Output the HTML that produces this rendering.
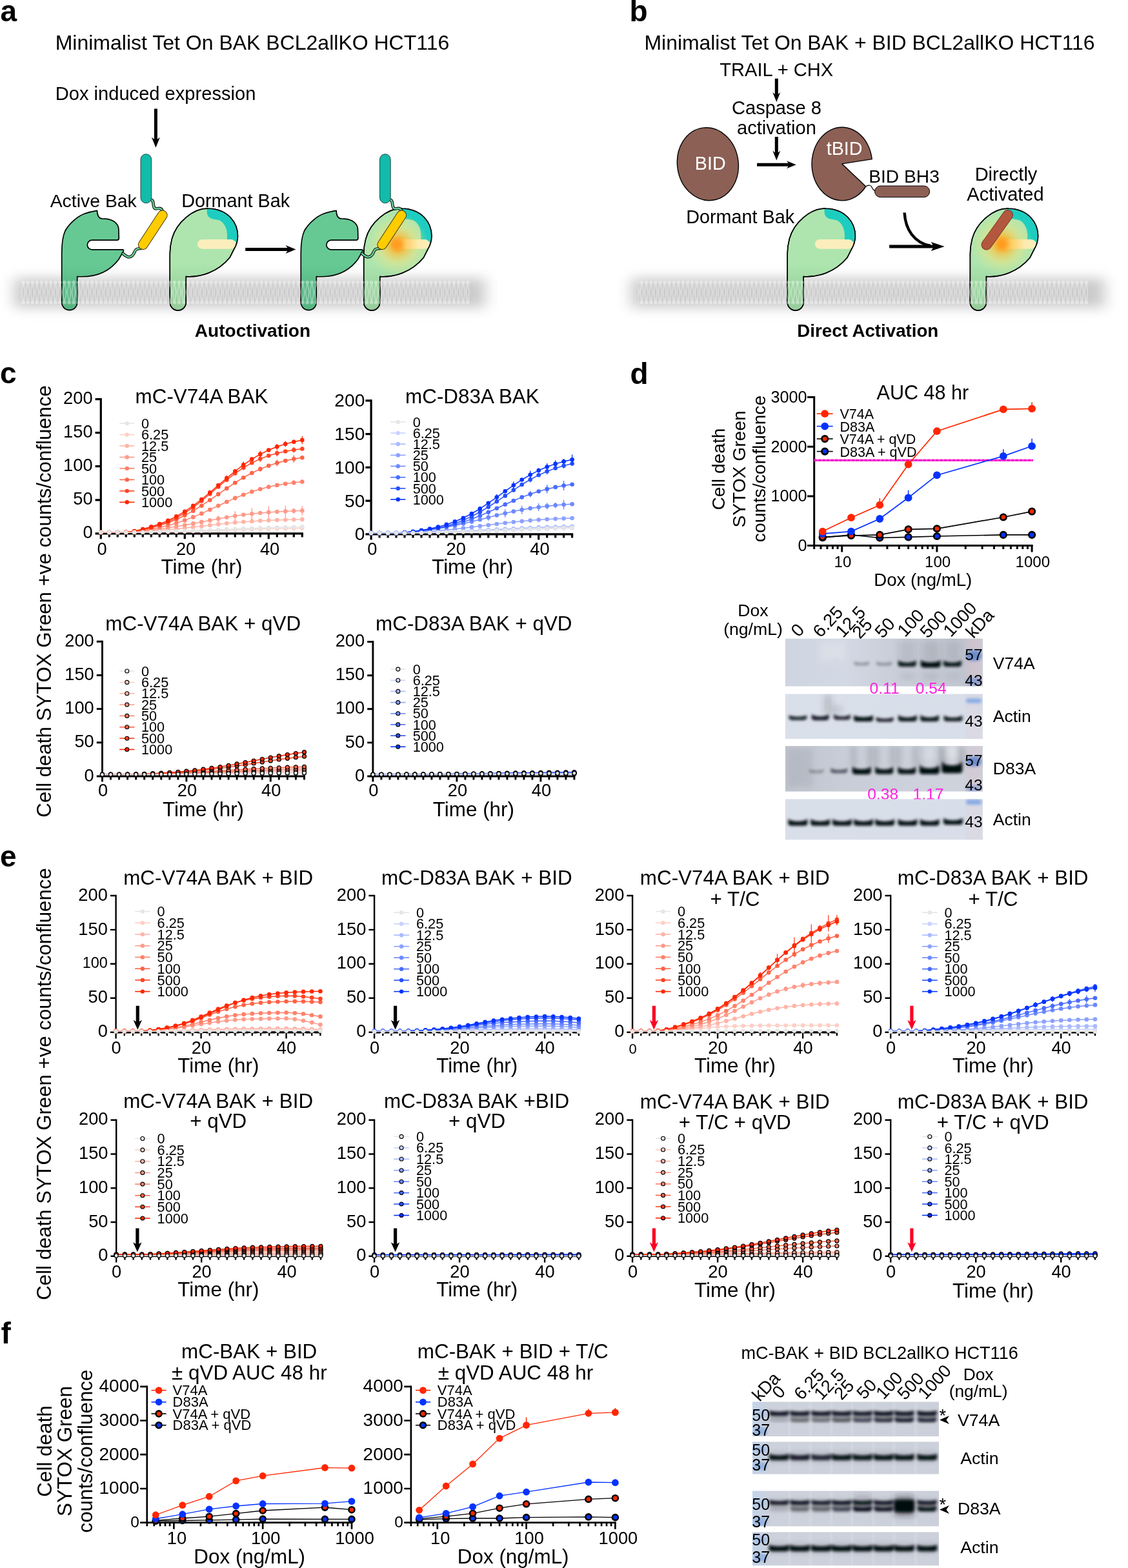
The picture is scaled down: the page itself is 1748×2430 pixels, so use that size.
<!DOCTYPE html>
<html lang="en"><head><meta charset="utf-8"><title>Figure</title>
<style>
html,body{margin:0;padding:0;background:#fff}
body{width:1748px;height:2430px;overflow:hidden}
svg{display:block}
svg text{font-family:"Liberation Sans",sans-serif}
</style></head><body>
<svg width="1748" height="2430" viewBox="0 0 1748 2430">
<defs>
<filter id="blur15" x="-20%" y="-100%" width="140%" height="300%"><feGaussianBlur stdDeviation="2"/></filter>
<filter id="blur2" x="-20%" y="-100%" width="140%" height="300%"><feGaussianBlur stdDeviation="2.2"/></filter>
<filter id="blur4" x="-50%" y="-50%" width="200%" height="200%"><feGaussianBlur stdDeviation="5"/></filter>
<filter id="mblur" x="-10%" y="-150%" width="120%" height="400%"><feGaussianBlur stdDeviation="11 9"/></filter>
<filter id="glow" x="-50%" y="-50%" width="200%" height="200%"><feGaussianBlur stdDeviation="3"/></filter>
<pattern id="lip" patternUnits="userSpaceOnUse" x="32.5" y="433" width="7.1" height="40"><g fill="#fff" stroke="none"><circle cx="3.55" cy="4.6" r="2.7"/><circle cx="3.55" cy="35.8" r="2.7"/></g><path d="M3.1 6.5C2.2 12 0.6 17 1.2 23M4 6.5C4.9 12 6.5 17 5.9 23M3.1 34C2.2 28 0.6 23 1.2 17M4 34C4.9 28 6.5 23 5.9 17" stroke="#fff" stroke-width="1.5" fill="none"/></pattern>
<linearGradient id="stemA" x1="0" x2="0" y1="0" y2="1" gradientUnits="userSpaceOnUse" ><stop offset="0" stop-color="#66C994"/><stop offset="1" stop-color="#66C994"/></linearGradient>
<linearGradient id="gA" gradientUnits="userSpaceOnUse" x1="0" y1="410" x2="0" y2="480"><stop offset="0" stop-color="#66C994"/><stop offset="0.45" stop-color="#5BBB88"/><stop offset="1" stop-color="#58B583"/></linearGradient>
<linearGradient id="gD" gradientUnits="userSpaceOnUse" x1="0" y1="410" x2="0" y2="480"><stop offset="0" stop-color="#AEE5AE"/><stop offset="0.45" stop-color="#9ED6A2"/><stop offset="1" stop-color="#98CC9C"/></linearGradient>
<radialGradient id="gGlow" cx="0.5" cy="0.5" r="0.5"><stop offset="0" stop-color="#FF9A1F" stop-opacity="1"/><stop offset="0.25" stop-color="#FFB733" stop-opacity="0.8"/><stop offset="0.6" stop-color="#F6E27A" stop-opacity="0.45"/><stop offset="1" stop-color="#E8EE9A" stop-opacity="0"/></radialGradient>
<linearGradient id="gBar" x1="0" x2="1" y1="0" y2="0"><stop offset="0" stop-color="#FFA52A"/><stop offset="0.3" stop-color="#FFC95A"/><stop offset="0.7" stop-color="#FCEBAE"/><stop offset="1" stop-color="#FBEEBC"/></linearGradient>
<clipPath id="dc263"><path d="M0 393L0 468.6A12.5 12.5 0 0 0 25 468.6L25 428.5C47 430 74 422 92.7 399.3L99 386.8C103 380 105.2 372 105.2 365.9C105.2 345 90 324 60 323.2C36 322 10 345 3.1 370.1C1 378 0 386 0 393Z"/></clipPath>
<clipPath id="dc563"><path d="M0 393L0 468.6A12.5 12.5 0 0 0 25 468.6L25 428.5C47 430 74 422 92.7 399.3L99 386.8C103 380 105.2 372 105.2 365.9C105.2 345 90 324 60 323.2C36 322 10 345 3.1 370.1C1 378 0 386 0 393Z"/></clipPath>
<clipPath id="dc1220"><path d="M0 393L0 468.6A12.5 12.5 0 0 0 25 468.6L25 428.5C47 430 74 422 92.7 399.3L99 386.8C103 380 105.2 372 105.2 365.9C105.2 345 90 324 60 323.2C36 322 10 345 3.1 370.1C1 378 0 386 0 393Z"/></clipPath>
<clipPath id="dc1503"><path d="M0 393L0 468.6A12.5 12.5 0 0 0 25 468.6L25 428.5C47 430 74 422 92.7 399.3L99 386.8C103 380 105.2 372 105.2 365.9C105.2 345 90 324 60 323.2C36 322 10 345 3.1 370.1C1 378 0 386 0 393Z"/></clipPath>
<linearGradient id="bg1" x1="0" x2="1" y1="0" y2="0"><stop offset="0" stop-color="#CFD5E0"/><stop offset="0.3" stop-color="#D3D9E4"/><stop offset="0.55" stop-color="#C9CED9"/><stop offset="0.9" stop-color="#C0C5D0"/><stop offset="1" stop-color="#CDCDD6"/></linearGradient>
<clipPath id="bc1"><rect x="1216.7" y="989.4" width="306.3" height="74.4"/></clipPath>
<linearGradient id="bg2" x1="0" x2="1" y1="0" y2="0"><stop offset="0" stop-color="#DAE0EA"/><stop offset="1" stop-color="#D8DEE9"/></linearGradient>
<clipPath id="bc2"><rect x="1216.7" y="1075.3" width="306.3" height="70.0"/></clipPath>
<linearGradient id="bg3" x1="0" x2="1" y1="0" y2="0"><stop offset="0" stop-color="#BFC4CE"/><stop offset="0.3" stop-color="#C8CDD7"/><stop offset="0.7" stop-color="#CDD2DC"/><stop offset="1" stop-color="#CFD2DB"/></linearGradient>
<clipPath id="bc3"><rect x="1216.7" y="1156.1" width="306.3" height="70.7"/></clipPath>
<linearGradient id="bg4" x1="0" x2="1" y1="0" y2="0"><stop offset="0" stop-color="#D9DFE9"/><stop offset="1" stop-color="#D8DEE9"/></linearGradient>
<clipPath id="bc4"><rect x="1216.7" y="1238.2" width="306.3" height="63.4"/></clipPath>
<linearGradient id="bg5" x1="0" x2="1" y1="0" y2="0"><stop offset="0" stop-color="#C3D3EA"/><stop offset="0.06" stop-color="#C9D2E2"/><stop offset="0.1" stop-color="#CDD1DB"/><stop offset="1" stop-color="#CCD0DA"/></linearGradient>
<clipPath id="bc5"><rect x="1166.0" y="2172.3" width="289.0" height="53.8"/></clipPath>
<linearGradient id="bg6" x1="0" x2="1" y1="0" y2="0"><stop offset="0" stop-color="#C3D3EA"/><stop offset="0.06" stop-color="#C9D2E2"/><stop offset="0.1" stop-color="#CDD1DB"/><stop offset="1" stop-color="#CCD0DA"/></linearGradient>
<clipPath id="bc6"><rect x="1166.0" y="2234.2" width="289.0" height="50.5"/></clipPath>
<linearGradient id="bg7" x1="0" x2="1" y1="0" y2="0"><stop offset="0" stop-color="#C3D3EA"/><stop offset="0.06" stop-color="#C9D2E2"/><stop offset="0.1" stop-color="#CDD1DB"/><stop offset="1" stop-color="#CCD0DA"/></linearGradient>
<clipPath id="bc7"><rect x="1166.0" y="2310.3" width="289.0" height="55.3"/></clipPath>
<linearGradient id="bg8" x1="0" x2="1" y1="0" y2="0"><stop offset="0" stop-color="#C3D3EA"/><stop offset="0.06" stop-color="#C9D2E2"/><stop offset="0.1" stop-color="#CDD1DB"/><stop offset="1" stop-color="#CCD0DA"/></linearGradient>
<clipPath id="bc8"><rect x="1166.0" y="2374.2" width="289.0" height="52.2"/></clipPath>
</defs>
<rect width="1748" height="2430" fill="#fff"/>
<text x="0.5" y="33.0" font-size="46" font-weight="bold">a</text>
<text x="85.7" y="76.9" font-size="32">Minimalist Tet On BAK BCL2allKO HCT116</text>
<text x="85.8" y="155.1" font-size="29.1">Dox induced expression</text>
<path d="M238.9 168.6h5V215.8L247.9 212.8L241.4 228.8L234.9 212.8L238.9 215.8Z" fill="#000"/>
<rect x="22" y="431" width="730" height="46" fill="#CBCBCB" filter="url(#mblur)"/>
<text x="77.7" y="321.0" font-size="28.4">Active Bak</text>
<text x="281.2" y="321.4" font-size="28.8">Dormant Bak</text>
<path transform="translate(95.7 0)" d="M0 393L0 468.6A12 12 0 0 0 24 468.6L24 428.5C47 430 72 424 88.6 401.4L95.4 389.6Q96.6 386.8 93.8 386.8L46.9 386.8A7.3 7.3 0 0 1 46.9 372.2L85.4 372.2Q88.6 372 88.6 369L88.2 355.5C88 347 80 340 67.7 339.2L63 339C57 339 55 333 54.8 326.3C47 327.5 41 329 35 331.3C24 335.5 11 347 5.2 358C2 365 0 378 0 393Z" fill="url(#gA)" stroke="#000" stroke-width="1.7" stroke-linejoin="round"/>
<g transform="translate(0 0)">
<path d="M232 309C240 309 236 319 239.5 322.5C243 326 247 319.5 251 325" stroke="#000" stroke-width="4.6" fill="none" stroke-linecap="round"/>
<path d="M232 309C240 309 236 319 239.5 322.5C243 326 247 319.5 251 325" stroke="#66C994" stroke-width="2.6" fill="none" stroke-linecap="round"/>
<path d="M219 385C212 385 210 386.5 208.5 390.5C207 395 203 399.5 198 398C194.5 397 192.5 395 190.5 393" stroke="#000" stroke-width="4.6" fill="none" stroke-linecap="round"/>
<path d="M219 385C212 385 210 386.5 208.5 390.5C207 395 203 399.5 198 398C194.5 397 192.5 395 190.5 393" stroke="#66C994" stroke-width="2.6" fill="none" stroke-linecap="round"/>
<rect x="218" y="238.8" width="16.7" height="76" rx="8.3" fill="#12BBAA" stroke="#1a3a36" stroke-width="0.9"/>
<path d="M221.7 379.2L251.8 333.4" stroke="#3a2e00" stroke-width="15.6" stroke-linecap="round"/>
<path d="M221.7 379.2L251.8 333.4" stroke="#FFCC00" stroke-width="13.8" stroke-linecap="round"/>
</g>
<g transform="translate(263.3 0)">
<path d="M0 393L0 468.6A12.5 12.5 0 0 0 25 468.6L25 428.5C47 430 74 422 92.7 399.3L99 386.8C103 380 105.2 372 105.2 365.9C105.2 345 90 324 60 323.2C36 322 10 345 3.1 370.1C1 378 0 386 0 393Z" fill="url(#gD)" stroke="#000" stroke-width="1.4" stroke-linejoin="round"/>
<path d="M57.3 323.3C90 324 105.2 346 105.2 365.9C105.2 369 104.8 372 104 375L88.5 371.5C89.5 360 88 349 78.1 342C71 339 62 341 58.4 333.5C57.3 331 57.2 327 57.3 323.3Z" fill="#1DCDC0" clip-path="url(#dc263)"/>
<rect x="42.7" y="371.1" width="59.4" height="14.6" rx="7.3" fill="#FBEEBC"/>
<path d="M0 393L0 468.6A12.5 12.5 0 0 0 25 468.6L25 428.5C47 430 74 422 92.7 399.3L99 386.8C103 380 105.2 372 105.2 365.9C105.2 345 90 324 60 323.2C36 322 10 345 3.1 370.1C1 378 0 386 0 393Z" fill="none" stroke="#000" stroke-width="1.6" stroke-linejoin="round"/>
</g>
<path d="M380.2 383.9v5H445.5L442.5 392.9L458.5 386.4L442.5 379.9L445.5 383.9Z" fill="#000"/>
<path transform="translate(466.3 0)" d="M0 393L0 468.6A12 12 0 0 0 24 468.6L24 428.5C47 430 72 424 88.6 401.4L95.4 389.6Q96.6 386.8 93.8 386.8L46.9 386.8A7.3 7.3 0 0 1 46.9 372.2L85.4 372.2Q88.6 372 88.6 369L88.2 355.5C88 347 80 340 67.7 339.2L63 339C57 339 55 333 54.8 326.3C47 327.5 41 329 35 331.3C24 335.5 11 347 5.2 358C2 365 0 378 0 393Z" fill="url(#gA)" stroke="#000" stroke-width="1.7" stroke-linejoin="round"/>
<g transform="translate(563.7 0)">
<path d="M0 393L0 468.6A12.5 12.5 0 0 0 25 468.6L25 428.5C47 430 74 422 92.7 399.3L99 386.8C103 380 105.2 372 105.2 365.9C105.2 345 90 324 60 323.2C36 322 10 345 3.1 370.1C1 378 0 386 0 393Z" fill="url(#gD)" stroke="#000" stroke-width="1.4" stroke-linejoin="round"/>
<g clip-path="url(#dc563)"><path d="M57.3 323.3C90 324 105.2 346 105.2 365.9C105.2 369 104.8 372 104 375L88.5 371.5C89.5 360 88 349 78.1 342C71 339 62 341 58.4 333.5C57.3 331 57.2 327 57.3 323.3Z" fill="#1DCDC0"/>
<circle cx="52.5" cy="379" r="48" fill="url(#gGlow)"/></g>
<rect x="44" y="371.1" width="58" height="14.6" rx="7.3" fill="url(#gBar)"/>
<circle cx="52.5" cy="379" r="9" fill="#FF9A1F" opacity="0.9" filter="url(#glow)"/>
<path d="M0 393L0 468.6A12.5 12.5 0 0 0 25 468.6L25 428.5C47 430 74 422 92.7 399.3L99 386.8C103 380 105.2 372 105.2 365.9C105.2 345 90 324 60 323.2C36 322 10 345 3.1 370.1C1 378 0 386 0 393Z" fill="none" stroke="#000" stroke-width="1.6" stroke-linejoin="round"/>
</g>
<g transform="translate(370.5 0)">
<path d="M232 309C240 309 236 319 239.5 322.5C243 326 247 319.5 251 325" stroke="#000" stroke-width="4.6" fill="none" stroke-linecap="round"/>
<path d="M232 309C240 309 236 319 239.5 322.5C243 326 247 319.5 251 325" stroke="#66C994" stroke-width="2.6" fill="none" stroke-linecap="round"/>
<path d="M219 385C212 385 210 386.5 208.5 390.5C207 395 203 399.5 198 398C194.5 397 192.5 395 190.5 393" stroke="#000" stroke-width="4.6" fill="none" stroke-linecap="round"/>
<path d="M219 385C212 385 210 386.5 208.5 390.5C207 395 203 399.5 198 398C194.5 397 192.5 395 190.5 393" stroke="#66C994" stroke-width="2.6" fill="none" stroke-linecap="round"/>
<rect x="218" y="238.8" width="16.7" height="76" rx="8.3" fill="#12BBAA" stroke="#1a3a36" stroke-width="0.9"/>
<path d="M221.7 379.2L251.8 333.4" stroke="#3a2e00" stroke-width="15.6" stroke-linecap="round"/>
<path d="M221.7 379.2L251.8 333.4" stroke="#FFCC00" stroke-width="13.8" stroke-linecap="round"/>
</g>
<rect x="32.5" y="433" width="696.0" height="40" fill="url(#lip)" opacity="0.4"/>
<text x="301.7" y="522.3" font-size="28.1" font-weight="bold">Autoctivation</text>
<text x="975.5" y="33.0" font-size="46" font-weight="bold">b</text>
<text x="998.5" y="77.2" font-size="31.9">Minimalist Tet On BAK + BID BCL2allKO HCT116</text>
<text x="1203.2" y="118.2" font-size="29.1" text-anchor="middle">TRAIL + CHX</text>
<path d="M1200.8 121.7h5V146.1L1209.3 143.1L1203.3 158.1L1197.3 143.1L1200.8 146.1Z" fill="#000"/>
<text x="1203.5" y="177.0" font-size="29.1" text-anchor="middle">Caspase 8</text>
<text x="1203.5" y="208.0" font-size="29.1" text-anchor="middle">activation</text>
<path d="M1200.8 212.1h5V236.5L1209.3 233.5L1203.3 248.5L1197.3 233.5L1200.8 236.5Z" fill="#000"/>
<rect x="978" y="431" width="734" height="46" fill="#CBCBCB" filter="url(#mblur)"/>
<ellipse cx="1096.9" cy="254.2" rx="47.3" ry="56.6" transform="rotate(-8 1096.9 254.2)" fill="#8C6055" stroke="#000" stroke-width="1.4"/>
<text x="1100.7" y="262.5" font-size="28.7" text-anchor="middle" fill="#fff">BID</text>
<path d="M1173.1 252.8v5H1221.8L1218.8 261.3L1233.8 255.3L1218.8 249.3L1221.8 252.8Z" fill="#000"/>
<path d="M1304.8 253.9L1351.2 246.6A46.8 56.8 0 1 0 1341.7 289Z" fill="#8C6055" stroke="#000" stroke-width="1.4" stroke-linejoin="round"/>
<text x="1308.6" y="239.9" font-size="28.7" text-anchor="middle" fill="#fff">tBID</text>
<path d="M1341.7 289C1346 286 1350 287 1351 290C1352 293 1354 295 1357 296" stroke="#000" stroke-width="1.2" fill="none"/>
<rect x="1355.6" y="288.1" width="85" height="17.5" rx="8.7" fill="#8C6055" stroke="#000" stroke-width="1"/>
<text x="1346.2" y="282.5" font-size="28.2">BID BH3</text>
<text x="1559.0" y="280.0" font-size="29" text-anchor="middle">Directly</text>
<text x="1558.0" y="310.6" font-size="29" text-anchor="middle">Activated</text>
<text x="1063.2" y="345.7" font-size="28.8">Dormant Bak</text>
<g transform="translate(1220.2 0)">
<path d="M0 393L0 468.6A12.5 12.5 0 0 0 25 468.6L25 428.5C47 430 74 422 92.7 399.3L99 386.8C103 380 105.2 372 105.2 365.9C105.2 345 90 324 60 323.2C36 322 10 345 3.1 370.1C1 378 0 386 0 393Z" fill="url(#gD)" stroke="#000" stroke-width="1.4" stroke-linejoin="round"/>
<path d="M57.3 323.3C90 324 105.2 346 105.2 365.9C105.2 369 104.8 372 104 375L88.5 371.5C89.5 360 88 349 78.1 342C71 339 62 341 58.4 333.5C57.3 331 57.2 327 57.3 323.3Z" fill="#1DCDC0" clip-path="url(#dc1220)"/>
<rect x="42.7" y="371.1" width="59.4" height="14.6" rx="7.3" fill="#FBEEBC"/>
<path d="M0 393L0 468.6A12.5 12.5 0 0 0 25 468.6L25 428.5C47 430 74 422 92.7 399.3L99 386.8C103 380 105.2 372 105.2 365.9C105.2 345 90 324 60 323.2C36 322 10 345 3.1 370.1C1 378 0 386 0 393Z" fill="none" stroke="#000" stroke-width="1.6" stroke-linejoin="round"/>
</g>
<path d="M1401.6 329.5C1403 355 1416 376 1442 381" stroke="#000" stroke-width="4.4" fill="none"/>
<path d="M1378.1 379.4v5H1445.7L1442.7 388.9L1463.7 381.9L1442.7 374.9L1445.7 379.4Z" fill="#000"/>
<g transform="translate(1503.4 0)">
<path d="M0 393L0 468.6A12.5 12.5 0 0 0 25 468.6L25 428.5C47 430 74 422 92.7 399.3L99 386.8C103 380 105.2 372 105.2 365.9C105.2 345 90 324 60 323.2C36 322 10 345 3.1 370.1C1 378 0 386 0 393Z" fill="url(#gD)" stroke="#000" stroke-width="1.4" stroke-linejoin="round"/>
<g clip-path="url(#dc1503)"><path d="M57.3 323.3C90 324 105.2 346 105.2 365.9C105.2 369 104.8 372 104 375L88.5 371.5C89.5 360 88 349 78.1 342C71 339 62 341 58.4 333.5C57.3 331 57.2 327 57.3 323.3Z" fill="#1DCDC0"/>
<circle cx="49.5" cy="378" r="48" fill="url(#gGlow)"/></g>
<rect x="44" y="371.1" width="58" height="14.6" rx="7.3" fill="url(#gBar)"/>
<circle cx="49.5" cy="378" r="9" fill="#FF9A1F" opacity="0.9" filter="url(#glow)"/>
<path d="M0 393L0 468.6A12.5 12.5 0 0 0 25 468.6L25 428.5C47 430 74 422 92.7 399.3L99 386.8C103 380 105.2 372 105.2 365.9C105.2 345 90 324 60 323.2C36 322 10 345 3.1 370.1C1 378 0 386 0 393Z" fill="none" stroke="#000" stroke-width="1.6" stroke-linejoin="round"/>
</g>
<path d="M1528.8 379.3L1561.8 333.2" stroke="#5a2a1a" stroke-width="16.4" stroke-linecap="round" opacity="0.9"/>
<path d="M1528.8 379.3L1561.8 333.2" stroke="#B4573F" stroke-width="14.8" stroke-linecap="round"/>
<rect x="989" y="433" width="697" height="40" fill="url(#lip)" opacity="0.4"/>
<text x="1235.3" y="522.3" font-size="27.7" font-weight="bold">Direct Activation</text>
<text x="0.0" y="594.0" font-size="46" font-weight="bold">c</text>
<text x="78.9" y="931.9" font-size="31.2" text-anchor="middle" transform="rotate(-90 78.9 931.9)">Cell death SYTOX Green +ve counts/confluence</text>
<g>
<text x="312.5" y="625.1" font-size="31.4" text-anchor="middle">mC-V74A BAK</text>
<path d="M156.3 617.0V828.4" stroke="#000" stroke-width="3.2" fill="none"/>
<path d="M154.7 826.8H469.9" stroke="#000" stroke-width="3.2" fill="none"/>
<path d="M147.6 826.8H156.3M147.6 774.8H156.3M147.6 722.7H156.3M147.6 670.6H156.3M147.6 618.6H156.3" stroke="#000" stroke-width="3.2" fill="none"/>
<path d="M156.3 826.8v8.5M169.3 826.8v5.6M182.3 826.8v5.6M195.3 826.8v5.6M208.3 826.8v5.6M221.3 826.8v5.6M234.3 826.8v5.6M247.3 826.8v5.6M260.3 826.8v5.6M273.3 826.8v5.6M286.3 826.8v8.5M299.3 826.8v5.6M312.3 826.8v5.6M325.3 826.8v5.6M338.3 826.8v5.6M351.3 826.8v5.6M364.3 826.8v5.6M377.3 826.8v5.6M390.3 826.8v5.6M403.3 826.8v5.6M416.3 826.8v8.5M429.3 826.8v5.6M442.3 826.8v5.6M455.3 826.8v5.6M468.3 826.8v5.6" stroke="#000" stroke-width="3.2" fill="none"/>
<text x="143.6" y="834.4" font-size="27.3" text-anchor="end">0</text>
<text x="143.6" y="782.3" font-size="27.3" text-anchor="end">50</text>
<text x="143.6" y="730.3" font-size="27.3" text-anchor="end">100</text>
<text x="143.6" y="678.2" font-size="27.3" text-anchor="end">150</text>
<text x="143.6" y="626.2" font-size="27.3" text-anchor="end">200</text>
<text x="158.1" y="860.1" font-size="27.3" text-anchor="middle">0</text>
<text x="288.1" y="860.1" font-size="27.3" text-anchor="middle">20</text>
<text x="418.1" y="860.1" font-size="27.3" text-anchor="middle">40</text>
<text x="312.5" y="888.9" font-size="31.4" text-anchor="middle">Time (hr)</text>
<path d="M185.2 656.1H208.4" stroke="#E6E6E6" stroke-width="1.6"/>
<circle cx="196.8" cy="656.1" r="3.2" fill="#E6E6E6"/>
<text x="219.0" y="663.7" font-size="21.7">0</text>
<path d="M185.2 673.6H208.4" stroke="#FFCFC7" stroke-width="1.6"/>
<circle cx="196.8" cy="673.6" r="3.2" fill="#FFCFC7"/>
<text x="219.0" y="681.2" font-size="21.7">6.25</text>
<path d="M185.2 691.0H208.4" stroke="#FFB5A8" stroke-width="1.6"/>
<circle cx="196.8" cy="691.0" r="3.2" fill="#FFB5A8"/>
<text x="219.0" y="698.6" font-size="21.7">12.5</text>
<path d="M185.2 708.5H208.4" stroke="#FF9B8A" stroke-width="1.6"/>
<circle cx="196.8" cy="708.5" r="3.2" fill="#FF9B8A"/>
<text x="219.0" y="716.1" font-size="21.7">25</text>
<path d="M185.2 725.9H208.4" stroke="#FF816B" stroke-width="1.6"/>
<circle cx="196.8" cy="725.9" r="3.2" fill="#FF816B"/>
<text x="219.0" y="733.5" font-size="21.7">50</text>
<path d="M185.2 743.4H208.4" stroke="#FF6347" stroke-width="1.6"/>
<circle cx="196.8" cy="743.4" r="3.2" fill="#FF6347"/>
<text x="219.0" y="751.0" font-size="21.7">100</text>
<path d="M185.2 760.9H208.4" stroke="#FF4424" stroke-width="1.6"/>
<circle cx="196.8" cy="760.9" r="3.2" fill="#FF4424"/>
<text x="219.0" y="768.5" font-size="21.7">500</text>
<path d="M185.2 778.3H208.4" stroke="#FF2600" stroke-width="1.6"/>
<circle cx="196.8" cy="778.3" r="3.2" fill="#FF2600"/>
<text x="219.0" y="785.9" font-size="21.7">1000</text>
<path d="M156.3 825.0L169.3 825.0L182.3 825.0L195.3 825.0L208.3 824.9L221.3 824.8L234.3 824.6L247.3 824.4L260.3 824.2L273.3 824.0L286.3 823.7L299.3 823.3L312.3 822.9L325.3 822.5L338.3 822.0L351.3 821.5L364.3 821.1L377.3 820.6L390.3 820.2L403.3 819.8L416.3 819.4L429.3 819.1L442.3 818.9L455.3 818.7L468.3 818.5" stroke="#FFCFC7" stroke-width="1.5" fill="none"/>
<g fill="#FFCFC7"><circle cx="156.3" cy="825.0" r="3.3"/><circle cx="169.3" cy="825.0" r="3.3"/><circle cx="182.3" cy="825.0" r="3.3"/><circle cx="195.3" cy="825.0" r="3.3"/><circle cx="208.3" cy="824.9" r="3.3"/><circle cx="221.3" cy="824.8" r="3.3"/><circle cx="234.3" cy="824.6" r="3.3"/><circle cx="247.3" cy="824.4" r="3.3"/><circle cx="260.3" cy="824.2" r="3.3"/><circle cx="273.3" cy="824.0" r="3.3"/><circle cx="286.3" cy="823.7" r="3.3"/><circle cx="299.3" cy="823.3" r="3.3"/><circle cx="312.3" cy="822.9" r="3.3"/><circle cx="325.3" cy="822.5" r="3.3"/><circle cx="338.3" cy="822.0" r="3.3"/><circle cx="351.3" cy="821.5" r="3.3"/><circle cx="364.3" cy="821.1" r="3.3"/><circle cx="377.3" cy="820.6" r="3.3"/><circle cx="390.3" cy="820.2" r="3.3"/><circle cx="403.3" cy="819.8" r="3.3"/><circle cx="416.3" cy="819.4" r="3.3"/><circle cx="429.3" cy="819.1" r="3.3"/><circle cx="442.3" cy="818.9" r="3.3"/><circle cx="455.3" cy="818.7" r="3.3"/><circle cx="468.3" cy="818.5" r="3.3"/></g>
<path d="M156.3 825.0L169.3 825.0L182.3 825.0L195.3 824.9L208.3 824.5L221.3 823.8L234.3 822.9L247.3 822.0L260.3 820.9L273.3 819.7L286.3 818.3L299.3 816.9L312.3 815.4L325.3 813.9L338.3 812.4L351.3 811.1L364.3 809.8L377.3 808.8L390.3 807.9L403.3 807.1L416.3 806.5L429.3 805.9L442.3 805.5L455.3 805.2L468.3 804.9" stroke="#FFB5A8" stroke-width="1.5" fill="none"/>
<path d="M442.3 803.0V808.1M468.3 802.4V807.5" stroke="#FFB5A8" stroke-width="1.3" fill="none"/>
<g fill="#FFB5A8"><circle cx="156.3" cy="825.0" r="3.3"/><circle cx="169.3" cy="825.0" r="3.3"/><circle cx="182.3" cy="825.0" r="3.3"/><circle cx="195.3" cy="824.9" r="3.3"/><circle cx="208.3" cy="824.5" r="3.3"/><circle cx="221.3" cy="823.8" r="3.3"/><circle cx="234.3" cy="822.9" r="3.3"/><circle cx="247.3" cy="822.0" r="3.3"/><circle cx="260.3" cy="820.9" r="3.3"/><circle cx="273.3" cy="819.7" r="3.3"/><circle cx="286.3" cy="818.3" r="3.3"/><circle cx="299.3" cy="816.9" r="3.3"/><circle cx="312.3" cy="815.4" r="3.3"/><circle cx="325.3" cy="813.9" r="3.3"/><circle cx="338.3" cy="812.4" r="3.3"/><circle cx="351.3" cy="811.1" r="3.3"/><circle cx="364.3" cy="809.8" r="3.3"/><circle cx="377.3" cy="808.8" r="3.3"/><circle cx="390.3" cy="807.9" r="3.3"/><circle cx="403.3" cy="807.1" r="3.3"/><circle cx="416.3" cy="806.5" r="3.3"/><circle cx="429.3" cy="805.9" r="3.3"/><circle cx="442.3" cy="805.5" r="3.3"/><circle cx="455.3" cy="805.2" r="3.3"/><circle cx="468.3" cy="804.9" r="3.3"/></g>
<path d="M156.3 825.0L169.3 825.0L182.3 825.0L195.3 824.9L208.3 824.2L221.3 822.9L234.3 821.5L247.3 819.9L260.3 818.1L273.3 816.1L286.3 813.8L299.3 811.4L312.3 808.9L325.3 806.4L338.3 803.9L351.3 801.7L364.3 799.6L377.3 797.8L390.3 796.3L403.3 795.0L416.3 793.9L429.3 793.1L442.3 792.4L455.3 791.8L468.3 791.4" stroke="#FF9B8A" stroke-width="1.5" fill="none"/>
<path d="M273.3 813.1V819.1M299.3 807.8V814.9M312.3 806.0V811.7M325.3 802.9V809.9M338.3 798.9V809.0M351.3 798.8V804.5M364.3 792.3V807.0M390.3 787.2V805.4M416.3 784.3V803.6M429.3 790.4V795.7M442.3 783.4V801.4M455.3 787.5V796.2M468.3 784.1V798.7" stroke="#FF9B8A" stroke-width="1.3" fill="none"/>
<g fill="#FF9B8A"><circle cx="156.3" cy="825.0" r="3.3"/><circle cx="169.3" cy="825.0" r="3.3"/><circle cx="182.3" cy="825.0" r="3.3"/><circle cx="195.3" cy="824.9" r="3.3"/><circle cx="208.3" cy="824.2" r="3.3"/><circle cx="221.3" cy="822.9" r="3.3"/><circle cx="234.3" cy="821.5" r="3.3"/><circle cx="247.3" cy="819.9" r="3.3"/><circle cx="260.3" cy="818.1" r="3.3"/><circle cx="273.3" cy="816.1" r="3.3"/><circle cx="286.3" cy="813.8" r="3.3"/><circle cx="299.3" cy="811.4" r="3.3"/><circle cx="312.3" cy="808.9" r="3.3"/><circle cx="325.3" cy="806.4" r="3.3"/><circle cx="338.3" cy="803.9" r="3.3"/><circle cx="351.3" cy="801.7" r="3.3"/><circle cx="364.3" cy="799.6" r="3.3"/><circle cx="377.3" cy="797.8" r="3.3"/><circle cx="390.3" cy="796.3" r="3.3"/><circle cx="403.3" cy="795.0" r="3.3"/><circle cx="416.3" cy="793.9" r="3.3"/><circle cx="429.3" cy="793.1" r="3.3"/><circle cx="442.3" cy="792.4" r="3.3"/><circle cx="455.3" cy="791.8" r="3.3"/><circle cx="468.3" cy="791.4" r="3.3"/></g>
<path d="M156.3 825.0L169.3 825.0L182.3 825.0L195.3 824.8L208.3 823.8L221.3 822.1L234.3 819.9L247.3 817.4L260.3 814.4L273.3 810.7L286.3 806.4L299.3 801.4L312.3 795.9L325.3 789.9L338.3 783.8L351.3 777.7L364.3 771.9L377.3 766.7L390.3 762.0L403.3 758.0L416.3 754.6L429.3 751.9L442.3 749.7L455.3 748.0L468.3 746.6" stroke="#FF816B" stroke-width="1.5" fill="none"/>
<path d="M338.3 781.2V786.3M364.3 768.7V775.2M390.3 758.6V765.4M416.3 751.6V757.7M429.3 749.2V754.6M455.3 744.2V751.8" stroke="#FF816B" stroke-width="1.3" fill="none"/>
<g fill="#FF816B"><circle cx="156.3" cy="825.0" r="3.3"/><circle cx="169.3" cy="825.0" r="3.3"/><circle cx="182.3" cy="825.0" r="3.3"/><circle cx="195.3" cy="824.8" r="3.3"/><circle cx="208.3" cy="823.8" r="3.3"/><circle cx="221.3" cy="822.1" r="3.3"/><circle cx="234.3" cy="819.9" r="3.3"/><circle cx="247.3" cy="817.4" r="3.3"/><circle cx="260.3" cy="814.4" r="3.3"/><circle cx="273.3" cy="810.7" r="3.3"/><circle cx="286.3" cy="806.4" r="3.3"/><circle cx="299.3" cy="801.4" r="3.3"/><circle cx="312.3" cy="795.9" r="3.3"/><circle cx="325.3" cy="789.9" r="3.3"/><circle cx="338.3" cy="783.8" r="3.3"/><circle cx="351.3" cy="777.7" r="3.3"/><circle cx="364.3" cy="771.9" r="3.3"/><circle cx="377.3" cy="766.7" r="3.3"/><circle cx="390.3" cy="762.0" r="3.3"/><circle cx="403.3" cy="758.0" r="3.3"/><circle cx="416.3" cy="754.6" r="3.3"/><circle cx="429.3" cy="751.9" r="3.3"/><circle cx="442.3" cy="749.7" r="3.3"/><circle cx="455.3" cy="748.0" r="3.3"/><circle cx="468.3" cy="746.6" r="3.3"/></g>
<path d="M156.3 825.0L169.3 825.0L182.3 825.0L195.3 824.8L208.3 823.4L221.3 821.0L234.3 817.9L247.3 814.4L260.3 810.2L273.3 805.0L286.3 798.8L299.3 791.7L312.3 783.7L325.3 775.0L338.3 765.9L351.3 756.9L364.3 748.2L377.3 740.2L390.3 733.0L403.3 726.9L416.3 721.7L429.3 717.4L442.3 714.0L455.3 711.3L468.3 709.2" stroke="#FF6347" stroke-width="1.5" fill="none"/>
<path d="M338.3 763.2V768.6M364.3 745.4V751.0M377.3 737.7V742.7M403.3 722.9V730.8M429.3 712.3V722.6M455.3 705.5V717.1" stroke="#FF6347" stroke-width="1.3" fill="none"/>
<g fill="#FF6347"><circle cx="156.3" cy="825.0" r="3.3"/><circle cx="169.3" cy="825.0" r="3.3"/><circle cx="182.3" cy="825.0" r="3.3"/><circle cx="195.3" cy="824.8" r="3.3"/><circle cx="208.3" cy="823.4" r="3.3"/><circle cx="221.3" cy="821.0" r="3.3"/><circle cx="234.3" cy="817.9" r="3.3"/><circle cx="247.3" cy="814.4" r="3.3"/><circle cx="260.3" cy="810.2" r="3.3"/><circle cx="273.3" cy="805.0" r="3.3"/><circle cx="286.3" cy="798.8" r="3.3"/><circle cx="299.3" cy="791.7" r="3.3"/><circle cx="312.3" cy="783.7" r="3.3"/><circle cx="325.3" cy="775.0" r="3.3"/><circle cx="338.3" cy="765.9" r="3.3"/><circle cx="351.3" cy="756.9" r="3.3"/><circle cx="364.3" cy="748.2" r="3.3"/><circle cx="377.3" cy="740.2" r="3.3"/><circle cx="390.3" cy="733.0" r="3.3"/><circle cx="403.3" cy="726.9" r="3.3"/><circle cx="416.3" cy="721.7" r="3.3"/><circle cx="429.3" cy="717.4" r="3.3"/><circle cx="442.3" cy="714.0" r="3.3"/><circle cx="455.3" cy="711.3" r="3.3"/><circle cx="468.3" cy="709.2" r="3.3"/></g>
<path d="M156.3 825.0L169.3 825.0L182.3 825.0L195.3 824.8L208.3 823.4L221.3 820.9L234.3 817.6L247.3 813.8L260.3 808.9L273.3 802.7L286.3 795.2L299.3 786.4L312.3 776.4L325.3 765.5L338.3 754.5L351.3 743.7L364.3 733.6L377.3 724.8L390.3 717.3L403.3 711.1L416.3 706.2L429.3 702.4L442.3 699.5L455.3 697.3L468.3 695.6" stroke="#FF4424" stroke-width="1.5" fill="none"/>
<path d="M351.3 741.1V746.2M377.3 721.0V728.6M403.3 706.5V715.7M429.3 697.6V707.2M455.3 693.0V701.6" stroke="#FF4424" stroke-width="1.3" fill="none"/>
<g fill="#FF4424"><circle cx="156.3" cy="825.0" r="3.3"/><circle cx="169.3" cy="825.0" r="3.3"/><circle cx="182.3" cy="825.0" r="3.3"/><circle cx="195.3" cy="824.8" r="3.3"/><circle cx="208.3" cy="823.4" r="3.3"/><circle cx="221.3" cy="820.9" r="3.3"/><circle cx="234.3" cy="817.6" r="3.3"/><circle cx="247.3" cy="813.8" r="3.3"/><circle cx="260.3" cy="808.9" r="3.3"/><circle cx="273.3" cy="802.7" r="3.3"/><circle cx="286.3" cy="795.2" r="3.3"/><circle cx="299.3" cy="786.4" r="3.3"/><circle cx="312.3" cy="776.4" r="3.3"/><circle cx="325.3" cy="765.5" r="3.3"/><circle cx="338.3" cy="754.5" r="3.3"/><circle cx="351.3" cy="743.7" r="3.3"/><circle cx="364.3" cy="733.6" r="3.3"/><circle cx="377.3" cy="724.8" r="3.3"/><circle cx="390.3" cy="717.3" r="3.3"/><circle cx="403.3" cy="711.1" r="3.3"/><circle cx="416.3" cy="706.2" r="3.3"/><circle cx="429.3" cy="702.4" r="3.3"/><circle cx="442.3" cy="699.5" r="3.3"/><circle cx="455.3" cy="697.3" r="3.3"/><circle cx="468.3" cy="695.6" r="3.3"/></g>
<path d="M156.3 825.0L169.3 825.0L182.3 825.0L195.3 824.7L208.3 823.0L221.3 820.0L234.3 816.2L247.3 812.0L260.3 806.7L273.3 800.3L286.3 792.7L299.3 783.9L312.3 774.0L325.3 763.3L338.3 752.1L351.3 741.0L364.3 730.3L377.3 720.4L390.3 711.6L403.3 703.9L416.3 697.5L429.3 692.3L442.3 688.1L455.3 684.7L468.3 682.1" stroke="#FF2600" stroke-width="1.5" fill="none"/>
<path d="M325.3 760.4V766.2M351.3 736.7V745.3M377.3 715.2V725.5M403.3 698.8V709.1M416.3 694.7V700.4M429.3 687.9V696.7M442.3 683.6V692.6M455.3 681.5V687.9M468.3 676.0V688.2" stroke="#FF2600" stroke-width="1.3" fill="none"/>
<g fill="#FF2600"><circle cx="156.3" cy="825.0" r="3.3"/><circle cx="169.3" cy="825.0" r="3.3"/><circle cx="182.3" cy="825.0" r="3.3"/><circle cx="195.3" cy="824.7" r="3.3"/><circle cx="208.3" cy="823.0" r="3.3"/><circle cx="221.3" cy="820.0" r="3.3"/><circle cx="234.3" cy="816.2" r="3.3"/><circle cx="247.3" cy="812.0" r="3.3"/><circle cx="260.3" cy="806.7" r="3.3"/><circle cx="273.3" cy="800.3" r="3.3"/><circle cx="286.3" cy="792.7" r="3.3"/><circle cx="299.3" cy="783.9" r="3.3"/><circle cx="312.3" cy="774.0" r="3.3"/><circle cx="325.3" cy="763.3" r="3.3"/><circle cx="338.3" cy="752.1" r="3.3"/><circle cx="351.3" cy="741.0" r="3.3"/><circle cx="364.3" cy="730.3" r="3.3"/><circle cx="377.3" cy="720.4" r="3.3"/><circle cx="390.3" cy="711.6" r="3.3"/><circle cx="403.3" cy="703.9" r="3.3"/><circle cx="416.3" cy="697.5" r="3.3"/><circle cx="429.3" cy="692.3" r="3.3"/><circle cx="442.3" cy="688.1" r="3.3"/><circle cx="455.3" cy="684.7" r="3.3"/><circle cx="468.3" cy="682.1" r="3.3"/></g>
<path d="M156.3 825.0L169.3 825.0L182.3 825.0L195.3 825.0L208.3 824.9L221.3 824.7L234.3 824.4L247.3 824.1L260.3 823.8L273.3 823.5L286.3 823.0L299.3 822.6L312.3 822.1L325.3 821.5L338.3 821.0L351.3 820.4L364.3 819.8L377.3 819.2L390.3 818.7L403.3 818.2L416.3 817.7L429.3 817.3L442.3 817.0L455.3 816.7L468.3 816.4" stroke="#E6E6E6" stroke-width="1.5" fill="none"/>
<g fill="#E6E6E6"><circle cx="156.3" cy="825.0" r="3.3"/><circle cx="169.3" cy="825.0" r="3.3"/><circle cx="182.3" cy="825.0" r="3.3"/><circle cx="195.3" cy="825.0" r="3.3"/><circle cx="208.3" cy="824.9" r="3.3"/><circle cx="221.3" cy="824.7" r="3.3"/><circle cx="234.3" cy="824.4" r="3.3"/><circle cx="247.3" cy="824.1" r="3.3"/><circle cx="260.3" cy="823.8" r="3.3"/><circle cx="273.3" cy="823.5" r="3.3"/><circle cx="286.3" cy="823.0" r="3.3"/><circle cx="299.3" cy="822.6" r="3.3"/><circle cx="312.3" cy="822.1" r="3.3"/><circle cx="325.3" cy="821.5" r="3.3"/><circle cx="338.3" cy="821.0" r="3.3"/><circle cx="351.3" cy="820.4" r="3.3"/><circle cx="364.3" cy="819.8" r="3.3"/><circle cx="377.3" cy="819.2" r="3.3"/><circle cx="390.3" cy="818.7" r="3.3"/><circle cx="403.3" cy="818.2" r="3.3"/><circle cx="416.3" cy="817.7" r="3.3"/><circle cx="429.3" cy="817.3" r="3.3"/><circle cx="442.3" cy="817.0" r="3.3"/><circle cx="455.3" cy="816.7" r="3.3"/><circle cx="468.3" cy="816.4" r="3.3"/></g>
</g>
<g>
<text x="731.9" y="625.1" font-size="31.4" text-anchor="middle">mC-D83A BAK</text>
<path d="M575.1 619.2V829.5" stroke="#000" stroke-width="3.2" fill="none"/>
<path d="M573.5 827.9H888.2" stroke="#000" stroke-width="3.2" fill="none"/>
<path d="M566.4 827.9H575.1M566.4 776.1H575.1M566.4 724.3H575.1M566.4 672.6H575.1M566.4 620.8H575.1" stroke="#000" stroke-width="3.2" fill="none"/>
<path d="M575.1 827.9v8.5M588.1 827.9v5.6M601.1 827.9v5.6M614.0 827.9v5.6M627.0 827.9v5.6M640.0 827.9v5.6M653.0 827.9v5.6M666.0 827.9v5.6M678.9 827.9v5.6M691.9 827.9v5.6M704.9 827.9v8.5M717.9 827.9v5.6M730.9 827.9v5.6M743.8 827.9v5.6M756.8 827.9v5.6M769.8 827.9v5.6M782.8 827.9v5.6M795.8 827.9v5.6M808.7 827.9v5.6M821.7 827.9v5.6M834.7 827.9v8.5M847.7 827.9v5.6M860.7 827.9v5.6M873.6 827.9v5.6M886.6 827.9v5.6" stroke="#000" stroke-width="3.2" fill="none"/>
<text x="565.4" y="837.3" font-size="28.2" text-anchor="end">0</text>
<text x="565.4" y="785.6" font-size="28.2" text-anchor="end">50</text>
<text x="565.4" y="733.8" font-size="28.2" text-anchor="end">100</text>
<text x="565.4" y="682.0" font-size="28.2" text-anchor="end">150</text>
<text x="565.4" y="630.2" font-size="28.2" text-anchor="end">200</text>
<text x="576.9" y="860.0" font-size="27.3" text-anchor="middle">0</text>
<text x="706.7" y="860.0" font-size="27.3" text-anchor="middle">20</text>
<text x="836.5" y="860.0" font-size="27.3" text-anchor="middle">40</text>
<text x="732.2" y="889.4" font-size="31.4" text-anchor="middle">Time (hr)</text>
<path d="M605.2 653.9H628.4" stroke="#E6E6E6" stroke-width="1.6"/>
<circle cx="616.8" cy="653.9" r="3.2" fill="#E6E6E6"/>
<text x="639.7" y="661.5" font-size="21.7">0</text>
<path d="M605.2 671.1H628.4" stroke="#C8D2FF" stroke-width="1.6"/>
<circle cx="616.8" cy="671.1" r="3.2" fill="#C8D2FF"/>
<text x="639.7" y="678.7" font-size="21.7">6.25</text>
<path d="M605.2 688.2H628.4" stroke="#AABAFF" stroke-width="1.6"/>
<circle cx="616.8" cy="688.2" r="3.2" fill="#AABAFF"/>
<text x="639.7" y="695.8" font-size="21.7">12.5</text>
<path d="M605.2 705.4H628.4" stroke="#8CA1FF" stroke-width="1.6"/>
<circle cx="616.8" cy="705.4" r="3.2" fill="#8CA1FF"/>
<text x="639.7" y="713.0" font-size="21.7">25</text>
<path d="M605.2 722.5H628.4" stroke="#6D89FF" stroke-width="1.6"/>
<circle cx="616.8" cy="722.5" r="3.2" fill="#6D89FF"/>
<text x="639.7" y="730.1" font-size="21.7">50</text>
<path d="M605.2 739.7H628.4" stroke="#4A6CFF" stroke-width="1.6"/>
<circle cx="616.8" cy="739.7" r="3.2" fill="#4A6CFF"/>
<text x="639.7" y="747.3" font-size="21.7">100</text>
<path d="M605.2 756.9H628.4" stroke="#2750FF" stroke-width="1.6"/>
<circle cx="616.8" cy="756.9" r="3.2" fill="#2750FF"/>
<text x="639.7" y="764.5" font-size="21.7">500</text>
<path d="M605.2 774.0H628.4" stroke="#0433FF" stroke-width="1.6"/>
<circle cx="616.8" cy="774.0" r="3.2" fill="#0433FF"/>
<text x="639.7" y="781.6" font-size="21.7">1000</text>
<path d="M575.1 826.1L588.1 826.1L601.1 826.1L614.0 826.1L627.0 826.0L640.0 825.8L653.0 825.6L666.0 825.4L678.9 825.2L691.9 824.9L704.9 824.6L717.9 824.2L730.9 823.8L743.8 823.4L756.8 822.9L769.8 822.4L782.8 821.9L795.8 821.3L808.7 820.8L821.7 820.3L834.7 819.7L847.7 819.3L860.7 818.8L873.6 818.4L886.6 818.1" stroke="#C8D2FF" stroke-width="1.5" fill="none"/>
<g fill="#C8D2FF"><circle cx="575.1" cy="826.1" r="3.3"/><circle cx="588.1" cy="826.1" r="3.3"/><circle cx="601.1" cy="826.1" r="3.3"/><circle cx="614.0" cy="826.1" r="3.3"/><circle cx="627.0" cy="826.0" r="3.3"/><circle cx="640.0" cy="825.8" r="3.3"/><circle cx="653.0" cy="825.6" r="3.3"/><circle cx="666.0" cy="825.4" r="3.3"/><circle cx="678.9" cy="825.2" r="3.3"/><circle cx="691.9" cy="824.9" r="3.3"/><circle cx="704.9" cy="824.6" r="3.3"/><circle cx="717.9" cy="824.2" r="3.3"/><circle cx="730.9" cy="823.8" r="3.3"/><circle cx="743.8" cy="823.4" r="3.3"/><circle cx="756.8" cy="822.9" r="3.3"/><circle cx="769.8" cy="822.4" r="3.3"/><circle cx="782.8" cy="821.9" r="3.3"/><circle cx="795.8" cy="821.3" r="3.3"/><circle cx="808.7" cy="820.8" r="3.3"/><circle cx="821.7" cy="820.3" r="3.3"/><circle cx="834.7" cy="819.7" r="3.3"/><circle cx="847.7" cy="819.3" r="3.3"/><circle cx="860.7" cy="818.8" r="3.3"/><circle cx="873.6" cy="818.4" r="3.3"/><circle cx="886.6" cy="818.1" r="3.3"/></g>
<path d="M575.1 826.1L588.1 826.1L601.1 826.1L614.0 826.1L627.0 825.9L640.0 825.7L653.0 825.4L666.0 825.1L678.9 824.7L691.9 824.2L704.9 823.8L717.9 823.2L730.9 822.6L743.8 822.0L756.8 821.3L769.8 820.6L782.8 819.9L795.8 819.2L808.7 818.6L821.7 818.0L834.7 817.4L847.7 816.9L860.7 816.5L873.6 816.1L886.6 815.8" stroke="#AABAFF" stroke-width="1.5" fill="none"/>
<g fill="#AABAFF"><circle cx="575.1" cy="826.1" r="3.3"/><circle cx="588.1" cy="826.1" r="3.3"/><circle cx="601.1" cy="826.1" r="3.3"/><circle cx="614.0" cy="826.1" r="3.3"/><circle cx="627.0" cy="825.9" r="3.3"/><circle cx="640.0" cy="825.7" r="3.3"/><circle cx="653.0" cy="825.4" r="3.3"/><circle cx="666.0" cy="825.1" r="3.3"/><circle cx="678.9" cy="824.7" r="3.3"/><circle cx="691.9" cy="824.2" r="3.3"/><circle cx="704.9" cy="823.8" r="3.3"/><circle cx="717.9" cy="823.2" r="3.3"/><circle cx="730.9" cy="822.6" r="3.3"/><circle cx="743.8" cy="822.0" r="3.3"/><circle cx="756.8" cy="821.3" r="3.3"/><circle cx="769.8" cy="820.6" r="3.3"/><circle cx="782.8" cy="819.9" r="3.3"/><circle cx="795.8" cy="819.2" r="3.3"/><circle cx="808.7" cy="818.6" r="3.3"/><circle cx="821.7" cy="818.0" r="3.3"/><circle cx="834.7" cy="817.4" r="3.3"/><circle cx="847.7" cy="816.9" r="3.3"/><circle cx="860.7" cy="816.5" r="3.3"/><circle cx="873.6" cy="816.1" r="3.3"/><circle cx="886.6" cy="815.8" r="3.3"/></g>
<path d="M575.1 826.1L588.1 826.1L601.1 826.1L614.0 826.1L627.0 825.7L640.0 825.0L653.0 824.2L666.0 823.4L678.9 822.4L691.9 821.2L704.9 819.9L717.9 818.5L730.9 816.9L743.8 815.3L756.8 813.7L769.8 812.0L782.8 810.5L795.8 809.0L808.7 807.7L821.7 806.6L834.7 805.6L847.7 804.8L860.7 804.1L873.6 803.5L886.6 803.0" stroke="#8CA1FF" stroke-width="1.5" fill="none"/>
<g fill="#8CA1FF"><circle cx="575.1" cy="826.1" r="3.3"/><circle cx="588.1" cy="826.1" r="3.3"/><circle cx="601.1" cy="826.1" r="3.3"/><circle cx="614.0" cy="826.1" r="3.3"/><circle cx="627.0" cy="825.7" r="3.3"/><circle cx="640.0" cy="825.0" r="3.3"/><circle cx="653.0" cy="824.2" r="3.3"/><circle cx="666.0" cy="823.4" r="3.3"/><circle cx="678.9" cy="822.4" r="3.3"/><circle cx="691.9" cy="821.2" r="3.3"/><circle cx="704.9" cy="819.9" r="3.3"/><circle cx="717.9" cy="818.5" r="3.3"/><circle cx="730.9" cy="816.9" r="3.3"/><circle cx="743.8" cy="815.3" r="3.3"/><circle cx="756.8" cy="813.7" r="3.3"/><circle cx="769.8" cy="812.0" r="3.3"/><circle cx="782.8" cy="810.5" r="3.3"/><circle cx="795.8" cy="809.0" r="3.3"/><circle cx="808.7" cy="807.7" r="3.3"/><circle cx="821.7" cy="806.6" r="3.3"/><circle cx="834.7" cy="805.6" r="3.3"/><circle cx="847.7" cy="804.8" r="3.3"/><circle cx="860.7" cy="804.1" r="3.3"/><circle cx="873.6" cy="803.5" r="3.3"/><circle cx="886.6" cy="803.0" r="3.3"/></g>
<path d="M575.1 826.1L588.1 826.1L601.1 826.1L614.0 826.0L627.0 825.3L640.0 824.1L653.0 822.7L666.0 821.1L678.9 819.3L691.9 817.0L704.9 814.5L717.9 811.6L730.9 808.5L743.8 805.2L756.8 801.9L769.8 798.6L782.8 795.5L795.8 792.6L808.7 790.1L821.7 787.8L834.7 786.0L847.7 784.4L860.7 783.1L873.6 782.1L886.6 781.3" stroke="#6D89FF" stroke-width="1.5" fill="none"/>
<path d="M730.9 805.1V812.0M756.8 796.7V807.0M782.8 789.1V801.9M808.7 783.4V796.7M821.7 784.6V791.1M834.7 780.1V791.9M847.7 779.2V789.6M860.7 778.7V787.6M873.6 774.8V789.4M886.6 778.3V784.3" stroke="#6D89FF" stroke-width="1.3" fill="none"/>
<g fill="#6D89FF"><circle cx="575.1" cy="826.1" r="3.3"/><circle cx="588.1" cy="826.1" r="3.3"/><circle cx="601.1" cy="826.1" r="3.3"/><circle cx="614.0" cy="826.0" r="3.3"/><circle cx="627.0" cy="825.3" r="3.3"/><circle cx="640.0" cy="824.1" r="3.3"/><circle cx="653.0" cy="822.7" r="3.3"/><circle cx="666.0" cy="821.1" r="3.3"/><circle cx="678.9" cy="819.3" r="3.3"/><circle cx="691.9" cy="817.0" r="3.3"/><circle cx="704.9" cy="814.5" r="3.3"/><circle cx="717.9" cy="811.6" r="3.3"/><circle cx="730.9" cy="808.5" r="3.3"/><circle cx="743.8" cy="805.2" r="3.3"/><circle cx="756.8" cy="801.9" r="3.3"/><circle cx="769.8" cy="798.6" r="3.3"/><circle cx="782.8" cy="795.5" r="3.3"/><circle cx="795.8" cy="792.6" r="3.3"/><circle cx="808.7" cy="790.1" r="3.3"/><circle cx="821.7" cy="787.8" r="3.3"/><circle cx="834.7" cy="786.0" r="3.3"/><circle cx="847.7" cy="784.4" r="3.3"/><circle cx="860.7" cy="783.1" r="3.3"/><circle cx="873.6" cy="782.1" r="3.3"/><circle cx="886.6" cy="781.3" r="3.3"/></g>
<path d="M575.1 826.1L588.1 826.1L601.1 826.1L614.0 826.0L627.0 825.4L640.0 824.2L653.0 822.7L666.0 821.0L678.9 818.9L691.9 816.2L704.9 813.0L717.9 809.1L730.9 804.5L743.8 799.3L756.8 793.7L769.8 787.8L782.8 781.8L795.8 776.0L808.7 770.6L821.7 765.7L834.7 761.5L847.7 757.9L860.7 754.9L873.6 752.6L886.6 750.7" stroke="#4A6CFF" stroke-width="1.5" fill="none"/>
<path d="M756.8 790.7V796.7M782.8 778.5V785.1M795.8 772.9V779.0M808.7 767.7V773.5M821.7 760.8V770.6M847.7 751.3V764.5M873.6 745.0V760.1" stroke="#4A6CFF" stroke-width="1.3" fill="none"/>
<g fill="#4A6CFF"><circle cx="575.1" cy="826.1" r="3.3"/><circle cx="588.1" cy="826.1" r="3.3"/><circle cx="601.1" cy="826.1" r="3.3"/><circle cx="614.0" cy="826.0" r="3.3"/><circle cx="627.0" cy="825.4" r="3.3"/><circle cx="640.0" cy="824.2" r="3.3"/><circle cx="653.0" cy="822.7" r="3.3"/><circle cx="666.0" cy="821.0" r="3.3"/><circle cx="678.9" cy="818.9" r="3.3"/><circle cx="691.9" cy="816.2" r="3.3"/><circle cx="704.9" cy="813.0" r="3.3"/><circle cx="717.9" cy="809.1" r="3.3"/><circle cx="730.9" cy="804.5" r="3.3"/><circle cx="743.8" cy="799.3" r="3.3"/><circle cx="756.8" cy="793.7" r="3.3"/><circle cx="769.8" cy="787.8" r="3.3"/><circle cx="782.8" cy="781.8" r="3.3"/><circle cx="795.8" cy="776.0" r="3.3"/><circle cx="808.7" cy="770.6" r="3.3"/><circle cx="821.7" cy="765.7" r="3.3"/><circle cx="834.7" cy="761.5" r="3.3"/><circle cx="847.7" cy="757.9" r="3.3"/><circle cx="860.7" cy="754.9" r="3.3"/><circle cx="873.6" cy="752.6" r="3.3"/><circle cx="886.6" cy="750.7" r="3.3"/></g>
<path d="M575.1 826.1L588.1 826.1L601.1 826.1L614.0 826.0L627.0 825.3L640.0 824.1L653.0 822.5L666.0 820.6L678.9 818.2L691.9 815.0L704.9 811.1L717.9 806.3L730.9 800.4L743.8 793.5L756.8 785.7L769.8 777.2L782.8 768.4L795.8 759.5L808.7 751.0L821.7 743.2L834.7 736.3L847.7 730.5L860.7 725.6L873.6 721.7L886.6 718.6" stroke="#2750FF" stroke-width="1.5" fill="none"/>
<path d="M795.8 756.3V762.7M821.7 739.0V747.4M847.7 725.8V735.2M873.6 717.2V726.1M886.6 716.1V721.1" stroke="#2750FF" stroke-width="1.3" fill="none"/>
<g fill="#2750FF"><circle cx="575.1" cy="826.1" r="3.3"/><circle cx="588.1" cy="826.1" r="3.3"/><circle cx="601.1" cy="826.1" r="3.3"/><circle cx="614.0" cy="826.0" r="3.3"/><circle cx="627.0" cy="825.3" r="3.3"/><circle cx="640.0" cy="824.1" r="3.3"/><circle cx="653.0" cy="822.5" r="3.3"/><circle cx="666.0" cy="820.6" r="3.3"/><circle cx="678.9" cy="818.2" r="3.3"/><circle cx="691.9" cy="815.0" r="3.3"/><circle cx="704.9" cy="811.1" r="3.3"/><circle cx="717.9" cy="806.3" r="3.3"/><circle cx="730.9" cy="800.4" r="3.3"/><circle cx="743.8" cy="793.5" r="3.3"/><circle cx="756.8" cy="785.7" r="3.3"/><circle cx="769.8" cy="777.2" r="3.3"/><circle cx="782.8" cy="768.4" r="3.3"/><circle cx="795.8" cy="759.5" r="3.3"/><circle cx="808.7" cy="751.0" r="3.3"/><circle cx="821.7" cy="743.2" r="3.3"/><circle cx="834.7" cy="736.3" r="3.3"/><circle cx="847.7" cy="730.5" r="3.3"/><circle cx="860.7" cy="725.6" r="3.3"/><circle cx="873.6" cy="721.7" r="3.3"/><circle cx="886.6" cy="718.6" r="3.3"/></g>
<path d="M575.1 826.1L588.1 826.1L601.1 826.1L614.0 826.0L627.0 825.2L640.0 823.7L653.0 821.7L666.0 819.5L678.9 816.6L691.9 812.9L704.9 808.3L717.9 802.7L730.9 796.0L743.8 788.3L756.8 779.7L769.8 770.6L782.8 761.2L795.8 752.1L808.7 743.5L821.7 735.8L834.7 729.1L847.7 723.5L860.7 718.9L873.6 715.2L886.6 712.3" stroke="#0433FF" stroke-width="1.5" fill="none"/>
<path d="M743.8 785.4V791.2M769.8 766.0V775.2M795.8 746.2V758.0M821.7 729.6V742.0M834.7 725.6V732.6M847.7 718.0V729.0M860.7 713.3V724.6M873.6 711.1V719.3M886.6 704.6V720.1" stroke="#0433FF" stroke-width="1.3" fill="none"/>
<g fill="#0433FF"><circle cx="575.1" cy="826.1" r="3.3"/><circle cx="588.1" cy="826.1" r="3.3"/><circle cx="601.1" cy="826.1" r="3.3"/><circle cx="614.0" cy="826.0" r="3.3"/><circle cx="627.0" cy="825.2" r="3.3"/><circle cx="640.0" cy="823.7" r="3.3"/><circle cx="653.0" cy="821.7" r="3.3"/><circle cx="666.0" cy="819.5" r="3.3"/><circle cx="678.9" cy="816.6" r="3.3"/><circle cx="691.9" cy="812.9" r="3.3"/><circle cx="704.9" cy="808.3" r="3.3"/><circle cx="717.9" cy="802.7" r="3.3"/><circle cx="730.9" cy="796.0" r="3.3"/><circle cx="743.8" cy="788.3" r="3.3"/><circle cx="756.8" cy="779.7" r="3.3"/><circle cx="769.8" cy="770.6" r="3.3"/><circle cx="782.8" cy="761.2" r="3.3"/><circle cx="795.8" cy="752.1" r="3.3"/><circle cx="808.7" cy="743.5" r="3.3"/><circle cx="821.7" cy="735.8" r="3.3"/><circle cx="834.7" cy="729.1" r="3.3"/><circle cx="847.7" cy="723.5" r="3.3"/><circle cx="860.7" cy="718.9" r="3.3"/><circle cx="873.6" cy="715.2" r="3.3"/><circle cx="886.6" cy="712.3" r="3.3"/></g>
<path d="M575.1 826.1L588.1 826.1L601.1 826.1L614.0 826.1L627.0 826.0L640.0 825.8L653.0 825.6L666.0 825.4L678.9 825.1L691.9 824.8L704.9 824.5L717.9 824.1L730.9 823.7L743.8 823.2L756.8 822.7L769.8 822.1L782.8 821.6L795.8 821.0L808.7 820.4L821.7 819.9L834.7 819.3L847.7 818.8L860.7 818.4L873.6 817.9L886.6 817.5" stroke="#E6E6E6" stroke-width="1.5" fill="none"/>
<g fill="#E6E6E6"><circle cx="575.1" cy="826.1" r="3.3"/><circle cx="588.1" cy="826.1" r="3.3"/><circle cx="601.1" cy="826.1" r="3.3"/><circle cx="614.0" cy="826.1" r="3.3"/><circle cx="627.0" cy="826.0" r="3.3"/><circle cx="640.0" cy="825.8" r="3.3"/><circle cx="653.0" cy="825.6" r="3.3"/><circle cx="666.0" cy="825.4" r="3.3"/><circle cx="678.9" cy="825.1" r="3.3"/><circle cx="691.9" cy="824.8" r="3.3"/><circle cx="704.9" cy="824.5" r="3.3"/><circle cx="717.9" cy="824.1" r="3.3"/><circle cx="730.9" cy="823.7" r="3.3"/><circle cx="743.8" cy="823.2" r="3.3"/><circle cx="756.8" cy="822.7" r="3.3"/><circle cx="769.8" cy="822.1" r="3.3"/><circle cx="782.8" cy="821.6" r="3.3"/><circle cx="795.8" cy="821.0" r="3.3"/><circle cx="808.7" cy="820.4" r="3.3"/><circle cx="821.7" cy="819.9" r="3.3"/><circle cx="834.7" cy="819.3" r="3.3"/><circle cx="847.7" cy="818.8" r="3.3"/><circle cx="860.7" cy="818.4" r="3.3"/><circle cx="873.6" cy="817.9" r="3.3"/><circle cx="886.6" cy="817.5" r="3.3"/></g>
</g>
<g>
<text x="314.7" y="977.4" font-size="31.4" text-anchor="middle">mC-V74A BAK + qVD</text>
<path d="M158.5 992.8V1204.5" stroke="#000" stroke-width="2.9" fill="none"/>
<path d="M157.1 1203.0H472.9" stroke="#000" stroke-width="2.9" fill="none"/>
<path d="M149.8 1203.0H158.5M149.8 1150.8H158.5M149.8 1098.6H158.5M149.8 1046.5H158.5M149.8 994.3H158.5" stroke="#000" stroke-width="2.9" fill="none"/>
<path d="M158.5 1203.0v8.5M171.5 1203.0v5.6M184.6 1203.0v5.6M197.6 1203.0v5.6M210.7 1203.0v5.6M223.7 1203.0v5.6M236.7 1203.0v5.6M249.8 1203.0v5.6M262.8 1203.0v5.6M275.9 1203.0v5.6M288.9 1203.0v8.5M301.9 1203.0v5.6M315.0 1203.0v5.6M328.0 1203.0v5.6M341.1 1203.0v5.6M354.1 1203.0v5.6M367.1 1203.0v5.6M380.2 1203.0v5.6M393.2 1203.0v5.6M406.3 1203.0v5.6M419.3 1203.0v8.5M432.3 1203.0v5.6M445.4 1203.0v5.6M458.4 1203.0v5.6M471.5 1203.0v5.6" stroke="#000" stroke-width="2.9" fill="none"/>
<text x="145.8" y="1210.6" font-size="27.3" text-anchor="end">0</text>
<text x="145.8" y="1158.4" font-size="27.3" text-anchor="end">50</text>
<text x="145.8" y="1106.2" font-size="27.3" text-anchor="end">100</text>
<text x="145.8" y="1054.1" font-size="27.3" text-anchor="end">150</text>
<text x="145.8" y="1001.9" font-size="27.3" text-anchor="end">200</text>
<text x="159.5" y="1234.4" font-size="27.3" text-anchor="middle">0</text>
<text x="289.9" y="1234.4" font-size="27.3" text-anchor="middle">20</text>
<text x="420.3" y="1234.4" font-size="27.3" text-anchor="middle">40</text>
<text x="315.0" y="1265.3" font-size="31.4" text-anchor="middle">Time (hr)</text>
<path d="M185.2 1040.0H208.4" stroke="#E6E6E6" stroke-width="1.6"/>
<circle cx="196.8" cy="1040.0" r="3.0" fill="#E6E6E6" stroke="#000" stroke-width="1.1"/>
<text x="219.0" y="1047.6" font-size="21.7">0</text>
<path d="M185.2 1057.4H208.4" stroke="#FFCFC7" stroke-width="1.6"/>
<circle cx="196.8" cy="1057.4" r="3.0" fill="#FFCFC7" stroke="#000" stroke-width="1.1"/>
<text x="219.0" y="1065.0" font-size="21.7">6.25</text>
<path d="M185.2 1074.7H208.4" stroke="#FFB5A8" stroke-width="1.6"/>
<circle cx="196.8" cy="1074.7" r="3.0" fill="#FFB5A8" stroke="#000" stroke-width="1.1"/>
<text x="219.0" y="1082.3" font-size="21.7">12.5</text>
<path d="M185.2 1092.1H208.4" stroke="#FF9B8A" stroke-width="1.6"/>
<circle cx="196.8" cy="1092.1" r="3.0" fill="#FF9B8A" stroke="#000" stroke-width="1.1"/>
<text x="219.0" y="1099.7" font-size="21.7">25</text>
<path d="M185.2 1109.4H208.4" stroke="#FF816B" stroke-width="1.6"/>
<circle cx="196.8" cy="1109.4" r="3.0" fill="#FF816B" stroke="#000" stroke-width="1.1"/>
<text x="219.0" y="1117.0" font-size="21.7">50</text>
<path d="M185.2 1126.8H208.4" stroke="#FF6347" stroke-width="1.6"/>
<circle cx="196.8" cy="1126.8" r="3.0" fill="#FF6347" stroke="#000" stroke-width="1.1"/>
<text x="219.0" y="1134.4" font-size="21.7">100</text>
<path d="M185.2 1144.2H208.4" stroke="#FF4424" stroke-width="1.6"/>
<circle cx="196.8" cy="1144.2" r="3.0" fill="#FF4424" stroke="#000" stroke-width="1.1"/>
<text x="219.0" y="1151.8" font-size="21.7">500</text>
<path d="M185.2 1161.5H208.4" stroke="#FF2600" stroke-width="1.6"/>
<circle cx="196.8" cy="1161.5" r="3.0" fill="#FF2600" stroke="#000" stroke-width="1.1"/>
<text x="219.0" y="1169.1" font-size="21.7">1000</text>
<path d="M158.5 1200.3L171.5 1200.3L184.6 1200.3L197.6 1200.3L210.7 1200.2L223.7 1200.1L236.7 1200.0L249.8 1199.9L262.8 1199.8L275.9 1199.7L288.9 1199.6L301.9 1199.5L315.0 1199.3L328.0 1199.2L341.1 1199.1L354.1 1198.9L367.1 1198.8L380.2 1198.6L393.2 1198.5L406.3 1198.3L419.3 1198.2L432.3 1198.1L445.4 1198.0L458.4 1197.9L471.5 1197.8" stroke="#FFCFC7" stroke-width="1.5" fill="none"/>
<g fill="#FFCFC7" stroke="#000" stroke-width="1.2"><circle cx="158.5" cy="1200.3" r="3.0"/><circle cx="171.5" cy="1200.3" r="3.0"/><circle cx="184.6" cy="1200.3" r="3.0"/><circle cx="197.6" cy="1200.3" r="3.0"/><circle cx="210.7" cy="1200.2" r="3.0"/><circle cx="223.7" cy="1200.1" r="3.0"/><circle cx="236.7" cy="1200.0" r="3.0"/><circle cx="249.8" cy="1199.9" r="3.0"/><circle cx="262.8" cy="1199.8" r="3.0"/><circle cx="275.9" cy="1199.7" r="3.0"/><circle cx="288.9" cy="1199.6" r="3.0"/><circle cx="301.9" cy="1199.5" r="3.0"/><circle cx="315.0" cy="1199.3" r="3.0"/><circle cx="328.0" cy="1199.2" r="3.0"/><circle cx="341.1" cy="1199.1" r="3.0"/><circle cx="354.1" cy="1198.9" r="3.0"/><circle cx="367.1" cy="1198.8" r="3.0"/><circle cx="380.2" cy="1198.6" r="3.0"/><circle cx="393.2" cy="1198.5" r="3.0"/><circle cx="406.3" cy="1198.3" r="3.0"/><circle cx="419.3" cy="1198.2" r="3.0"/><circle cx="432.3" cy="1198.1" r="3.0"/><circle cx="445.4" cy="1198.0" r="3.0"/><circle cx="458.4" cy="1197.9" r="3.0"/><circle cx="471.5" cy="1197.8" r="3.0"/></g>
<path d="M158.5 1200.3L171.5 1200.3L184.6 1200.3L197.6 1200.3L210.7 1200.2L223.7 1200.1L236.7 1199.9L249.8 1199.8L262.8 1199.7L275.9 1199.5L288.9 1199.3L301.9 1199.1L315.0 1198.9L328.0 1198.7L341.1 1198.5L354.1 1198.3L367.1 1198.1L380.2 1197.9L393.2 1197.7L406.3 1197.5L419.3 1197.3L432.3 1197.2L445.4 1197.0L458.4 1196.9L471.5 1196.7" stroke="#FFB5A8" stroke-width="1.5" fill="none"/>
<g fill="#FFB5A8" stroke="#000" stroke-width="1.2"><circle cx="158.5" cy="1200.3" r="3.0"/><circle cx="171.5" cy="1200.3" r="3.0"/><circle cx="184.6" cy="1200.3" r="3.0"/><circle cx="197.6" cy="1200.3" r="3.0"/><circle cx="210.7" cy="1200.2" r="3.0"/><circle cx="223.7" cy="1200.1" r="3.0"/><circle cx="236.7" cy="1199.9" r="3.0"/><circle cx="249.8" cy="1199.8" r="3.0"/><circle cx="262.8" cy="1199.7" r="3.0"/><circle cx="275.9" cy="1199.5" r="3.0"/><circle cx="288.9" cy="1199.3" r="3.0"/><circle cx="301.9" cy="1199.1" r="3.0"/><circle cx="315.0" cy="1198.9" r="3.0"/><circle cx="328.0" cy="1198.7" r="3.0"/><circle cx="341.1" cy="1198.5" r="3.0"/><circle cx="354.1" cy="1198.3" r="3.0"/><circle cx="367.1" cy="1198.1" r="3.0"/><circle cx="380.2" cy="1197.9" r="3.0"/><circle cx="393.2" cy="1197.7" r="3.0"/><circle cx="406.3" cy="1197.5" r="3.0"/><circle cx="419.3" cy="1197.3" r="3.0"/><circle cx="432.3" cy="1197.2" r="3.0"/><circle cx="445.4" cy="1197.0" r="3.0"/><circle cx="458.4" cy="1196.9" r="3.0"/><circle cx="471.5" cy="1196.7" r="3.0"/></g>
<path d="M158.5 1200.3L171.5 1200.3L184.6 1200.3L197.6 1200.3L210.7 1200.1L223.7 1199.9L236.7 1199.7L249.8 1199.5L262.8 1199.2L275.9 1199.0L288.9 1198.7L301.9 1198.3L315.0 1198.0L328.0 1197.6L341.1 1197.2L354.1 1196.9L367.1 1196.5L380.2 1196.1L393.2 1195.7L406.3 1195.4L419.3 1195.1L432.3 1194.8L445.4 1194.5L458.4 1194.2L471.5 1194.0" stroke="#FF9B8A" stroke-width="1.5" fill="none"/>
<g fill="#FF9B8A" stroke="#000" stroke-width="1.2"><circle cx="158.5" cy="1200.3" r="3.0"/><circle cx="171.5" cy="1200.3" r="3.0"/><circle cx="184.6" cy="1200.3" r="3.0"/><circle cx="197.6" cy="1200.3" r="3.0"/><circle cx="210.7" cy="1200.1" r="3.0"/><circle cx="223.7" cy="1199.9" r="3.0"/><circle cx="236.7" cy="1199.7" r="3.0"/><circle cx="249.8" cy="1199.5" r="3.0"/><circle cx="262.8" cy="1199.2" r="3.0"/><circle cx="275.9" cy="1199.0" r="3.0"/><circle cx="288.9" cy="1198.7" r="3.0"/><circle cx="301.9" cy="1198.3" r="3.0"/><circle cx="315.0" cy="1198.0" r="3.0"/><circle cx="328.0" cy="1197.6" r="3.0"/><circle cx="341.1" cy="1197.2" r="3.0"/><circle cx="354.1" cy="1196.9" r="3.0"/><circle cx="367.1" cy="1196.5" r="3.0"/><circle cx="380.2" cy="1196.1" r="3.0"/><circle cx="393.2" cy="1195.7" r="3.0"/><circle cx="406.3" cy="1195.4" r="3.0"/><circle cx="419.3" cy="1195.1" r="3.0"/><circle cx="432.3" cy="1194.8" r="3.0"/><circle cx="445.4" cy="1194.5" r="3.0"/><circle cx="458.4" cy="1194.2" r="3.0"/><circle cx="471.5" cy="1194.0" r="3.0"/></g>
<path d="M158.5 1200.3L171.5 1200.3L184.6 1200.3L197.6 1200.3L210.7 1200.1L223.7 1199.8L236.7 1199.5L249.8 1199.3L262.8 1198.9L275.9 1198.5L288.9 1198.1L301.9 1197.7L315.0 1197.2L328.0 1196.6L341.1 1196.1L354.1 1195.5L367.1 1195.0L380.2 1194.4L393.2 1193.9L406.3 1193.4L419.3 1192.9L432.3 1192.5L445.4 1192.1L458.4 1191.8L471.5 1191.5" stroke="#FF816B" stroke-width="1.5" fill="none"/>
<g fill="#FF816B" stroke="#000" stroke-width="1.2"><circle cx="158.5" cy="1200.3" r="3.0"/><circle cx="171.5" cy="1200.3" r="3.0"/><circle cx="184.6" cy="1200.3" r="3.0"/><circle cx="197.6" cy="1200.3" r="3.0"/><circle cx="210.7" cy="1200.1" r="3.0"/><circle cx="223.7" cy="1199.8" r="3.0"/><circle cx="236.7" cy="1199.5" r="3.0"/><circle cx="249.8" cy="1199.3" r="3.0"/><circle cx="262.8" cy="1198.9" r="3.0"/><circle cx="275.9" cy="1198.5" r="3.0"/><circle cx="288.9" cy="1198.1" r="3.0"/><circle cx="301.9" cy="1197.7" r="3.0"/><circle cx="315.0" cy="1197.2" r="3.0"/><circle cx="328.0" cy="1196.6" r="3.0"/><circle cx="341.1" cy="1196.1" r="3.0"/><circle cx="354.1" cy="1195.5" r="3.0"/><circle cx="367.1" cy="1195.0" r="3.0"/><circle cx="380.2" cy="1194.4" r="3.0"/><circle cx="393.2" cy="1193.9" r="3.0"/><circle cx="406.3" cy="1193.4" r="3.0"/><circle cx="419.3" cy="1192.9" r="3.0"/><circle cx="432.3" cy="1192.5" r="3.0"/><circle cx="445.4" cy="1192.1" r="3.0"/><circle cx="458.4" cy="1191.8" r="3.0"/><circle cx="471.5" cy="1191.5" r="3.0"/></g>
<path d="M158.5 1200.3L171.5 1200.3L184.6 1200.3L197.6 1200.2L210.7 1200.0L223.7 1199.7L236.7 1199.3L249.8 1198.9L262.8 1198.4L275.9 1197.9L288.9 1197.4L301.9 1196.7L315.0 1196.1L328.0 1195.3L341.1 1194.6L354.1 1193.8L367.1 1193.1L380.2 1192.3L393.2 1191.6L406.3 1190.9L419.3 1190.3L432.3 1189.8L445.4 1189.2L458.4 1188.8L471.5 1188.4" stroke="#FF6347" stroke-width="1.5" fill="none"/>
<g fill="#FF6347" stroke="#000" stroke-width="1.2"><circle cx="158.5" cy="1200.3" r="3.0"/><circle cx="171.5" cy="1200.3" r="3.0"/><circle cx="184.6" cy="1200.3" r="3.0"/><circle cx="197.6" cy="1200.2" r="3.0"/><circle cx="210.7" cy="1200.0" r="3.0"/><circle cx="223.7" cy="1199.7" r="3.0"/><circle cx="236.7" cy="1199.3" r="3.0"/><circle cx="249.8" cy="1198.9" r="3.0"/><circle cx="262.8" cy="1198.4" r="3.0"/><circle cx="275.9" cy="1197.9" r="3.0"/><circle cx="288.9" cy="1197.4" r="3.0"/><circle cx="301.9" cy="1196.7" r="3.0"/><circle cx="315.0" cy="1196.1" r="3.0"/><circle cx="328.0" cy="1195.3" r="3.0"/><circle cx="341.1" cy="1194.6" r="3.0"/><circle cx="354.1" cy="1193.8" r="3.0"/><circle cx="367.1" cy="1193.1" r="3.0"/><circle cx="380.2" cy="1192.3" r="3.0"/><circle cx="393.2" cy="1191.6" r="3.0"/><circle cx="406.3" cy="1190.9" r="3.0"/><circle cx="419.3" cy="1190.3" r="3.0"/><circle cx="432.3" cy="1189.8" r="3.0"/><circle cx="445.4" cy="1189.2" r="3.0"/><circle cx="458.4" cy="1188.8" r="3.0"/><circle cx="471.5" cy="1188.4" r="3.0"/></g>
<path d="M158.5 1200.3L171.5 1200.3L184.6 1200.3L197.6 1200.2L210.7 1200.0L223.7 1199.6L236.7 1199.0L249.8 1198.5L262.8 1197.8L275.9 1197.0L288.9 1196.1L301.9 1195.0L315.0 1193.7L328.0 1192.3L341.1 1190.7L354.1 1188.9L367.1 1187.0L380.2 1185.0L393.2 1183.0L406.3 1180.9L419.3 1178.9L432.3 1177.0L445.4 1175.3L458.4 1173.7L471.5 1172.2" stroke="#FF4424" stroke-width="1.5" fill="none"/>
<g fill="#FF4424" stroke="#000" stroke-width="1.2"><circle cx="158.5" cy="1200.3" r="3.0"/><circle cx="171.5" cy="1200.3" r="3.0"/><circle cx="184.6" cy="1200.3" r="3.0"/><circle cx="197.6" cy="1200.2" r="3.0"/><circle cx="210.7" cy="1200.0" r="3.0"/><circle cx="223.7" cy="1199.6" r="3.0"/><circle cx="236.7" cy="1199.0" r="3.0"/><circle cx="249.8" cy="1198.5" r="3.0"/><circle cx="262.8" cy="1197.8" r="3.0"/><circle cx="275.9" cy="1197.0" r="3.0"/><circle cx="288.9" cy="1196.1" r="3.0"/><circle cx="301.9" cy="1195.0" r="3.0"/><circle cx="315.0" cy="1193.7" r="3.0"/><circle cx="328.0" cy="1192.3" r="3.0"/><circle cx="341.1" cy="1190.7" r="3.0"/><circle cx="354.1" cy="1188.9" r="3.0"/><circle cx="367.1" cy="1187.0" r="3.0"/><circle cx="380.2" cy="1185.0" r="3.0"/><circle cx="393.2" cy="1183.0" r="3.0"/><circle cx="406.3" cy="1180.9" r="3.0"/><circle cx="419.3" cy="1178.9" r="3.0"/><circle cx="432.3" cy="1177.0" r="3.0"/><circle cx="445.4" cy="1175.3" r="3.0"/><circle cx="458.4" cy="1173.7" r="3.0"/><circle cx="471.5" cy="1172.2" r="3.0"/></g>
<path d="M158.5 1200.3L171.5 1200.3L184.6 1200.3L197.6 1200.2L210.7 1199.9L223.7 1199.4L236.7 1198.7L249.8 1198.1L262.8 1197.3L275.9 1196.3L288.9 1195.1L301.9 1193.8L315.0 1192.2L328.0 1190.4L341.1 1188.5L354.1 1186.3L367.1 1183.9L380.2 1181.5L393.2 1179.0L406.3 1176.5L419.3 1174.0L432.3 1171.7L445.4 1169.5L458.4 1167.5L471.5 1165.7" stroke="#FF2600" stroke-width="1.5" fill="none"/>
<g fill="#FF2600" stroke="#000" stroke-width="1.2"><circle cx="158.5" cy="1200.3" r="3.0"/><circle cx="171.5" cy="1200.3" r="3.0"/><circle cx="184.6" cy="1200.3" r="3.0"/><circle cx="197.6" cy="1200.2" r="3.0"/><circle cx="210.7" cy="1199.9" r="3.0"/><circle cx="223.7" cy="1199.4" r="3.0"/><circle cx="236.7" cy="1198.7" r="3.0"/><circle cx="249.8" cy="1198.1" r="3.0"/><circle cx="262.8" cy="1197.3" r="3.0"/><circle cx="275.9" cy="1196.3" r="3.0"/><circle cx="288.9" cy="1195.1" r="3.0"/><circle cx="301.9" cy="1193.8" r="3.0"/><circle cx="315.0" cy="1192.2" r="3.0"/><circle cx="328.0" cy="1190.4" r="3.0"/><circle cx="341.1" cy="1188.5" r="3.0"/><circle cx="354.1" cy="1186.3" r="3.0"/><circle cx="367.1" cy="1183.9" r="3.0"/><circle cx="380.2" cy="1181.5" r="3.0"/><circle cx="393.2" cy="1179.0" r="3.0"/><circle cx="406.3" cy="1176.5" r="3.0"/><circle cx="419.3" cy="1174.0" r="3.0"/><circle cx="432.3" cy="1171.7" r="3.0"/><circle cx="445.4" cy="1169.5" r="3.0"/><circle cx="458.4" cy="1167.5" r="3.0"/><circle cx="471.5" cy="1165.7" r="3.0"/></g>
<path d="M158.5 1200.3L171.5 1200.3L184.6 1200.3L197.6 1200.3L210.7 1200.2L223.7 1200.1L236.7 1200.0L249.8 1199.9L262.8 1199.8L275.9 1199.7L288.9 1199.6L301.9 1199.5L315.0 1199.3L328.0 1199.2L341.1 1199.1L354.1 1198.9L367.1 1198.8L380.2 1198.6L393.2 1198.5L406.3 1198.3L419.3 1198.2L432.3 1198.1L445.4 1198.0L458.4 1197.9L471.5 1197.8" stroke="#E6E6E6" stroke-width="1.5" fill="none"/>
<g fill="#E6E6E6" stroke="#000" stroke-width="1.2"><circle cx="158.5" cy="1200.3" r="3.0"/><circle cx="171.5" cy="1200.3" r="3.0"/><circle cx="184.6" cy="1200.3" r="3.0"/><circle cx="197.6" cy="1200.3" r="3.0"/><circle cx="210.7" cy="1200.2" r="3.0"/><circle cx="223.7" cy="1200.1" r="3.0"/><circle cx="236.7" cy="1200.0" r="3.0"/><circle cx="249.8" cy="1199.9" r="3.0"/><circle cx="262.8" cy="1199.8" r="3.0"/><circle cx="275.9" cy="1199.7" r="3.0"/><circle cx="288.9" cy="1199.6" r="3.0"/><circle cx="301.9" cy="1199.5" r="3.0"/><circle cx="315.0" cy="1199.3" r="3.0"/><circle cx="328.0" cy="1199.2" r="3.0"/><circle cx="341.1" cy="1199.1" r="3.0"/><circle cx="354.1" cy="1198.9" r="3.0"/><circle cx="367.1" cy="1198.8" r="3.0"/><circle cx="380.2" cy="1198.6" r="3.0"/><circle cx="393.2" cy="1198.5" r="3.0"/><circle cx="406.3" cy="1198.3" r="3.0"/><circle cx="419.3" cy="1198.2" r="3.0"/><circle cx="432.3" cy="1198.1" r="3.0"/><circle cx="445.4" cy="1198.0" r="3.0"/><circle cx="458.4" cy="1197.9" r="3.0"/><circle cx="471.5" cy="1197.8" r="3.0"/></g>
</g>
<g>
<text x="734.3" y="977.4" font-size="31.4" text-anchor="middle">mC-D83A BAK + qVD</text>
<path d="M577.9 993.1V1204.5" stroke="#000" stroke-width="2.9" fill="none"/>
<path d="M576.4 1203.0H891.4" stroke="#000" stroke-width="2.9" fill="none"/>
<path d="M569.2 1203.0H577.9M569.2 1150.9H577.9M569.2 1098.8H577.9M569.2 1046.7H577.9M569.2 994.6H577.9" stroke="#000" stroke-width="2.9" fill="none"/>
<path d="M577.9 1203.0v8.5M590.9 1203.0v5.6M603.9 1203.0v5.6M616.9 1203.0v5.6M629.9 1203.0v5.6M642.9 1203.0v5.6M655.9 1203.0v5.6M668.9 1203.0v5.6M681.9 1203.0v5.6M694.9 1203.0v5.6M707.9 1203.0v8.5M720.9 1203.0v5.6M733.9 1203.0v5.6M746.9 1203.0v5.6M759.9 1203.0v5.6M772.9 1203.0v5.6M785.9 1203.0v5.6M798.9 1203.0v5.6M811.9 1203.0v5.6M824.9 1203.0v5.6M837.9 1203.0v8.5M850.9 1203.0v5.6M863.9 1203.0v5.6M876.9 1203.0v5.6M889.9 1203.0v5.6" stroke="#000" stroke-width="2.9" fill="none"/>
<text x="565.2" y="1210.6" font-size="27.3" text-anchor="end">0</text>
<text x="565.2" y="1158.5" font-size="27.3" text-anchor="end">50</text>
<text x="565.2" y="1106.4" font-size="27.3" text-anchor="end">100</text>
<text x="565.2" y="1054.3" font-size="27.3" text-anchor="end">150</text>
<text x="565.2" y="1002.2" font-size="27.3" text-anchor="end">200</text>
<text x="578.9" y="1234.4" font-size="27.3" text-anchor="middle">0</text>
<text x="708.9" y="1234.4" font-size="27.3" text-anchor="middle">20</text>
<text x="838.9" y="1234.4" font-size="27.3" text-anchor="middle">40</text>
<text x="733.9" y="1264.6" font-size="31.4" text-anchor="middle">Time (hr)</text>
<path d="M605.2 1037.1H628.4" stroke="#E6E6E6" stroke-width="1.6"/>
<circle cx="616.8" cy="1037.1" r="3.0" fill="#E6E6E6" stroke="#000" stroke-width="1.1"/>
<text x="639.7" y="1044.7" font-size="21.7">0</text>
<path d="M605.2 1054.3H628.4" stroke="#C8D2FF" stroke-width="1.6"/>
<circle cx="616.8" cy="1054.3" r="3.0" fill="#C8D2FF" stroke="#000" stroke-width="1.1"/>
<text x="639.7" y="1061.9" font-size="21.7">6.25</text>
<path d="M605.2 1071.4H628.4" stroke="#AABAFF" stroke-width="1.6"/>
<circle cx="616.8" cy="1071.4" r="3.0" fill="#AABAFF" stroke="#000" stroke-width="1.1"/>
<text x="639.7" y="1079.0" font-size="21.7">12.5</text>
<path d="M605.2 1088.6H628.4" stroke="#8CA1FF" stroke-width="1.6"/>
<circle cx="616.8" cy="1088.6" r="3.0" fill="#8CA1FF" stroke="#000" stroke-width="1.1"/>
<text x="639.7" y="1096.2" font-size="21.7">25</text>
<path d="M605.2 1105.8H628.4" stroke="#6D89FF" stroke-width="1.6"/>
<circle cx="616.8" cy="1105.8" r="3.0" fill="#6D89FF" stroke="#000" stroke-width="1.1"/>
<text x="639.7" y="1113.4" font-size="21.7">50</text>
<path d="M605.2 1122.9H628.4" stroke="#4A6CFF" stroke-width="1.6"/>
<circle cx="616.8" cy="1122.9" r="3.0" fill="#4A6CFF" stroke="#000" stroke-width="1.1"/>
<text x="639.7" y="1130.5" font-size="21.7">100</text>
<path d="M605.2 1140.1H628.4" stroke="#2750FF" stroke-width="1.6"/>
<circle cx="616.8" cy="1140.1" r="3.0" fill="#2750FF" stroke="#000" stroke-width="1.1"/>
<text x="639.7" y="1147.7" font-size="21.7">500</text>
<path d="M605.2 1157.3H628.4" stroke="#0433FF" stroke-width="1.6"/>
<circle cx="616.8" cy="1157.3" r="3.0" fill="#0433FF" stroke="#000" stroke-width="1.1"/>
<text x="639.7" y="1164.9" font-size="21.7">1000</text>
<path d="M577.9 1200.5L590.9 1200.5L603.9 1200.5L616.9 1200.5L629.9 1200.5L642.9 1200.4L655.9 1200.3L668.9 1200.3L681.9 1200.2L694.9 1200.1L707.9 1200.0L720.9 1200.0L733.9 1199.9L746.9 1199.8L759.9 1199.7L772.9 1199.6L785.9 1199.5L798.9 1199.4L811.9 1199.3L824.9 1199.2L837.9 1199.1L850.9 1199.0L863.9 1199.0L876.9 1198.9L889.9 1198.8" stroke="#C8D2FF" stroke-width="1.5" fill="none"/>
<g fill="#C8D2FF" stroke="#000" stroke-width="1.2"><circle cx="577.9" cy="1200.5" r="3.0"/><circle cx="590.9" cy="1200.5" r="3.0"/><circle cx="603.9" cy="1200.5" r="3.0"/><circle cx="616.9" cy="1200.5" r="3.0"/><circle cx="629.9" cy="1200.5" r="3.0"/><circle cx="642.9" cy="1200.4" r="3.0"/><circle cx="655.9" cy="1200.3" r="3.0"/><circle cx="668.9" cy="1200.3" r="3.0"/><circle cx="681.9" cy="1200.2" r="3.0"/><circle cx="694.9" cy="1200.1" r="3.0"/><circle cx="707.9" cy="1200.0" r="3.0"/><circle cx="720.9" cy="1200.0" r="3.0"/><circle cx="733.9" cy="1199.9" r="3.0"/><circle cx="746.9" cy="1199.8" r="3.0"/><circle cx="759.9" cy="1199.7" r="3.0"/><circle cx="772.9" cy="1199.6" r="3.0"/><circle cx="785.9" cy="1199.5" r="3.0"/><circle cx="798.9" cy="1199.4" r="3.0"/><circle cx="811.9" cy="1199.3" r="3.0"/><circle cx="824.9" cy="1199.2" r="3.0"/><circle cx="837.9" cy="1199.1" r="3.0"/><circle cx="850.9" cy="1199.0" r="3.0"/><circle cx="863.9" cy="1199.0" r="3.0"/><circle cx="876.9" cy="1198.9" r="3.0"/><circle cx="889.9" cy="1198.8" r="3.0"/></g>
<path d="M577.9 1200.5L590.9 1200.5L603.9 1200.5L616.9 1200.5L629.9 1200.5L642.9 1200.4L655.9 1200.3L668.9 1200.3L681.9 1200.2L694.9 1200.1L707.9 1200.0L720.9 1200.0L733.9 1199.9L746.9 1199.8L759.9 1199.7L772.9 1199.6L785.9 1199.5L798.9 1199.4L811.9 1199.3L824.9 1199.2L837.9 1199.1L850.9 1199.0L863.9 1199.0L876.9 1198.9L889.9 1198.8" stroke="#AABAFF" stroke-width="1.5" fill="none"/>
<g fill="#AABAFF" stroke="#000" stroke-width="1.2"><circle cx="577.9" cy="1200.5" r="3.0"/><circle cx="590.9" cy="1200.5" r="3.0"/><circle cx="603.9" cy="1200.5" r="3.0"/><circle cx="616.9" cy="1200.5" r="3.0"/><circle cx="629.9" cy="1200.5" r="3.0"/><circle cx="642.9" cy="1200.4" r="3.0"/><circle cx="655.9" cy="1200.3" r="3.0"/><circle cx="668.9" cy="1200.3" r="3.0"/><circle cx="681.9" cy="1200.2" r="3.0"/><circle cx="694.9" cy="1200.1" r="3.0"/><circle cx="707.9" cy="1200.0" r="3.0"/><circle cx="720.9" cy="1200.0" r="3.0"/><circle cx="733.9" cy="1199.9" r="3.0"/><circle cx="746.9" cy="1199.8" r="3.0"/><circle cx="759.9" cy="1199.7" r="3.0"/><circle cx="772.9" cy="1199.6" r="3.0"/><circle cx="785.9" cy="1199.5" r="3.0"/><circle cx="798.9" cy="1199.4" r="3.0"/><circle cx="811.9" cy="1199.3" r="3.0"/><circle cx="824.9" cy="1199.2" r="3.0"/><circle cx="837.9" cy="1199.1" r="3.0"/><circle cx="850.9" cy="1199.0" r="3.0"/><circle cx="863.9" cy="1199.0" r="3.0"/><circle cx="876.9" cy="1198.9" r="3.0"/><circle cx="889.9" cy="1198.8" r="3.0"/></g>
<path d="M577.9 1200.5L590.9 1200.5L603.9 1200.5L616.9 1200.5L629.9 1200.5L642.9 1200.4L655.9 1200.3L668.9 1200.3L681.9 1200.2L694.9 1200.1L707.9 1200.0L720.9 1200.0L733.9 1199.9L746.9 1199.8L759.9 1199.7L772.9 1199.6L785.9 1199.5L798.9 1199.4L811.9 1199.3L824.9 1199.2L837.9 1199.1L850.9 1199.0L863.9 1199.0L876.9 1198.9L889.9 1198.8" stroke="#8CA1FF" stroke-width="1.5" fill="none"/>
<g fill="#8CA1FF" stroke="#000" stroke-width="1.2"><circle cx="577.9" cy="1200.5" r="3.0"/><circle cx="590.9" cy="1200.5" r="3.0"/><circle cx="603.9" cy="1200.5" r="3.0"/><circle cx="616.9" cy="1200.5" r="3.0"/><circle cx="629.9" cy="1200.5" r="3.0"/><circle cx="642.9" cy="1200.4" r="3.0"/><circle cx="655.9" cy="1200.3" r="3.0"/><circle cx="668.9" cy="1200.3" r="3.0"/><circle cx="681.9" cy="1200.2" r="3.0"/><circle cx="694.9" cy="1200.1" r="3.0"/><circle cx="707.9" cy="1200.0" r="3.0"/><circle cx="720.9" cy="1200.0" r="3.0"/><circle cx="733.9" cy="1199.9" r="3.0"/><circle cx="746.9" cy="1199.8" r="3.0"/><circle cx="759.9" cy="1199.7" r="3.0"/><circle cx="772.9" cy="1199.6" r="3.0"/><circle cx="785.9" cy="1199.5" r="3.0"/><circle cx="798.9" cy="1199.4" r="3.0"/><circle cx="811.9" cy="1199.3" r="3.0"/><circle cx="824.9" cy="1199.2" r="3.0"/><circle cx="837.9" cy="1199.1" r="3.0"/><circle cx="850.9" cy="1199.0" r="3.0"/><circle cx="863.9" cy="1199.0" r="3.0"/><circle cx="876.9" cy="1198.9" r="3.0"/><circle cx="889.9" cy="1198.8" r="3.0"/></g>
<path d="M577.9 1200.3L590.9 1200.3L603.9 1200.3L616.9 1200.3L629.9 1200.2L642.9 1200.2L655.9 1200.1L668.9 1200.0L681.9 1199.9L694.9 1199.8L707.9 1199.8L720.9 1199.7L733.9 1199.5L746.9 1199.4L759.9 1199.3L772.9 1199.2L785.9 1199.1L798.9 1199.0L811.9 1198.9L824.9 1198.8L837.9 1198.6L850.9 1198.6L863.9 1198.5L876.9 1198.4L889.9 1198.3" stroke="#6D89FF" stroke-width="1.5" fill="none"/>
<g fill="#6D89FF" stroke="#000" stroke-width="1.2"><circle cx="577.9" cy="1200.3" r="3.0"/><circle cx="590.9" cy="1200.3" r="3.0"/><circle cx="603.9" cy="1200.3" r="3.0"/><circle cx="616.9" cy="1200.3" r="3.0"/><circle cx="629.9" cy="1200.2" r="3.0"/><circle cx="642.9" cy="1200.2" r="3.0"/><circle cx="655.9" cy="1200.1" r="3.0"/><circle cx="668.9" cy="1200.0" r="3.0"/><circle cx="681.9" cy="1199.9" r="3.0"/><circle cx="694.9" cy="1199.8" r="3.0"/><circle cx="707.9" cy="1199.8" r="3.0"/><circle cx="720.9" cy="1199.7" r="3.0"/><circle cx="733.9" cy="1199.5" r="3.0"/><circle cx="746.9" cy="1199.4" r="3.0"/><circle cx="759.9" cy="1199.3" r="3.0"/><circle cx="772.9" cy="1199.2" r="3.0"/><circle cx="785.9" cy="1199.1" r="3.0"/><circle cx="798.9" cy="1199.0" r="3.0"/><circle cx="811.9" cy="1198.9" r="3.0"/><circle cx="824.9" cy="1198.8" r="3.0"/><circle cx="837.9" cy="1198.6" r="3.0"/><circle cx="850.9" cy="1198.6" r="3.0"/><circle cx="863.9" cy="1198.5" r="3.0"/><circle cx="876.9" cy="1198.4" r="3.0"/><circle cx="889.9" cy="1198.3" r="3.0"/></g>
<path d="M577.9 1200.3L590.9 1200.3L603.9 1200.3L616.9 1200.3L629.9 1200.2L642.9 1200.1L655.9 1200.0L668.9 1199.9L681.9 1199.8L694.9 1199.7L707.9 1199.6L720.9 1199.5L733.9 1199.3L746.9 1199.2L759.9 1199.1L772.9 1198.9L785.9 1198.8L798.9 1198.6L811.9 1198.5L824.9 1198.3L837.9 1198.2L850.9 1198.1L863.9 1198.0L876.9 1197.9L889.9 1197.8" stroke="#4A6CFF" stroke-width="1.5" fill="none"/>
<g fill="#4A6CFF" stroke="#000" stroke-width="1.2"><circle cx="577.9" cy="1200.3" r="3.0"/><circle cx="590.9" cy="1200.3" r="3.0"/><circle cx="603.9" cy="1200.3" r="3.0"/><circle cx="616.9" cy="1200.3" r="3.0"/><circle cx="629.9" cy="1200.2" r="3.0"/><circle cx="642.9" cy="1200.1" r="3.0"/><circle cx="655.9" cy="1200.0" r="3.0"/><circle cx="668.9" cy="1199.9" r="3.0"/><circle cx="681.9" cy="1199.8" r="3.0"/><circle cx="694.9" cy="1199.7" r="3.0"/><circle cx="707.9" cy="1199.6" r="3.0"/><circle cx="720.9" cy="1199.5" r="3.0"/><circle cx="733.9" cy="1199.3" r="3.0"/><circle cx="746.9" cy="1199.2" r="3.0"/><circle cx="759.9" cy="1199.1" r="3.0"/><circle cx="772.9" cy="1198.9" r="3.0"/><circle cx="785.9" cy="1198.8" r="3.0"/><circle cx="798.9" cy="1198.6" r="3.0"/><circle cx="811.9" cy="1198.5" r="3.0"/><circle cx="824.9" cy="1198.3" r="3.0"/><circle cx="837.9" cy="1198.2" r="3.0"/><circle cx="850.9" cy="1198.1" r="3.0"/><circle cx="863.9" cy="1198.0" r="3.0"/><circle cx="876.9" cy="1197.9" r="3.0"/><circle cx="889.9" cy="1197.8" r="3.0"/></g>
<path d="M577.9 1200.3L590.9 1200.3L603.9 1200.3L616.9 1200.3L629.9 1200.2L642.9 1200.1L655.9 1200.0L668.9 1199.9L681.9 1199.7L694.9 1199.6L707.9 1199.5L720.9 1199.3L733.9 1199.2L746.9 1199.0L759.9 1198.8L772.9 1198.6L785.9 1198.4L798.9 1198.3L811.9 1198.1L824.9 1197.9L837.9 1197.8L850.9 1197.6L863.9 1197.5L876.9 1197.4L889.9 1197.3" stroke="#2750FF" stroke-width="1.5" fill="none"/>
<g fill="#2750FF" stroke="#000" stroke-width="1.2"><circle cx="577.9" cy="1200.3" r="3.0"/><circle cx="590.9" cy="1200.3" r="3.0"/><circle cx="603.9" cy="1200.3" r="3.0"/><circle cx="616.9" cy="1200.3" r="3.0"/><circle cx="629.9" cy="1200.2" r="3.0"/><circle cx="642.9" cy="1200.1" r="3.0"/><circle cx="655.9" cy="1200.0" r="3.0"/><circle cx="668.9" cy="1199.9" r="3.0"/><circle cx="681.9" cy="1199.7" r="3.0"/><circle cx="694.9" cy="1199.6" r="3.0"/><circle cx="707.9" cy="1199.5" r="3.0"/><circle cx="720.9" cy="1199.3" r="3.0"/><circle cx="733.9" cy="1199.2" r="3.0"/><circle cx="746.9" cy="1199.0" r="3.0"/><circle cx="759.9" cy="1198.8" r="3.0"/><circle cx="772.9" cy="1198.6" r="3.0"/><circle cx="785.9" cy="1198.4" r="3.0"/><circle cx="798.9" cy="1198.3" r="3.0"/><circle cx="811.9" cy="1198.1" r="3.0"/><circle cx="824.9" cy="1197.9" r="3.0"/><circle cx="837.9" cy="1197.8" r="3.0"/><circle cx="850.9" cy="1197.6" r="3.0"/><circle cx="863.9" cy="1197.5" r="3.0"/><circle cx="876.9" cy="1197.4" r="3.0"/><circle cx="889.9" cy="1197.3" r="3.0"/></g>
<path d="M577.9 1200.3L590.9 1200.3L603.9 1200.3L616.9 1200.3L629.9 1200.2L642.9 1200.1L655.9 1199.9L668.9 1199.8L681.9 1199.7L694.9 1199.5L707.9 1199.3L720.9 1199.1L733.9 1199.0L746.9 1198.8L759.9 1198.5L772.9 1198.3L785.9 1198.1L798.9 1197.9L811.9 1197.7L824.9 1197.5L837.9 1197.4L850.9 1197.2L863.9 1197.0L876.9 1196.9L889.9 1196.7" stroke="#0433FF" stroke-width="1.5" fill="none"/>
<g fill="#0433FF" stroke="#000" stroke-width="1.2"><circle cx="577.9" cy="1200.3" r="3.0"/><circle cx="590.9" cy="1200.3" r="3.0"/><circle cx="603.9" cy="1200.3" r="3.0"/><circle cx="616.9" cy="1200.3" r="3.0"/><circle cx="629.9" cy="1200.2" r="3.0"/><circle cx="642.9" cy="1200.1" r="3.0"/><circle cx="655.9" cy="1199.9" r="3.0"/><circle cx="668.9" cy="1199.8" r="3.0"/><circle cx="681.9" cy="1199.7" r="3.0"/><circle cx="694.9" cy="1199.5" r="3.0"/><circle cx="707.9" cy="1199.3" r="3.0"/><circle cx="720.9" cy="1199.1" r="3.0"/><circle cx="733.9" cy="1199.0" r="3.0"/><circle cx="746.9" cy="1198.8" r="3.0"/><circle cx="759.9" cy="1198.5" r="3.0"/><circle cx="772.9" cy="1198.3" r="3.0"/><circle cx="785.9" cy="1198.1" r="3.0"/><circle cx="798.9" cy="1197.9" r="3.0"/><circle cx="811.9" cy="1197.7" r="3.0"/><circle cx="824.9" cy="1197.5" r="3.0"/><circle cx="837.9" cy="1197.4" r="3.0"/><circle cx="850.9" cy="1197.2" r="3.0"/><circle cx="863.9" cy="1197.0" r="3.0"/><circle cx="876.9" cy="1196.9" r="3.0"/><circle cx="889.9" cy="1196.7" r="3.0"/></g>
<path d="M577.9 1200.3L590.9 1200.3L603.9 1200.3L616.9 1200.3L629.9 1200.2L642.9 1200.2L655.9 1200.1L668.9 1200.0L681.9 1199.9L694.9 1199.8L707.9 1199.8L720.9 1199.7L733.9 1199.5L746.9 1199.4L759.9 1199.3L772.9 1199.2L785.9 1199.1L798.9 1199.0L811.9 1198.9L824.9 1198.8L837.9 1198.6L850.9 1198.6L863.9 1198.5L876.9 1198.4L889.9 1198.3" stroke="#E6E6E6" stroke-width="1.5" fill="none"/>
<g fill="#E6E6E6" stroke="#000" stroke-width="1.2"><circle cx="577.9" cy="1200.3" r="3.0"/><circle cx="590.9" cy="1200.3" r="3.0"/><circle cx="603.9" cy="1200.3" r="3.0"/><circle cx="616.9" cy="1200.3" r="3.0"/><circle cx="629.9" cy="1200.2" r="3.0"/><circle cx="642.9" cy="1200.2" r="3.0"/><circle cx="655.9" cy="1200.1" r="3.0"/><circle cx="668.9" cy="1200.0" r="3.0"/><circle cx="681.9" cy="1199.9" r="3.0"/><circle cx="694.9" cy="1199.8" r="3.0"/><circle cx="707.9" cy="1199.8" r="3.0"/><circle cx="720.9" cy="1199.7" r="3.0"/><circle cx="733.9" cy="1199.5" r="3.0"/><circle cx="746.9" cy="1199.4" r="3.0"/><circle cx="759.9" cy="1199.3" r="3.0"/><circle cx="772.9" cy="1199.2" r="3.0"/><circle cx="785.9" cy="1199.1" r="3.0"/><circle cx="798.9" cy="1199.0" r="3.0"/><circle cx="811.9" cy="1198.9" r="3.0"/><circle cx="824.9" cy="1198.8" r="3.0"/><circle cx="837.9" cy="1198.6" r="3.0"/><circle cx="850.9" cy="1198.6" r="3.0"/><circle cx="863.9" cy="1198.5" r="3.0"/><circle cx="876.9" cy="1198.4" r="3.0"/><circle cx="889.9" cy="1198.3" r="3.0"/></g>
</g>
<text x="976.5" y="595.0" font-size="46" font-weight="bold">d</text>
<g>
<text x="1429.9" y="619.1" font-size="30.6" text-anchor="middle">AUC 48 hr</text>
<path d="M1261.7 614.1V847.1" stroke="#000" stroke-width="3" fill="none"/>
<path d="M1260.2 845.6H1600.6" stroke="#000" stroke-width="3" fill="none"/>
<text x="1250.5" y="854.0" font-size="25.2" text-anchor="end">0</text>
<text x="1250.5" y="777.3" font-size="25.2" text-anchor="end">1000</text>
<text x="1250.5" y="700.7" font-size="25.2" text-anchor="end">2000</text>
<text x="1250.5" y="624.0" font-size="25.2" text-anchor="end">3000</text>
<text x="1305.9" y="878.7" font-size="24" text-anchor="middle">10</text>
<text x="1453.1" y="878.7" font-size="24" text-anchor="middle">100</text>
<text x="1600.3" y="878.7" font-size="24" text-anchor="middle">1000</text>
<path d="M1251.1 845.6H1261.7M1251.1 768.9H1261.7M1251.1 692.3H1261.7M1251.1 615.6H1261.7M1304.7 845.6v10M1451.9 845.6v10M1599.1 845.6v10M1261.7 845.6v5.5M1272.0 845.6v5.5M1281.9 845.6v5.5M1290.4 845.6v5.5M1298.0 845.6v5.5M1349.0 845.6v5.5M1374.9 845.6v5.5M1393.3 845.6v5.5M1407.6 845.6v5.5M1419.2 845.6v5.5M1429.1 845.6v5.5M1437.6 845.6v5.5M1445.2 845.6v5.5M1496.2 845.6v5.5M1522.1 845.6v5.5M1540.5 845.6v5.5M1554.8 845.6v5.5M1566.4 845.6v5.5M1576.3 845.6v5.5M1584.8 845.6v5.5M1592.4 845.6v5.5" stroke="#000" stroke-width="3" fill="none"/>
<text x="1430.3" y="908.4" font-size="27.65" text-anchor="middle">Dox (ng/mL)</text>
<text x="1123.2" y="727.0" font-size="28.2" text-anchor="middle" transform="rotate(-90 1123.2 727.0)">Cell death</text>
<text x="1154.6" y="727.0" font-size="28.2" text-anchor="middle" transform="rotate(-90 1154.6 727.0)">SYTOX Green</text>
<text x="1185.6" y="726.5" font-size="28.2" text-anchor="middle" transform="rotate(-90 1185.6 726.5)">counts/confluence</text>
<path d="M1261.7 713.4H1601.0" stroke="#FF40E0" stroke-width="3.2" fill="none"/>
<path d="M1261.7 713.4H1601.0" stroke="#F016C8" stroke-width="3.2" stroke-dasharray="4 2.5" fill="none"/>
<path d="M1274.7 833.2L1319.0 828.9L1363.3 833.5L1407.6 832.4L1451.9 831.0L1554.8 828.9L1599.1 828.9" stroke="#000" stroke-width="1.7" fill="none"/>
<g fill="#0433FF" stroke="#000" stroke-width="2.8"><circle cx="1274.7" cy="833.2" r="4.7"/><circle cx="1319.0" cy="828.9" r="4.7"/><circle cx="1363.3" cy="833.5" r="4.7"/><circle cx="1407.6" cy="832.4" r="4.7"/><circle cx="1451.9" cy="831.0" r="4.7"/><circle cx="1554.8" cy="828.9" r="4.7"/><circle cx="1599.1" cy="828.9" r="4.7"/></g>
<path d="M1274.7 832.4L1319.0 830.0L1363.3 828.9L1407.6 820.4L1451.9 819.3L1554.8 801.5L1599.1 792.6" stroke="#000" stroke-width="1.7" fill="none"/>
<g fill="#FF2600" stroke="#000" stroke-width="2.8"><circle cx="1274.7" cy="832.4" r="4.7"/><circle cx="1319.0" cy="830.0" r="4.7"/><circle cx="1363.3" cy="828.9" r="4.7"/><circle cx="1407.6" cy="820.4" r="4.7"/><circle cx="1451.9" cy="819.3" r="4.7"/><circle cx="1554.8" cy="801.5" r="4.7"/><circle cx="1599.1" cy="792.6" r="4.7"/></g>
<path d="M1274.7 827.1L1319.0 823.6L1363.3 804.0L1407.6 771.3L1451.9 736.4L1554.8 706.9L1599.1 691.3" stroke="#0433FF" stroke-width="1.7" fill="none"/>
<path d="M1407.6 759.8V771.3M1554.8 696.2V706.9M1599.1 679.8V691.3" stroke="#0433FF" stroke-width="1.5" fill="none"/>
<g fill="#0433FF"><circle cx="1274.7" cy="827.1" r="5.9"/><circle cx="1319.0" cy="823.6" r="5.9"/><circle cx="1363.3" cy="804.0" r="5.9"/><circle cx="1407.6" cy="771.3" r="5.9"/><circle cx="1451.9" cy="736.4" r="5.9"/><circle cx="1554.8" cy="706.9" r="5.9"/><circle cx="1599.1" cy="691.3" r="5.9"/></g>
<path d="M1274.7 823.6L1319.0 802.2L1363.3 782.7L1407.6 719.7L1451.9 668.2L1554.8 634.4L1599.1 633.3" stroke="#FF2600" stroke-width="1.7" fill="none"/>
<path d="M1363.3 771.9V782.7M1599.1 623.3V633.3" stroke="#FF2600" stroke-width="1.5" fill="none"/>
<g fill="#FF2600"><circle cx="1274.7" cy="823.6" r="5.9"/><circle cx="1319.0" cy="802.2" r="5.9"/><circle cx="1363.3" cy="782.7" r="5.9"/><circle cx="1407.6" cy="719.7" r="5.9"/><circle cx="1451.9" cy="668.2" r="5.9"/><circle cx="1554.8" cy="634.4" r="5.9"/><circle cx="1599.1" cy="633.3" r="5.9"/></g>
<path d="M1265.7 641.2H1290.7" stroke="#FF2600" stroke-width="1.6"/>
<circle cx="1278.2" cy="641.2" r="5.9" fill="#FF2600"/>
<text x="1301.5" y="649.4" font-size="21.5">V74A</text>
<path d="M1265.7 660.6H1290.7" stroke="#0433FF" stroke-width="1.6"/>
<circle cx="1278.2" cy="660.6" r="5.9" fill="#0433FF"/>
<text x="1301.5" y="668.8" font-size="21.5">D83A</text>
<path d="M1265.7 680.1H1290.7" stroke="#000" stroke-width="1.6"/>
<circle cx="1278.2" cy="680.1" r="4.7" fill="#FF2600" stroke="#000" stroke-width="2.8"/>
<text x="1301.5" y="688.3" font-size="21.5">V74A + qVD</text>
<path d="M1265.7 699.6H1290.7" stroke="#000" stroke-width="1.6"/>
<circle cx="1278.2" cy="699.6" r="4.7" fill="#0433FF" stroke="#000" stroke-width="2.8"/>
<text x="1301.5" y="707.8" font-size="21.5">D83A + qVD</text>
</g>
<text x="1167.0" y="955.4" font-size="26.6" text-anchor="middle">Dox</text>
<text x="1167.0" y="983.5" font-size="26.6" text-anchor="middle">(ng/mL)</text>
<text x="1237.5" y="988.5" font-size="27.5" transform="rotate(-47 1237.5 988.5)">0</text>
<text x="1271.5" y="989.5" font-size="27.5" transform="rotate(-47 1271.5 989.5)">6.25</text>
<text x="1306.5" y="989.5" font-size="27.5" transform="rotate(-47 1306.5 989.5)">12.5</text>
<text x="1332.5" y="991.5" font-size="27.5" transform="rotate(-47 1332.5 991.5)">25</text>
<text x="1367.5" y="990.5" font-size="27.5" transform="rotate(-47 1367.5 990.5)">50</text>
<text x="1402.5" y="988.5" font-size="27.5" transform="rotate(-47 1402.5 988.5)">100</text>
<text x="1437.5" y="990.5" font-size="27.5" transform="rotate(-47 1437.5 990.5)">500</text>
<text x="1473.5" y="988.5" font-size="27.5" transform="rotate(-47 1473.5 988.5)">1000</text>
<text x="1508.5" y="990.5" font-size="27.5" transform="rotate(-47 1508.5 990.5)">kDa</text>
<g clip-path="url(#bc1)">
<rect x="1216.7" y="989.4" width="306.3" height="74.4" fill="url(#bg1)"/>
<rect x="1497" y="989" width="23" height="75" fill="#E2B9C4" opacity="0.24" filter="url(#blur2)"/>
<g filter="url(#blur4)">
<rect x="1392.7" y="992.0" width="26.0" height="36.0" fill="#30343c" opacity="0.1"/>
<rect x="1428.2" y="992.0" width="28.0" height="36.0" fill="#30343c" opacity="0.12"/>
<rect x="1462.9" y="992.0" width="26.0" height="36.0" fill="#30343c" opacity="0.1"/>
<rect x="1394.7" y="1045.0" width="22.0" height="6.0" fill="#30343c" opacity="0.1"/>
<rect x="1430.2" y="1045.0" width="24.0" height="6.0" fill="#30343c" opacity="0.12"/>
<rect x="1464.9" y="1045.0" width="22.0" height="6.0" fill="#30343c" opacity="0.08"/>
<rect x="1270.0" y="995.0" width="40.0" height="30.0" fill="#fff" opacity="0.15"/>
</g>
<g filter="url(#blur2)">
<rect x="1497.0" y="1008.0" width="24.0" height="16.0" rx="8.0" fill="#5C82CC" opacity="0.85"/>
<rect x="1497.0" y="1050.0" width="24.0" height="12.0" rx="6.0" fill="#6F8FD0" opacity="0.7"/>
</g>
<g filter="url(#blur15)" fill="#05070C">
<rect x="1291.0" y="1021.5" width="8.0" height="3.0" rx="1.5" opacity="0.05"/>
<path d="M1323.6 1024.7C1325.1 1025.7 1327.6 1026.7 1335.1 1027.2C1342.6 1026.7 1345.1 1025.7 1346.6 1024.7L1347.2 1027.7Q1346.6 1030.7 1342.6 1031.2L1327.6 1031.2Q1323.6 1030.7 1323.0 1027.7Z" opacity="0.3"/>
<path d="M1358.5 1025.0C1360.0 1026.1 1362.5 1027.0 1370.0 1027.5C1377.5 1027.0 1380.0 1026.1 1381.5 1025.0L1382.1 1028.0Q1381.5 1031.0 1377.5 1031.6L1362.5 1031.6Q1358.5 1031.0 1357.9 1028.0Z" opacity="0.3"/>
<path d="M1392.2 1023.0C1393.7 1025.1 1396.2 1026.5 1405.7 1027.0C1415.2 1026.5 1417.7 1025.1 1419.2 1023.0L1419.8 1029.5Q1419.2 1032.5 1415.2 1033.1L1396.2 1033.1Q1392.2 1032.5 1391.6 1029.5Z" opacity="0.95"/>
<path d="M1427.2 1022.3C1428.7 1024.8 1431.2 1026.3 1442.2 1026.8C1453.2 1026.3 1455.7 1024.8 1457.2 1022.3L1457.8 1030.8Q1457.2 1033.8 1453.2 1034.4L1431.2 1034.4Q1427.2 1033.8 1426.6 1030.8Z" opacity="1.0"/>
<path d="M1462.4 1023.0C1463.9 1025.1 1466.4 1026.5 1475.9 1027.0C1485.4 1026.5 1487.9 1025.1 1489.4 1023.0L1490.0 1029.5Q1489.4 1032.5 1485.4 1033.1L1466.4 1033.1Q1462.4 1032.5 1461.8 1029.5Z" opacity="0.97"/>
</g>
</g>
<text x="1495.3" y="1023.3" font-size="24.6">57</text>
<text x="1495.3" y="1062.5" font-size="24.6">43</text>
<text x="1347.6" y="1074.8" font-size="24.6" fill="#FF1FE0">0.11</text>
<text x="1418.8" y="1074.8" font-size="24.6" fill="#FF1FE0">0.54</text>
<text x="1538.8" y="1036.7" font-size="26.5">V74A</text>
<g clip-path="url(#bc2)">
<rect x="1216.7" y="1075.3" width="306.3" height="70.0" fill="url(#bg2)"/>
<rect x="1497" y="1075" width="23" height="71" fill="#E2B9C4" opacity="0.13" filter="url(#blur2)"/>
<g filter="url(#blur4)">
<rect x="1277.0" y="1077.0" width="12.0" height="30.0" fill="#30343c" opacity="0.2"/>
<rect x="1290.0" y="1095.0" width="14.0" height="10.0" fill="#30343c" opacity="0.18"/>
</g>
<g filter="url(#blur2)">
<rect x="1497.0" y="1082.5" width="24.0" height="7.0" rx="3.5" fill="#7FA5E6" opacity="0.9"/>
</g>
<g filter="url(#blur15)" fill="#05070C">
<path d="M1222.9 1108.6C1224.4 1109.6 1226.9 1110.6 1236.4 1111.1C1245.9 1110.6 1248.4 1109.6 1249.9 1108.6L1250.5 1112.1Q1249.9 1115.1 1245.9 1115.7L1226.9 1115.7Q1222.9 1115.1 1222.3 1112.1Z" opacity="0.95"/>
<path d="M1258.1 1106.6C1259.6 1108.7 1262.1 1110.1 1271.1 1110.6C1280.1 1110.1 1282.6 1108.7 1284.1 1106.6L1284.7 1112.6Q1284.1 1115.6 1280.1 1116.2L1262.1 1116.2Q1258.1 1115.6 1257.5 1112.6Z" opacity="0.9"/>
<path d="M1292.4 1106.5C1293.9 1108.5 1296.4 1110.0 1304.9 1110.5C1313.4 1110.0 1315.9 1108.5 1317.4 1106.5L1318.0 1112.0Q1317.4 1115.0 1313.4 1115.5L1296.4 1115.5Q1292.4 1115.0 1291.8 1112.0Z" opacity="0.85"/>
<path d="M1323.5 1108.0C1325.0 1109.8 1327.5 1111.0 1338.0 1111.5C1348.5 1111.0 1351.0 1109.8 1352.5 1108.0L1353.1 1114.5Q1352.5 1117.5 1348.5 1118.1L1327.5 1118.1Q1323.5 1117.5 1322.9 1114.5Z" opacity="1"/>
<path d="M1358.1 1111.0C1359.6 1112.4 1362.1 1113.5 1371.1 1114.0C1380.1 1113.5 1382.6 1112.4 1384.1 1111.0L1384.7 1115.0Q1384.1 1118.0 1380.1 1118.6L1362.1 1118.6Q1358.1 1118.0 1357.5 1115.0Z" opacity="0.9"/>
<path d="M1392.4 1107.5C1393.9 1109.9 1396.4 1111.5 1406.4 1112.0C1416.4 1111.5 1418.9 1109.9 1420.4 1107.5L1421.0 1114.5Q1420.4 1117.5 1416.4 1118.0L1396.4 1118.0Q1392.4 1117.5 1391.8 1114.5Z" opacity="0.97"/>
<path d="M1426.6 1107.5C1428.1 1109.9 1430.6 1111.5 1440.6 1112.0C1450.6 1111.5 1453.1 1109.9 1454.6 1107.5L1455.2 1114.5Q1454.6 1117.5 1450.6 1118.0L1430.6 1118.0Q1426.6 1117.5 1426.0 1114.5Z" opacity="0.97"/>
<path d="M1463.0 1108.2C1464.5 1110.3 1467.0 1111.7 1477.0 1112.2C1487.0 1111.7 1489.5 1110.3 1491.0 1108.2L1491.6 1114.2Q1491.0 1117.2 1487.0 1117.8L1467.0 1117.8Q1463.0 1117.2 1462.4 1114.2Z" opacity="0.95"/>
</g>
</g>
<text x="1495.3" y="1126.3" font-size="24.6">43</text>
<text x="1538.8" y="1119.1" font-size="26.5">Actin</text>
<g clip-path="url(#bc3)">
<rect x="1216.7" y="1156.1" width="306.3" height="70.7" fill="url(#bg3)"/>
<rect x="1497" y="1156" width="23" height="71" fill="#E2B9C4" opacity="0.24" filter="url(#blur2)"/>
<g filter="url(#blur4)">
<rect x="1320.2" y="1155.0" width="5.0" height="34.0" fill="#20242c" opacity="0.2"/>
<rect x="1355.2" y="1155.0" width="5.0" height="34.0" fill="#20242c" opacity="0.2"/>
<rect x="1390.2" y="1155.0" width="5.0" height="34.0" fill="#20242c" opacity="0.2"/>
<rect x="1425.3" y="1155.0" width="5.0" height="34.0" fill="#20242c" opacity="0.2"/>
<rect x="1460.3" y="1155.0" width="5.0" height="34.0" fill="#20242c" opacity="0.2"/>
<rect x="1345.2" y="1155.0" width="5.0" height="34.0" fill="#20242c" opacity="0.2"/>
<rect x="1380.2" y="1155.0" width="5.0" height="34.0" fill="#20242c" opacity="0.2"/>
<rect x="1415.2" y="1155.0" width="5.0" height="34.0" fill="#20242c" opacity="0.2"/>
<rect x="1450.3" y="1155.0" width="5.0" height="34.0" fill="#20242c" opacity="0.2"/>
<rect x="1485.3" y="1155.0" width="5.0" height="34.0" fill="#20242c" opacity="0.2"/>
<rect x="1458.8" y="1157.0" width="7.0" height="30.0" fill="#20242c" opacity="0.3"/>
<rect x="1484.8" y="1157.0" width="7.0" height="30.0" fill="#20242c" opacity="0.3"/>
<rect x="1466.3" y="1157.0" width="18.0" height="18.0" fill="#fff" opacity="0.3"/>
<rect x="1432.3" y="1160.0" width="16.0" height="16.0" fill="#fff" opacity="0.2"/>
<rect x="1220.0" y="1160.0" width="40.0" height="60.0" fill="#20242c" opacity="0.06"/>
</g>
<g filter="url(#blur2)">
<rect x="1497.0" y="1172.5" width="24.0" height="15.0" rx="7.5" fill="#5C82CC" opacity="0.85"/>
<rect x="1497.0" y="1217.0" width="24.0" height="10.0" rx="5.0" fill="#6F8FD0" opacity="0.6"/>
</g>
<g filter="url(#blur15)" fill="#05070C">
<path d="M1254.1 1192.3C1255.6 1193.0 1258.1 1193.8 1265.1 1194.3C1272.1 1193.8 1274.6 1193.0 1276.1 1192.3L1276.7 1194.3Q1276.1 1197.3 1272.1 1197.9L1258.1 1197.9Q1254.1 1197.3 1253.5 1194.3Z" opacity="0.3"/>
<path d="M1287.7 1190.0C1289.2 1191.8 1291.7 1193.0 1300.2 1193.5C1308.7 1193.0 1311.2 1191.8 1312.7 1190.0L1313.3 1194.5Q1312.7 1197.5 1308.7 1198.1L1291.7 1198.1Q1287.7 1197.5 1287.1 1194.5Z" opacity="0.6"/>
<path d="M1321.2 1187.3C1322.7 1190.1 1325.2 1191.8 1335.2 1192.3C1345.2 1191.8 1347.7 1190.1 1349.2 1187.3L1349.8 1196.3Q1349.2 1199.3 1345.2 1199.9L1325.2 1199.9Q1321.2 1199.3 1320.6 1196.3Z" opacity="1"/>
<path d="M1356.7 1187.5C1358.2 1190.3 1360.7 1192.0 1370.2 1192.5C1379.7 1192.0 1382.2 1190.3 1383.7 1187.5L1384.3 1196.0Q1383.7 1199.0 1379.7 1199.6L1360.7 1199.6Q1356.7 1199.0 1356.1 1196.0Z" opacity="0.98"/>
<path d="M1391.8 1187.5C1393.2 1190.3 1395.8 1192.0 1405.2 1192.5C1414.8 1192.0 1417.2 1190.3 1418.8 1187.5L1419.3 1196.0Q1418.8 1199.0 1414.8 1199.6L1395.8 1199.6Q1391.8 1199.0 1391.2 1196.0Z" opacity="0.98"/>
<path d="M1425.3 1184.8C1426.8 1188.2 1429.3 1190.2 1440.3 1190.8C1451.3 1190.2 1453.8 1188.2 1455.3 1184.8L1455.9 1196.2Q1455.3 1199.2 1451.3 1199.8L1429.3 1199.8Q1425.3 1199.2 1424.7 1196.2Z" opacity="1"/>
<path d="M1459.8 1179.2C1461.3 1183.5 1463.8 1185.8 1475.3 1186.2C1486.8 1185.8 1489.3 1183.5 1490.8 1179.2L1491.4 1194.8Q1490.8 1197.8 1486.8 1198.3L1463.8 1198.3Q1459.8 1197.8 1459.2 1194.8Z" opacity="1"/>
</g>
</g>
<text x="1495.3" y="1186.6" font-size="24.6">57</text>
<text x="1495.3" y="1225.4" font-size="24.6">43</text>
<text x="1344.2" y="1238.5" font-size="24.6" fill="#FF1FE0">0.38</text>
<text x="1414.5" y="1238.5" font-size="24.6" fill="#FF1FE0">1.17</text>
<text x="1538.8" y="1200.4" font-size="26.5">D83A</text>
<g clip-path="url(#bc4)">
<rect x="1216.7" y="1238.2" width="306.3" height="63.4" fill="url(#bg4)"/>
<rect x="1497" y="1238" width="23" height="64" fill="#E2B9C4" opacity="0.13" filter="url(#blur2)"/>
<g filter="url(#blur2)">
<rect x="1497.0" y="1239.0" width="24.0" height="8.0" rx="4.0" fill="#7FA5E6" opacity="0.9"/>
</g>
<g filter="url(#blur15)" fill="#05070C">
<path d="M1221.9 1268.5C1223.4 1271.0 1225.9 1272.5 1236.4 1273.0C1246.9 1272.5 1249.4 1271.0 1250.9 1268.5L1251.5 1276.0Q1250.9 1279.0 1246.9 1279.6L1225.9 1279.6Q1221.9 1279.0 1221.3 1276.0Z" opacity="1"/>
<path d="M1256.6 1268.5C1258.1 1271.0 1260.6 1272.5 1271.1 1273.0C1281.6 1272.5 1284.1 1271.0 1285.6 1268.5L1286.2 1276.0Q1285.6 1279.0 1281.6 1279.6L1260.6 1279.6Q1256.6 1279.0 1256.0 1276.0Z" opacity="1"/>
<path d="M1290.4 1268.5C1291.9 1271.0 1294.4 1272.5 1304.9 1273.0C1315.4 1272.5 1317.9 1271.0 1319.4 1268.5L1320.0 1276.0Q1319.4 1279.0 1315.4 1279.6L1294.4 1279.6Q1290.4 1279.0 1289.8 1276.0Z" opacity="1"/>
<path d="M1323.5 1268.5C1325.0 1271.0 1327.5 1272.5 1338.0 1273.0C1348.5 1272.5 1351.0 1271.0 1352.5 1268.5L1353.1 1276.0Q1352.5 1279.0 1348.5 1279.6L1327.5 1279.6Q1323.5 1279.0 1322.9 1276.0Z" opacity="1"/>
<path d="M1356.6 1268.5C1358.1 1271.0 1360.6 1272.5 1371.1 1273.0C1381.6 1272.5 1384.1 1271.0 1385.6 1268.5L1386.2 1276.0Q1385.6 1279.0 1381.6 1279.6L1360.6 1279.6Q1356.6 1279.0 1356.0 1276.0Z" opacity="1"/>
<path d="M1391.9 1268.5C1393.4 1271.0 1395.9 1272.5 1406.4 1273.0C1416.9 1272.5 1419.4 1271.0 1420.9 1268.5L1421.5 1276.0Q1420.9 1279.0 1416.9 1279.6L1395.9 1279.6Q1391.9 1279.0 1391.3 1276.0Z" opacity="1"/>
<path d="M1426.1 1268.5C1427.6 1271.0 1430.1 1272.5 1440.6 1273.0C1451.1 1272.5 1453.6 1271.0 1455.1 1268.5L1455.7 1276.0Q1455.1 1279.0 1451.1 1279.6L1430.1 1279.6Q1426.1 1279.0 1425.5 1276.0Z" opacity="1"/>
<path d="M1462.5 1267.0C1464.0 1269.5 1466.5 1271.0 1477.0 1271.5C1487.5 1271.0 1490.0 1269.5 1491.5 1267.0L1492.1 1274.5Q1491.5 1277.5 1487.5 1278.1L1466.5 1278.1Q1462.5 1277.5 1461.9 1274.5Z" opacity="1"/>
</g>
</g>
<text x="1495.3" y="1282.0" font-size="24.6">43</text>
<text x="1538.8" y="1278.7" font-size="26.5">Actin</text>
<text x="0.0" y="1343.0" font-size="46" font-weight="bold">e</text>
<text x="78.9" y="1680.0" font-size="31.2" text-anchor="middle" transform="rotate(-90 78.9 1680.0)">Cell death SYTOX Green +ve counts/confluence</text>
<g>
<text x="338.2" y="1371.3" font-size="31.4" text-anchor="middle">mC-V74A BAK + BID</text>
<path d="M179.6 1386.8V1600.9" stroke="#000" stroke-width="2.4" fill="none"/>
<path d="M178.4 1599.7H497.6" stroke="#000" stroke-width="2.4" fill="none"/>
<path d="M170.9 1599.7H179.6M170.9 1546.8H179.6M170.9 1493.8H179.6M170.9 1440.9H179.6M170.9 1388.0H179.6" stroke="#000" stroke-width="2.4" fill="none"/>
<path d="M179.6 1599.7v9.7M192.8 1599.7v5.6M206.0 1599.7v5.6M219.2 1599.7v5.6M232.4 1599.7v5.6M245.6 1599.7v5.6M258.8 1599.7v5.6M272.0 1599.7v5.6M285.2 1599.7v5.6M298.4 1599.7v5.6M311.6 1599.7v9.7M324.8 1599.7v5.6M338.0 1599.7v5.6M351.2 1599.7v5.6M364.4 1599.7v5.6M377.6 1599.7v5.6M390.8 1599.7v5.6M404.0 1599.7v5.6M417.2 1599.7v5.6M430.4 1599.7v5.6M443.6 1599.7v9.7M456.8 1599.7v5.6M470.0 1599.7v5.6M483.2 1599.7v5.6M496.4 1599.7v5.6" stroke="#000" stroke-width="2.4" fill="none"/>
<path d="M179.6 1599.7H496.4" stroke="#000" stroke-width="3.4" stroke-dasharray="9 5" fill="none"/>
<text x="166.9" y="1607.3" font-size="27.3" text-anchor="end">0</text>
<text x="166.9" y="1554.4" font-size="27.3" text-anchor="end">50</text>
<text x="166.9" y="1500.4" font-size="23.5" text-anchor="end">100</text>
<text x="166.9" y="1448.5" font-size="27.3" text-anchor="end">150</text>
<text x="166.9" y="1395.6" font-size="27.3" text-anchor="end">200</text>
<text x="180.0" y="1632.7" font-size="27.3" text-anchor="middle">0</text>
<text x="312.0" y="1632.7" font-size="27.3" text-anchor="middle">20</text>
<text x="444.0" y="1632.7" font-size="27.3" text-anchor="middle">40</text>
<text x="338.4" y="1662.2" font-size="31.4" text-anchor="middle">Time (hr)</text>
<path d="M209.2 1412.5H232.6" stroke="#E6E6E6" stroke-width="1.6"/>
<circle cx="220.9" cy="1412.5" r="3.2" fill="#E6E6E6"/>
<text x="243.6" y="1420.1" font-size="21.7">0</text>
<path d="M209.2 1430.2H232.6" stroke="#FFCFC7" stroke-width="1.6"/>
<circle cx="220.9" cy="1430.2" r="3.2" fill="#FFCFC7"/>
<text x="243.6" y="1437.8" font-size="21.7">6.25</text>
<path d="M209.2 1448.0H232.6" stroke="#FFB5A8" stroke-width="1.6"/>
<circle cx="220.9" cy="1448.0" r="3.2" fill="#FFB5A8"/>
<text x="243.6" y="1455.6" font-size="21.7">12.5</text>
<path d="M209.2 1465.7H232.6" stroke="#FF9B8A" stroke-width="1.6"/>
<circle cx="220.9" cy="1465.7" r="3.2" fill="#FF9B8A"/>
<text x="243.6" y="1473.3" font-size="21.7">25</text>
<path d="M209.2 1483.4H232.6" stroke="#FF816B" stroke-width="1.6"/>
<circle cx="220.9" cy="1483.4" r="3.2" fill="#FF816B"/>
<text x="243.6" y="1491.0" font-size="21.7">50</text>
<path d="M209.2 1501.2H232.6" stroke="#FF6347" stroke-width="1.6"/>
<circle cx="220.9" cy="1501.2" r="3.2" fill="#FF6347"/>
<text x="243.6" y="1508.8" font-size="21.7">100</text>
<path d="M209.2 1518.9H232.6" stroke="#FF4424" stroke-width="1.6"/>
<circle cx="220.9" cy="1518.9" r="3.2" fill="#FF4424"/>
<text x="243.6" y="1526.5" font-size="21.7">500</text>
<path d="M209.2 1536.6H232.6" stroke="#FF2600" stroke-width="1.6"/>
<circle cx="220.9" cy="1536.6" r="3.2" fill="#FF2600"/>
<text x="243.6" y="1544.2" font-size="21.7">1000</text>
<path d="M179.6 1597.9L192.8 1597.9L206.0 1597.9L219.2 1597.9L232.4 1597.8L245.6 1597.8L258.8 1597.7L272.0 1597.5L285.2 1597.4L298.4 1597.2L311.6 1597.0L324.8 1596.8L338.0 1596.6L351.2 1596.4L364.4 1596.3L377.6 1596.2L390.8 1596.1L404.0 1596.0L417.2 1596.0L430.4 1596.0L443.6 1596.0L456.8 1596.0L470.0 1596.2L483.2 1596.3L496.4 1596.5" stroke="#FFCFC7" stroke-width="1.5" fill="none"/>
<g fill="#FFCFC7"><circle cx="179.6" cy="1597.9" r="3.3"/><circle cx="192.8" cy="1597.9" r="3.3"/><circle cx="206.0" cy="1597.9" r="3.3"/><circle cx="219.2" cy="1597.9" r="3.3"/><circle cx="232.4" cy="1597.8" r="3.3"/><circle cx="245.6" cy="1597.8" r="3.3"/><circle cx="258.8" cy="1597.7" r="3.3"/><circle cx="272.0" cy="1597.5" r="3.3"/><circle cx="285.2" cy="1597.4" r="3.3"/><circle cx="298.4" cy="1597.2" r="3.3"/><circle cx="311.6" cy="1597.0" r="3.3"/><circle cx="324.8" cy="1596.8" r="3.3"/><circle cx="338.0" cy="1596.6" r="3.3"/><circle cx="351.2" cy="1596.4" r="3.3"/><circle cx="364.4" cy="1596.3" r="3.3"/><circle cx="377.6" cy="1596.2" r="3.3"/><circle cx="390.8" cy="1596.1" r="3.3"/><circle cx="404.0" cy="1596.0" r="3.3"/><circle cx="417.2" cy="1596.0" r="3.3"/><circle cx="430.4" cy="1596.0" r="3.3"/><circle cx="443.6" cy="1596.0" r="3.3"/><circle cx="456.8" cy="1596.0" r="3.3"/><circle cx="470.0" cy="1596.2" r="3.3"/><circle cx="483.2" cy="1596.3" r="3.3"/><circle cx="496.4" cy="1596.5" r="3.3"/></g>
<path d="M179.6 1597.9L192.8 1597.9L206.0 1597.9L219.2 1597.9L232.4 1597.8L245.6 1597.6L258.8 1597.4L272.0 1597.1L285.2 1596.8L298.4 1596.4L311.6 1596.0L324.8 1595.5L338.0 1595.2L351.2 1594.8L364.4 1594.5L377.6 1594.3L390.8 1594.2L404.0 1594.1L417.2 1594.0L430.4 1593.9L443.6 1593.9L456.8 1594.1L470.0 1594.4L483.2 1594.9L496.4 1595.5" stroke="#FFB5A8" stroke-width="1.5" fill="none"/>
<g fill="#FFB5A8"><circle cx="179.6" cy="1597.9" r="3.3"/><circle cx="192.8" cy="1597.9" r="3.3"/><circle cx="206.0" cy="1597.9" r="3.3"/><circle cx="219.2" cy="1597.9" r="3.3"/><circle cx="232.4" cy="1597.8" r="3.3"/><circle cx="245.6" cy="1597.6" r="3.3"/><circle cx="258.8" cy="1597.4" r="3.3"/><circle cx="272.0" cy="1597.1" r="3.3"/><circle cx="285.2" cy="1596.8" r="3.3"/><circle cx="298.4" cy="1596.4" r="3.3"/><circle cx="311.6" cy="1596.0" r="3.3"/><circle cx="324.8" cy="1595.5" r="3.3"/><circle cx="338.0" cy="1595.2" r="3.3"/><circle cx="351.2" cy="1594.8" r="3.3"/><circle cx="364.4" cy="1594.5" r="3.3"/><circle cx="377.6" cy="1594.3" r="3.3"/><circle cx="390.8" cy="1594.2" r="3.3"/><circle cx="404.0" cy="1594.1" r="3.3"/><circle cx="417.2" cy="1594.0" r="3.3"/><circle cx="430.4" cy="1593.9" r="3.3"/><circle cx="443.6" cy="1593.9" r="3.3"/><circle cx="456.8" cy="1594.1" r="3.3"/><circle cx="470.0" cy="1594.4" r="3.3"/><circle cx="483.2" cy="1594.9" r="3.3"/><circle cx="496.4" cy="1595.5" r="3.3"/></g>
<path d="M179.6 1597.9L192.8 1597.9L206.0 1597.9L219.2 1597.8L232.4 1597.4L245.6 1596.5L258.8 1595.2L272.0 1593.7L285.2 1591.8L298.4 1589.6L311.6 1587.3L324.8 1585.2L338.0 1583.3L351.2 1581.8L364.4 1580.6L377.6 1579.8L390.8 1579.3L404.0 1578.9L417.2 1578.6L430.4 1578.5L443.6 1578.4L456.8 1579.5L470.0 1581.7L483.2 1584.6L496.4 1588.1" stroke="#FF9B8A" stroke-width="1.5" fill="none"/>
<g fill="#FF9B8A"><circle cx="179.6" cy="1597.9" r="3.3"/><circle cx="192.8" cy="1597.9" r="3.3"/><circle cx="206.0" cy="1597.9" r="3.3"/><circle cx="219.2" cy="1597.8" r="3.3"/><circle cx="232.4" cy="1597.4" r="3.3"/><circle cx="245.6" cy="1596.5" r="3.3"/><circle cx="258.8" cy="1595.2" r="3.3"/><circle cx="272.0" cy="1593.7" r="3.3"/><circle cx="285.2" cy="1591.8" r="3.3"/><circle cx="298.4" cy="1589.6" r="3.3"/><circle cx="311.6" cy="1587.3" r="3.3"/><circle cx="324.8" cy="1585.2" r="3.3"/><circle cx="338.0" cy="1583.3" r="3.3"/><circle cx="351.2" cy="1581.8" r="3.3"/><circle cx="364.4" cy="1580.6" r="3.3"/><circle cx="377.6" cy="1579.8" r="3.3"/><circle cx="390.8" cy="1579.3" r="3.3"/><circle cx="404.0" cy="1578.9" r="3.3"/><circle cx="417.2" cy="1578.6" r="3.3"/><circle cx="430.4" cy="1578.5" r="3.3"/><circle cx="443.6" cy="1578.4" r="3.3"/><circle cx="456.8" cy="1579.5" r="3.3"/><circle cx="470.0" cy="1581.7" r="3.3"/><circle cx="483.2" cy="1584.6" r="3.3"/><circle cx="496.4" cy="1588.1" r="3.3"/></g>
<path d="M179.6 1597.9L192.8 1597.9L206.0 1597.9L219.2 1597.8L232.4 1597.3L245.6 1596.2L258.8 1594.6L272.0 1592.7L285.2 1590.2L298.4 1587.2L311.6 1583.9L324.8 1580.7L338.0 1577.7L351.2 1575.2L364.4 1573.3L377.6 1571.9L390.8 1570.9L404.0 1570.2L417.2 1569.8L430.4 1569.5L443.6 1569.3L456.8 1570.0L470.0 1571.3L483.2 1573.2L496.4 1575.4" stroke="#FF816B" stroke-width="1.5" fill="none"/>
<g fill="#FF816B"><circle cx="179.6" cy="1597.9" r="3.3"/><circle cx="192.8" cy="1597.9" r="3.3"/><circle cx="206.0" cy="1597.9" r="3.3"/><circle cx="219.2" cy="1597.8" r="3.3"/><circle cx="232.4" cy="1597.3" r="3.3"/><circle cx="245.6" cy="1596.2" r="3.3"/><circle cx="258.8" cy="1594.6" r="3.3"/><circle cx="272.0" cy="1592.7" r="3.3"/><circle cx="285.2" cy="1590.2" r="3.3"/><circle cx="298.4" cy="1587.2" r="3.3"/><circle cx="311.6" cy="1583.9" r="3.3"/><circle cx="324.8" cy="1580.7" r="3.3"/><circle cx="338.0" cy="1577.7" r="3.3"/><circle cx="351.2" cy="1575.2" r="3.3"/><circle cx="364.4" cy="1573.3" r="3.3"/><circle cx="377.6" cy="1571.9" r="3.3"/><circle cx="390.8" cy="1570.9" r="3.3"/><circle cx="404.0" cy="1570.2" r="3.3"/><circle cx="417.2" cy="1569.8" r="3.3"/><circle cx="430.4" cy="1569.5" r="3.3"/><circle cx="443.6" cy="1569.3" r="3.3"/><circle cx="456.8" cy="1570.0" r="3.3"/><circle cx="470.0" cy="1571.3" r="3.3"/><circle cx="483.2" cy="1573.2" r="3.3"/><circle cx="496.4" cy="1575.4" r="3.3"/></g>
<path d="M179.6 1597.9L192.8 1597.9L206.0 1597.9L219.2 1597.7L232.4 1596.9L245.6 1595.4L258.8 1593.1L272.0 1590.4L285.2 1586.9L298.4 1582.7L311.6 1577.8L324.8 1572.8L338.0 1568.0L351.2 1563.7L364.4 1560.2L377.6 1557.5L390.8 1555.5L404.0 1554.1L417.2 1553.1L430.4 1552.5L443.6 1552.0L456.8 1551.9L470.0 1552.1L483.2 1552.6L496.4 1553.1" stroke="#FF6347" stroke-width="1.5" fill="none"/>
<g fill="#FF6347"><circle cx="179.6" cy="1597.9" r="3.3"/><circle cx="192.8" cy="1597.9" r="3.3"/><circle cx="206.0" cy="1597.9" r="3.3"/><circle cx="219.2" cy="1597.7" r="3.3"/><circle cx="232.4" cy="1596.9" r="3.3"/><circle cx="245.6" cy="1595.4" r="3.3"/><circle cx="258.8" cy="1593.1" r="3.3"/><circle cx="272.0" cy="1590.4" r="3.3"/><circle cx="285.2" cy="1586.9" r="3.3"/><circle cx="298.4" cy="1582.7" r="3.3"/><circle cx="311.6" cy="1577.8" r="3.3"/><circle cx="324.8" cy="1572.8" r="3.3"/><circle cx="338.0" cy="1568.0" r="3.3"/><circle cx="351.2" cy="1563.7" r="3.3"/><circle cx="364.4" cy="1560.2" r="3.3"/><circle cx="377.6" cy="1557.5" r="3.3"/><circle cx="390.8" cy="1555.5" r="3.3"/><circle cx="404.0" cy="1554.1" r="3.3"/><circle cx="417.2" cy="1553.1" r="3.3"/><circle cx="430.4" cy="1552.5" r="3.3"/><circle cx="443.6" cy="1552.0" r="3.3"/><circle cx="456.8" cy="1551.9" r="3.3"/><circle cx="470.0" cy="1552.1" r="3.3"/><circle cx="483.2" cy="1552.6" r="3.3"/><circle cx="496.4" cy="1553.1" r="3.3"/></g>
<path d="M179.6 1597.9L192.8 1597.9L206.0 1597.9L219.2 1597.7L232.4 1596.9L245.6 1595.1L258.8 1592.7L272.0 1589.7L285.2 1585.8L298.4 1580.9L311.6 1575.3L324.8 1569.4L338.0 1563.5L351.2 1558.3L364.4 1553.9L377.6 1550.4L390.8 1547.9L404.0 1546.0L417.2 1544.7L430.4 1543.8L443.6 1543.2L456.8 1543.5L470.0 1544.5L483.2 1546.0L496.4 1547.8" stroke="#FF4424" stroke-width="1.5" fill="none"/>
<g fill="#FF4424"><circle cx="179.6" cy="1597.9" r="3.3"/><circle cx="192.8" cy="1597.9" r="3.3"/><circle cx="206.0" cy="1597.9" r="3.3"/><circle cx="219.2" cy="1597.7" r="3.3"/><circle cx="232.4" cy="1596.9" r="3.3"/><circle cx="245.6" cy="1595.1" r="3.3"/><circle cx="258.8" cy="1592.7" r="3.3"/><circle cx="272.0" cy="1589.7" r="3.3"/><circle cx="285.2" cy="1585.8" r="3.3"/><circle cx="298.4" cy="1580.9" r="3.3"/><circle cx="311.6" cy="1575.3" r="3.3"/><circle cx="324.8" cy="1569.4" r="3.3"/><circle cx="338.0" cy="1563.5" r="3.3"/><circle cx="351.2" cy="1558.3" r="3.3"/><circle cx="364.4" cy="1553.9" r="3.3"/><circle cx="377.6" cy="1550.4" r="3.3"/><circle cx="390.8" cy="1547.9" r="3.3"/><circle cx="404.0" cy="1546.0" r="3.3"/><circle cx="417.2" cy="1544.7" r="3.3"/><circle cx="430.4" cy="1543.8" r="3.3"/><circle cx="443.6" cy="1543.2" r="3.3"/><circle cx="456.8" cy="1543.5" r="3.3"/><circle cx="470.0" cy="1544.5" r="3.3"/><circle cx="483.2" cy="1546.0" r="3.3"/><circle cx="496.4" cy="1547.8" r="3.3"/></g>
<path d="M179.6 1597.9L192.8 1597.9L206.0 1597.9L219.2 1597.7L232.4 1596.8L245.6 1595.0L258.8 1592.5L272.0 1589.7L285.2 1586.1L298.4 1581.7L311.6 1576.5L324.8 1570.8L338.0 1565.0L351.2 1559.3L364.4 1554.1L377.6 1549.7L390.8 1546.1L404.0 1543.2L417.2 1541.1L430.4 1539.5L443.6 1538.3L456.8 1537.5L470.0 1536.9L483.2 1536.5L496.4 1536.2" stroke="#FF2600" stroke-width="1.5" fill="none"/>
<g fill="#FF2600"><circle cx="179.6" cy="1597.9" r="3.3"/><circle cx="192.8" cy="1597.9" r="3.3"/><circle cx="206.0" cy="1597.9" r="3.3"/><circle cx="219.2" cy="1597.7" r="3.3"/><circle cx="232.4" cy="1596.8" r="3.3"/><circle cx="245.6" cy="1595.0" r="3.3"/><circle cx="258.8" cy="1592.5" r="3.3"/><circle cx="272.0" cy="1589.7" r="3.3"/><circle cx="285.2" cy="1586.1" r="3.3"/><circle cx="298.4" cy="1581.7" r="3.3"/><circle cx="311.6" cy="1576.5" r="3.3"/><circle cx="324.8" cy="1570.8" r="3.3"/><circle cx="338.0" cy="1565.0" r="3.3"/><circle cx="351.2" cy="1559.3" r="3.3"/><circle cx="364.4" cy="1554.1" r="3.3"/><circle cx="377.6" cy="1549.7" r="3.3"/><circle cx="390.8" cy="1546.1" r="3.3"/><circle cx="404.0" cy="1543.2" r="3.3"/><circle cx="417.2" cy="1541.1" r="3.3"/><circle cx="430.4" cy="1539.5" r="3.3"/><circle cx="443.6" cy="1538.3" r="3.3"/><circle cx="456.8" cy="1537.5" r="3.3"/><circle cx="470.0" cy="1536.9" r="3.3"/><circle cx="483.2" cy="1536.5" r="3.3"/><circle cx="496.4" cy="1536.2" r="3.3"/></g>
<path d="M179.6 1598.3L192.8 1598.3L206.0 1598.3L219.2 1598.3L232.4 1598.2L245.6 1598.2L258.8 1598.2L272.0 1598.1L285.2 1598.1L298.4 1598.0L311.6 1597.9L324.8 1597.9L338.0 1597.8L351.2 1597.8L364.4 1597.7L377.6 1597.7L390.8 1597.7L404.0 1597.6L417.2 1597.6L430.4 1597.6L443.6 1597.6L456.8 1597.6L470.0 1597.6L483.2 1597.6L496.4 1597.6" stroke="#E6E6E6" stroke-width="1.5" fill="none"/>
<g fill="#E6E6E6"><circle cx="179.6" cy="1598.3" r="3.3"/><circle cx="192.8" cy="1598.3" r="3.3"/><circle cx="206.0" cy="1598.3" r="3.3"/><circle cx="219.2" cy="1598.3" r="3.3"/><circle cx="232.4" cy="1598.2" r="3.3"/><circle cx="245.6" cy="1598.2" r="3.3"/><circle cx="258.8" cy="1598.2" r="3.3"/><circle cx="272.0" cy="1598.1" r="3.3"/><circle cx="285.2" cy="1598.1" r="3.3"/><circle cx="298.4" cy="1598.0" r="3.3"/><circle cx="311.6" cy="1597.9" r="3.3"/><circle cx="324.8" cy="1597.9" r="3.3"/><circle cx="338.0" cy="1597.8" r="3.3"/><circle cx="351.2" cy="1597.8" r="3.3"/><circle cx="364.4" cy="1597.7" r="3.3"/><circle cx="377.6" cy="1597.7" r="3.3"/><circle cx="390.8" cy="1597.7" r="3.3"/><circle cx="404.0" cy="1597.6" r="3.3"/><circle cx="417.2" cy="1597.6" r="3.3"/><circle cx="430.4" cy="1597.6" r="3.3"/><circle cx="443.6" cy="1597.6" r="3.3"/><circle cx="456.8" cy="1597.6" r="3.3"/><circle cx="470.0" cy="1597.6" r="3.3"/><circle cx="483.2" cy="1597.6" r="3.3"/><circle cx="496.4" cy="1597.6" r="3.3"/></g>
<path d="M210.7 1558.8h5.2V1583.3L220.0 1580.8L213.3 1595.8L206.6 1580.8L210.7 1583.3Z" fill="#000"/>
</g>
<g>
<text x="738.8" y="1371.3" font-size="31.4" text-anchor="middle">mC-D83A BAK + BID</text>
<path d="M580.1 1386.8V1600.9" stroke="#000" stroke-width="2.4" fill="none"/>
<path d="M578.9 1599.7H898.1" stroke="#000" stroke-width="2.4" fill="none"/>
<path d="M571.4 1599.7H580.1M571.4 1546.8H580.1M571.4 1493.8H580.1M571.4 1440.9H580.1M571.4 1388.0H580.1" stroke="#000" stroke-width="2.4" fill="none"/>
<path d="M580.1 1599.7v9.7M593.3 1599.7v5.6M606.5 1599.7v5.6M619.7 1599.7v5.6M632.9 1599.7v5.6M646.1 1599.7v5.6M659.3 1599.7v5.6M672.5 1599.7v5.6M685.7 1599.7v5.6M698.9 1599.7v5.6M712.1 1599.7v9.7M725.3 1599.7v5.6M738.5 1599.7v5.6M751.7 1599.7v5.6M764.9 1599.7v5.6M778.1 1599.7v5.6M791.3 1599.7v5.6M804.5 1599.7v5.6M817.7 1599.7v5.6M830.9 1599.7v5.6M844.1 1599.7v9.7M857.3 1599.7v5.6M870.5 1599.7v5.6M883.7 1599.7v5.6M896.9 1599.7v5.6" stroke="#000" stroke-width="2.4" fill="none"/>
<path d="M580.1 1599.7H896.9" stroke="#000" stroke-width="3.4" stroke-dasharray="9 5" fill="none"/>
<text x="567.4" y="1607.3" font-size="27.3" text-anchor="end">0</text>
<text x="567.4" y="1554.4" font-size="27.3" text-anchor="end">50</text>
<text x="567.4" y="1501.4" font-size="27.3" text-anchor="end">100</text>
<text x="567.4" y="1448.5" font-size="27.3" text-anchor="end">150</text>
<text x="567.4" y="1395.6" font-size="27.3" text-anchor="end">200</text>
<text x="580.5" y="1632.7" font-size="27.3" text-anchor="middle">0</text>
<text x="712.5" y="1632.7" font-size="27.3" text-anchor="middle">20</text>
<text x="844.5" y="1632.7" font-size="27.3" text-anchor="middle">40</text>
<text x="739.2" y="1662.2" font-size="31.4" text-anchor="middle">Time (hr)</text>
<path d="M610.3 1414.2H634.0" stroke="#E6E6E6" stroke-width="1.6"/>
<circle cx="622.1" cy="1414.2" r="3.2" fill="#E6E6E6"/>
<text x="645.0" y="1421.8" font-size="21.7">0</text>
<path d="M610.3 1431.7H634.0" stroke="#C8D2FF" stroke-width="1.6"/>
<circle cx="622.1" cy="1431.7" r="3.2" fill="#C8D2FF"/>
<text x="645.0" y="1439.3" font-size="21.7">6.25</text>
<path d="M610.3 1449.2H634.0" stroke="#AABAFF" stroke-width="1.6"/>
<circle cx="622.1" cy="1449.2" r="3.2" fill="#AABAFF"/>
<text x="645.0" y="1456.8" font-size="21.7">12.5</text>
<path d="M610.3 1466.7H634.0" stroke="#8CA1FF" stroke-width="1.6"/>
<circle cx="622.1" cy="1466.7" r="3.2" fill="#8CA1FF"/>
<text x="645.0" y="1474.3" font-size="21.7">25</text>
<path d="M610.3 1484.2H634.0" stroke="#6D89FF" stroke-width="1.6"/>
<circle cx="622.1" cy="1484.2" r="3.2" fill="#6D89FF"/>
<text x="645.0" y="1491.8" font-size="21.7">50</text>
<path d="M610.3 1501.7H634.0" stroke="#4A6CFF" stroke-width="1.6"/>
<circle cx="622.1" cy="1501.7" r="3.2" fill="#4A6CFF"/>
<text x="645.0" y="1509.2" font-size="21.7">100</text>
<path d="M610.3 1519.1H634.0" stroke="#2750FF" stroke-width="1.6"/>
<circle cx="622.1" cy="1519.1" r="3.2" fill="#2750FF"/>
<text x="645.0" y="1526.7" font-size="21.7">500</text>
<path d="M610.3 1536.6H634.0" stroke="#0433FF" stroke-width="1.6"/>
<circle cx="622.1" cy="1536.6" r="3.2" fill="#0433FF"/>
<text x="645.0" y="1544.2" font-size="21.7">1000</text>
<path d="M580.1 1598.3L593.3 1598.3L606.5 1598.3L619.7 1598.3L632.9 1598.2L646.1 1598.2L659.3 1598.2L672.5 1598.1L685.7 1598.1L698.9 1598.0L712.1 1597.9L725.3 1597.8L738.5 1597.7L751.7 1597.6L764.9 1597.5L778.1 1597.5L791.3 1597.4L804.5 1597.4L817.7 1597.3L830.9 1597.3L844.1 1597.3L857.3 1597.3L870.5 1597.4L883.7 1597.5L896.9 1597.6" stroke="#C8D2FF" stroke-width="1.5" fill="none"/>
<g fill="#C8D2FF"><circle cx="580.1" cy="1598.3" r="3.3"/><circle cx="593.3" cy="1598.3" r="3.3"/><circle cx="606.5" cy="1598.3" r="3.3"/><circle cx="619.7" cy="1598.3" r="3.3"/><circle cx="632.9" cy="1598.2" r="3.3"/><circle cx="646.1" cy="1598.2" r="3.3"/><circle cx="659.3" cy="1598.2" r="3.3"/><circle cx="672.5" cy="1598.1" r="3.3"/><circle cx="685.7" cy="1598.1" r="3.3"/><circle cx="698.9" cy="1598.0" r="3.3"/><circle cx="712.1" cy="1597.9" r="3.3"/><circle cx="725.3" cy="1597.8" r="3.3"/><circle cx="738.5" cy="1597.7" r="3.3"/><circle cx="751.7" cy="1597.6" r="3.3"/><circle cx="764.9" cy="1597.5" r="3.3"/><circle cx="778.1" cy="1597.5" r="3.3"/><circle cx="791.3" cy="1597.4" r="3.3"/><circle cx="804.5" cy="1597.4" r="3.3"/><circle cx="817.7" cy="1597.3" r="3.3"/><circle cx="830.9" cy="1597.3" r="3.3"/><circle cx="844.1" cy="1597.3" r="3.3"/><circle cx="857.3" cy="1597.3" r="3.3"/><circle cx="870.5" cy="1597.4" r="3.3"/><circle cx="883.7" cy="1597.5" r="3.3"/><circle cx="896.9" cy="1597.6" r="3.3"/></g>
<path d="M580.1 1597.9L593.3 1597.9L606.5 1597.9L619.7 1597.9L632.9 1597.8L646.1 1597.7L659.3 1597.6L672.5 1597.4L685.7 1597.2L698.9 1596.9L712.1 1596.6L725.3 1596.2L738.5 1595.9L751.7 1595.5L764.9 1595.2L778.1 1595.0L791.3 1594.8L804.5 1594.7L817.7 1594.6L830.9 1594.5L844.1 1594.5L857.3 1594.6L870.5 1594.8L883.7 1595.1L896.9 1595.5" stroke="#AABAFF" stroke-width="1.5" fill="none"/>
<g fill="#AABAFF"><circle cx="580.1" cy="1597.9" r="3.3"/><circle cx="593.3" cy="1597.9" r="3.3"/><circle cx="606.5" cy="1597.9" r="3.3"/><circle cx="619.7" cy="1597.9" r="3.3"/><circle cx="632.9" cy="1597.8" r="3.3"/><circle cx="646.1" cy="1597.7" r="3.3"/><circle cx="659.3" cy="1597.6" r="3.3"/><circle cx="672.5" cy="1597.4" r="3.3"/><circle cx="685.7" cy="1597.2" r="3.3"/><circle cx="698.9" cy="1596.9" r="3.3"/><circle cx="712.1" cy="1596.6" r="3.3"/><circle cx="725.3" cy="1596.2" r="3.3"/><circle cx="738.5" cy="1595.9" r="3.3"/><circle cx="751.7" cy="1595.5" r="3.3"/><circle cx="764.9" cy="1595.2" r="3.3"/><circle cx="778.1" cy="1595.0" r="3.3"/><circle cx="791.3" cy="1594.8" r="3.3"/><circle cx="804.5" cy="1594.7" r="3.3"/><circle cx="817.7" cy="1594.6" r="3.3"/><circle cx="830.9" cy="1594.5" r="3.3"/><circle cx="844.1" cy="1594.5" r="3.3"/><circle cx="857.3" cy="1594.6" r="3.3"/><circle cx="870.5" cy="1594.8" r="3.3"/><circle cx="883.7" cy="1595.1" r="3.3"/><circle cx="896.9" cy="1595.5" r="3.3"/></g>
<path d="M580.1 1597.9L593.3 1597.9L606.5 1597.9L619.7 1597.9L632.9 1597.8L646.1 1597.5L659.3 1597.2L672.5 1596.8L685.7 1596.2L698.9 1595.6L712.1 1594.8L725.3 1594.0L738.5 1593.2L751.7 1592.4L764.9 1591.8L778.1 1591.2L791.3 1590.8L804.5 1590.5L817.7 1590.3L830.9 1590.2L844.1 1590.1L857.3 1590.3L870.5 1590.8L883.7 1591.5L896.9 1592.3" stroke="#8CA1FF" stroke-width="1.5" fill="none"/>
<g fill="#8CA1FF"><circle cx="580.1" cy="1597.9" r="3.3"/><circle cx="593.3" cy="1597.9" r="3.3"/><circle cx="606.5" cy="1597.9" r="3.3"/><circle cx="619.7" cy="1597.9" r="3.3"/><circle cx="632.9" cy="1597.8" r="3.3"/><circle cx="646.1" cy="1597.5" r="3.3"/><circle cx="659.3" cy="1597.2" r="3.3"/><circle cx="672.5" cy="1596.8" r="3.3"/><circle cx="685.7" cy="1596.2" r="3.3"/><circle cx="698.9" cy="1595.6" r="3.3"/><circle cx="712.1" cy="1594.8" r="3.3"/><circle cx="725.3" cy="1594.0" r="3.3"/><circle cx="738.5" cy="1593.2" r="3.3"/><circle cx="751.7" cy="1592.4" r="3.3"/><circle cx="764.9" cy="1591.8" r="3.3"/><circle cx="778.1" cy="1591.2" r="3.3"/><circle cx="791.3" cy="1590.8" r="3.3"/><circle cx="804.5" cy="1590.5" r="3.3"/><circle cx="817.7" cy="1590.3" r="3.3"/><circle cx="830.9" cy="1590.2" r="3.3"/><circle cx="844.1" cy="1590.1" r="3.3"/><circle cx="857.3" cy="1590.3" r="3.3"/><circle cx="870.5" cy="1590.8" r="3.3"/><circle cx="883.7" cy="1591.5" r="3.3"/><circle cx="896.9" cy="1592.3" r="3.3"/></g>
<path d="M580.1 1597.9L593.3 1597.9L606.5 1597.9L619.7 1597.9L632.9 1597.7L646.1 1597.4L659.3 1597.0L672.5 1596.5L685.7 1595.8L698.9 1595.0L712.1 1593.9L725.3 1592.8L738.5 1591.6L751.7 1590.4L764.9 1589.4L778.1 1588.5L791.3 1587.8L804.5 1587.3L817.7 1586.9L830.9 1586.7L844.1 1586.5L857.3 1586.7L870.5 1587.3L883.7 1588.1L896.9 1589.1" stroke="#6D89FF" stroke-width="1.5" fill="none"/>
<g fill="#6D89FF"><circle cx="580.1" cy="1597.9" r="3.3"/><circle cx="593.3" cy="1597.9" r="3.3"/><circle cx="606.5" cy="1597.9" r="3.3"/><circle cx="619.7" cy="1597.9" r="3.3"/><circle cx="632.9" cy="1597.7" r="3.3"/><circle cx="646.1" cy="1597.4" r="3.3"/><circle cx="659.3" cy="1597.0" r="3.3"/><circle cx="672.5" cy="1596.5" r="3.3"/><circle cx="685.7" cy="1595.8" r="3.3"/><circle cx="698.9" cy="1595.0" r="3.3"/><circle cx="712.1" cy="1593.9" r="3.3"/><circle cx="725.3" cy="1592.8" r="3.3"/><circle cx="738.5" cy="1591.6" r="3.3"/><circle cx="751.7" cy="1590.4" r="3.3"/><circle cx="764.9" cy="1589.4" r="3.3"/><circle cx="778.1" cy="1588.5" r="3.3"/><circle cx="791.3" cy="1587.8" r="3.3"/><circle cx="804.5" cy="1587.3" r="3.3"/><circle cx="817.7" cy="1586.9" r="3.3"/><circle cx="830.9" cy="1586.7" r="3.3"/><circle cx="844.1" cy="1586.5" r="3.3"/><circle cx="857.3" cy="1586.7" r="3.3"/><circle cx="870.5" cy="1587.3" r="3.3"/><circle cx="883.7" cy="1588.1" r="3.3"/><circle cx="896.9" cy="1589.1" r="3.3"/></g>
<path d="M580.1 1597.9L593.3 1597.9L606.5 1597.9L619.7 1597.9L632.9 1597.7L646.1 1597.2L659.3 1596.7L672.5 1596.0L685.7 1595.0L698.9 1593.8L712.1 1592.4L725.3 1590.8L738.5 1589.1L751.7 1587.5L764.9 1586.0L778.1 1584.8L791.3 1583.9L804.5 1583.2L817.7 1582.7L830.9 1582.3L844.1 1582.1L857.3 1582.3L870.5 1582.9L883.7 1583.8L896.9 1584.9" stroke="#4A6CFF" stroke-width="1.5" fill="none"/>
<g fill="#4A6CFF"><circle cx="580.1" cy="1597.9" r="3.3"/><circle cx="593.3" cy="1597.9" r="3.3"/><circle cx="606.5" cy="1597.9" r="3.3"/><circle cx="619.7" cy="1597.9" r="3.3"/><circle cx="632.9" cy="1597.7" r="3.3"/><circle cx="646.1" cy="1597.2" r="3.3"/><circle cx="659.3" cy="1596.7" r="3.3"/><circle cx="672.5" cy="1596.0" r="3.3"/><circle cx="685.7" cy="1595.0" r="3.3"/><circle cx="698.9" cy="1593.8" r="3.3"/><circle cx="712.1" cy="1592.4" r="3.3"/><circle cx="725.3" cy="1590.8" r="3.3"/><circle cx="738.5" cy="1589.1" r="3.3"/><circle cx="751.7" cy="1587.5" r="3.3"/><circle cx="764.9" cy="1586.0" r="3.3"/><circle cx="778.1" cy="1584.8" r="3.3"/><circle cx="791.3" cy="1583.9" r="3.3"/><circle cx="804.5" cy="1583.2" r="3.3"/><circle cx="817.7" cy="1582.7" r="3.3"/><circle cx="830.9" cy="1582.3" r="3.3"/><circle cx="844.1" cy="1582.1" r="3.3"/><circle cx="857.3" cy="1582.3" r="3.3"/><circle cx="870.5" cy="1582.9" r="3.3"/><circle cx="883.7" cy="1583.8" r="3.3"/><circle cx="896.9" cy="1584.9" r="3.3"/></g>
<path d="M580.1 1597.9L593.3 1597.9L606.5 1597.9L619.7 1597.9L632.9 1597.6L646.1 1597.2L659.3 1596.6L672.5 1595.8L685.7 1594.7L698.9 1593.4L712.1 1591.6L725.3 1589.7L738.5 1587.5L751.7 1585.4L764.9 1583.4L778.1 1581.7L791.3 1580.3L804.5 1579.3L817.7 1578.5L830.9 1577.9L844.1 1577.5L857.3 1577.7L870.5 1578.4L883.7 1579.4L896.9 1580.6" stroke="#2750FF" stroke-width="1.5" fill="none"/>
<g fill="#2750FF"><circle cx="580.1" cy="1597.9" r="3.3"/><circle cx="593.3" cy="1597.9" r="3.3"/><circle cx="606.5" cy="1597.9" r="3.3"/><circle cx="619.7" cy="1597.9" r="3.3"/><circle cx="632.9" cy="1597.6" r="3.3"/><circle cx="646.1" cy="1597.2" r="3.3"/><circle cx="659.3" cy="1596.6" r="3.3"/><circle cx="672.5" cy="1595.8" r="3.3"/><circle cx="685.7" cy="1594.7" r="3.3"/><circle cx="698.9" cy="1593.4" r="3.3"/><circle cx="712.1" cy="1591.6" r="3.3"/><circle cx="725.3" cy="1589.7" r="3.3"/><circle cx="738.5" cy="1587.5" r="3.3"/><circle cx="751.7" cy="1585.4" r="3.3"/><circle cx="764.9" cy="1583.4" r="3.3"/><circle cx="778.1" cy="1581.7" r="3.3"/><circle cx="791.3" cy="1580.3" r="3.3"/><circle cx="804.5" cy="1579.3" r="3.3"/><circle cx="817.7" cy="1578.5" r="3.3"/><circle cx="830.9" cy="1577.9" r="3.3"/><circle cx="844.1" cy="1577.5" r="3.3"/><circle cx="857.3" cy="1577.7" r="3.3"/><circle cx="870.5" cy="1578.4" r="3.3"/><circle cx="883.7" cy="1579.4" r="3.3"/><circle cx="896.9" cy="1580.6" r="3.3"/></g>
<path d="M580.1 1597.9L593.3 1597.9L606.5 1597.9L619.7 1597.9L632.9 1597.6L646.1 1597.1L659.3 1596.4L672.5 1595.5L685.7 1594.3L698.9 1592.8L712.1 1590.9L725.3 1588.7L738.5 1586.3L751.7 1583.9L764.9 1581.6L778.1 1579.7L791.3 1578.2L804.5 1577.0L817.7 1576.1L830.9 1575.5L844.1 1575.0L857.3 1575.2L870.5 1576.0L883.7 1577.1L896.9 1578.5" stroke="#0433FF" stroke-width="1.5" fill="none"/>
<path d="M804.5 1574.3V1579.6" stroke="#0433FF" stroke-width="1.3" fill="none"/>
<g fill="#0433FF"><circle cx="580.1" cy="1597.9" r="3.3"/><circle cx="593.3" cy="1597.9" r="3.3"/><circle cx="606.5" cy="1597.9" r="3.3"/><circle cx="619.7" cy="1597.9" r="3.3"/><circle cx="632.9" cy="1597.6" r="3.3"/><circle cx="646.1" cy="1597.1" r="3.3"/><circle cx="659.3" cy="1596.4" r="3.3"/><circle cx="672.5" cy="1595.5" r="3.3"/><circle cx="685.7" cy="1594.3" r="3.3"/><circle cx="698.9" cy="1592.8" r="3.3"/><circle cx="712.1" cy="1590.9" r="3.3"/><circle cx="725.3" cy="1588.7" r="3.3"/><circle cx="738.5" cy="1586.3" r="3.3"/><circle cx="751.7" cy="1583.9" r="3.3"/><circle cx="764.9" cy="1581.6" r="3.3"/><circle cx="778.1" cy="1579.7" r="3.3"/><circle cx="791.3" cy="1578.2" r="3.3"/><circle cx="804.5" cy="1577.0" r="3.3"/><circle cx="817.7" cy="1576.1" r="3.3"/><circle cx="830.9" cy="1575.5" r="3.3"/><circle cx="844.1" cy="1575.0" r="3.3"/><circle cx="857.3" cy="1575.2" r="3.3"/><circle cx="870.5" cy="1576.0" r="3.3"/><circle cx="883.7" cy="1577.1" r="3.3"/><circle cx="896.9" cy="1578.5" r="3.3"/></g>
<path d="M580.1 1598.6L593.3 1598.6L606.5 1598.6L619.7 1598.6L632.9 1598.6L646.1 1598.6L659.3 1598.6L672.5 1598.6L685.7 1598.6L698.9 1598.6L712.1 1598.6L725.3 1598.6L738.5 1598.6L751.7 1598.6L764.9 1598.6L778.1 1598.6L791.3 1598.6L804.5 1598.6L817.7 1598.6L830.9 1598.6L844.1 1598.6L857.3 1598.6L870.5 1598.6L883.7 1598.6L896.9 1598.6" stroke="#E6E6E6" stroke-width="1.5" fill="none"/>
<g fill="#E6E6E6"><circle cx="580.1" cy="1598.6" r="3.3"/><circle cx="593.3" cy="1598.6" r="3.3"/><circle cx="606.5" cy="1598.6" r="3.3"/><circle cx="619.7" cy="1598.6" r="3.3"/><circle cx="632.9" cy="1598.6" r="3.3"/><circle cx="646.1" cy="1598.6" r="3.3"/><circle cx="659.3" cy="1598.6" r="3.3"/><circle cx="672.5" cy="1598.6" r="3.3"/><circle cx="685.7" cy="1598.6" r="3.3"/><circle cx="698.9" cy="1598.6" r="3.3"/><circle cx="712.1" cy="1598.6" r="3.3"/><circle cx="725.3" cy="1598.6" r="3.3"/><circle cx="738.5" cy="1598.6" r="3.3"/><circle cx="751.7" cy="1598.6" r="3.3"/><circle cx="764.9" cy="1598.6" r="3.3"/><circle cx="778.1" cy="1598.6" r="3.3"/><circle cx="791.3" cy="1598.6" r="3.3"/><circle cx="804.5" cy="1598.6" r="3.3"/><circle cx="817.7" cy="1598.6" r="3.3"/><circle cx="830.9" cy="1598.6" r="3.3"/><circle cx="844.1" cy="1598.6" r="3.3"/><circle cx="857.3" cy="1598.6" r="3.3"/><circle cx="870.5" cy="1598.6" r="3.3"/><circle cx="883.7" cy="1598.6" r="3.3"/><circle cx="896.9" cy="1598.6" r="3.3"/></g>
<path d="M610.0 1558.8h5.2V1583.3L619.3 1580.8L612.6 1595.8L605.9 1580.8L610.0 1583.3Z" fill="#000"/>
</g>
<g>
<text x="1138.8" y="1371.3" font-size="31.4" text-anchor="middle">mC-V74A BAK + BID</text>
<text x="1139.0" y="1403.8" font-size="31.4" text-anchor="middle">+ T/C</text>
<path d="M980.1 1386.8V1600.9" stroke="#000" stroke-width="2.4" fill="none"/>
<path d="M978.9 1599.7H1298.1" stroke="#000" stroke-width="2.4" fill="none"/>
<path d="M971.4 1599.7H980.1M971.4 1546.8H980.1M971.4 1493.8H980.1M971.4 1440.9H980.1M971.4 1388.0H980.1" stroke="#000" stroke-width="2.4" fill="none"/>
<path d="M980.1 1599.7v9.7M993.3 1599.7v5.6M1006.5 1599.7v5.6M1019.7 1599.7v5.6M1032.9 1599.7v5.6M1046.1 1599.7v5.6M1059.3 1599.7v5.6M1072.5 1599.7v5.6M1085.7 1599.7v5.6M1098.9 1599.7v5.6M1112.1 1599.7v9.7M1125.3 1599.7v5.6M1138.5 1599.7v5.6M1151.7 1599.7v5.6M1164.9 1599.7v5.6M1178.1 1599.7v5.6M1191.3 1599.7v5.6M1204.5 1599.7v5.6M1217.7 1599.7v5.6M1230.9 1599.7v5.6M1244.1 1599.7v9.7M1257.3 1599.7v5.6M1270.5 1599.7v5.6M1283.7 1599.7v5.6M1296.9 1599.7v5.6" stroke="#000" stroke-width="2.4" fill="none"/>
<path d="M980.1 1599.7H1296.9" stroke="#000" stroke-width="3.4" stroke-dasharray="9 5" fill="none"/>
<text x="967.4" y="1607.3" font-size="27.3" text-anchor="end">0</text>
<text x="967.4" y="1554.4" font-size="27.3" text-anchor="end">50</text>
<text x="967.4" y="1501.4" font-size="27.3" text-anchor="end">100</text>
<text x="967.4" y="1448.5" font-size="27.3" text-anchor="end">150</text>
<text x="967.4" y="1395.6" font-size="27.3" text-anchor="end">200</text>
<text x="980.5" y="1632.7" font-size="22" text-anchor="middle">0</text>
<text x="1112.5" y="1632.7" font-size="27.3" text-anchor="middle">20</text>
<text x="1244.5" y="1632.7" font-size="27.3" text-anchor="middle">40</text>
<text x="1139.0" y="1662.2" font-size="31.4" text-anchor="middle">Time (hr)</text>
<path d="M1015.9 1412.5H1039.3" stroke="#E6E6E6" stroke-width="1.6"/>
<circle cx="1027.6" cy="1412.5" r="3.2" fill="#E6E6E6"/>
<text x="1050.0" y="1420.1" font-size="21.7">0</text>
<path d="M1015.9 1430.2H1039.3" stroke="#FFCFC7" stroke-width="1.6"/>
<circle cx="1027.6" cy="1430.2" r="3.2" fill="#FFCFC7"/>
<text x="1050.0" y="1437.8" font-size="21.7">6.25</text>
<path d="M1015.9 1448.0H1039.3" stroke="#FFB5A8" stroke-width="1.6"/>
<circle cx="1027.6" cy="1448.0" r="3.2" fill="#FFB5A8"/>
<text x="1050.0" y="1455.6" font-size="21.7">12.5</text>
<path d="M1015.9 1465.7H1039.3" stroke="#FF9B8A" stroke-width="1.6"/>
<circle cx="1027.6" cy="1465.7" r="3.2" fill="#FF9B8A"/>
<text x="1050.0" y="1473.3" font-size="21.7">25</text>
<path d="M1015.9 1483.4H1039.3" stroke="#FF816B" stroke-width="1.6"/>
<circle cx="1027.6" cy="1483.4" r="3.2" fill="#FF816B"/>
<text x="1050.0" y="1491.0" font-size="21.7">50</text>
<path d="M1015.9 1501.2H1039.3" stroke="#FF6347" stroke-width="1.6"/>
<circle cx="1027.6" cy="1501.2" r="3.2" fill="#FF6347"/>
<text x="1050.0" y="1508.8" font-size="21.7">100</text>
<path d="M1015.9 1518.9H1039.3" stroke="#FF4424" stroke-width="1.6"/>
<circle cx="1027.6" cy="1518.9" r="3.2" fill="#FF4424"/>
<text x="1050.0" y="1526.5" font-size="21.7">500</text>
<path d="M1015.9 1536.6H1039.3" stroke="#FF2600" stroke-width="1.6"/>
<circle cx="1027.6" cy="1536.6" r="3.2" fill="#FF2600"/>
<text x="1050.0" y="1544.2" font-size="21.7">1000</text>
<path d="M980.1 1597.9L993.3 1597.9L1006.5 1597.9L1019.7 1597.8L1032.9 1597.5L1046.1 1596.9L1059.3 1595.9L1072.5 1594.9L1085.7 1593.8L1098.9 1592.6L1112.1 1591.6L1125.3 1590.8L1138.5 1590.2L1151.7 1589.8L1164.9 1589.6L1178.1 1589.4L1191.3 1589.3L1204.5 1589.2L1217.7 1589.2L1230.9 1589.1L1244.1 1589.1L1257.3 1589.1L1270.5 1589.1L1283.7 1589.1L1296.9 1589.1" stroke="#FFCFC7" stroke-width="1.5" fill="none"/>
<g fill="#FFCFC7"><circle cx="980.1" cy="1597.9" r="3.3"/><circle cx="993.3" cy="1597.9" r="3.3"/><circle cx="1006.5" cy="1597.9" r="3.3"/><circle cx="1019.7" cy="1597.8" r="3.3"/><circle cx="1032.9" cy="1597.5" r="3.3"/><circle cx="1046.1" cy="1596.9" r="3.3"/><circle cx="1059.3" cy="1595.9" r="3.3"/><circle cx="1072.5" cy="1594.9" r="3.3"/><circle cx="1085.7" cy="1593.8" r="3.3"/><circle cx="1098.9" cy="1592.6" r="3.3"/><circle cx="1112.1" cy="1591.6" r="3.3"/><circle cx="1125.3" cy="1590.8" r="3.3"/><circle cx="1138.5" cy="1590.2" r="3.3"/><circle cx="1151.7" cy="1589.8" r="3.3"/><circle cx="1164.9" cy="1589.6" r="3.3"/><circle cx="1178.1" cy="1589.4" r="3.3"/><circle cx="1191.3" cy="1589.3" r="3.3"/><circle cx="1204.5" cy="1589.2" r="3.3"/><circle cx="1217.7" cy="1589.2" r="3.3"/><circle cx="1230.9" cy="1589.1" r="3.3"/><circle cx="1244.1" cy="1589.1" r="3.3"/><circle cx="1257.3" cy="1589.1" r="3.3"/><circle cx="1270.5" cy="1589.1" r="3.3"/><circle cx="1283.7" cy="1589.1" r="3.3"/><circle cx="1296.9" cy="1589.1" r="3.3"/></g>
<path d="M980.1 1597.9L993.3 1597.9L1006.5 1597.9L1019.7 1597.8L1032.9 1597.2L1046.1 1596.2L1059.3 1594.8L1072.5 1593.2L1085.7 1591.2L1098.9 1588.7L1112.1 1585.8L1125.3 1582.4L1138.5 1578.7L1151.7 1575.0L1164.9 1571.3L1178.1 1568.0L1191.3 1565.0L1204.5 1562.5L1217.7 1560.5L1230.9 1558.9L1244.1 1557.7L1257.3 1556.8L1270.5 1556.1L1283.7 1555.6L1296.9 1555.2" stroke="#FFB5A8" stroke-width="1.5" fill="none"/>
<path d="M1244.1 1554.7V1560.8M1270.5 1552.6V1559.6M1296.9 1551.8V1558.7" stroke="#FFB5A8" stroke-width="1.3" fill="none"/>
<g fill="#FFB5A8"><circle cx="980.1" cy="1597.9" r="3.3"/><circle cx="993.3" cy="1597.9" r="3.3"/><circle cx="1006.5" cy="1597.9" r="3.3"/><circle cx="1019.7" cy="1597.8" r="3.3"/><circle cx="1032.9" cy="1597.2" r="3.3"/><circle cx="1046.1" cy="1596.2" r="3.3"/><circle cx="1059.3" cy="1594.8" r="3.3"/><circle cx="1072.5" cy="1593.2" r="3.3"/><circle cx="1085.7" cy="1591.2" r="3.3"/><circle cx="1098.9" cy="1588.7" r="3.3"/><circle cx="1112.1" cy="1585.8" r="3.3"/><circle cx="1125.3" cy="1582.4" r="3.3"/><circle cx="1138.5" cy="1578.7" r="3.3"/><circle cx="1151.7" cy="1575.0" r="3.3"/><circle cx="1164.9" cy="1571.3" r="3.3"/><circle cx="1178.1" cy="1568.0" r="3.3"/><circle cx="1191.3" cy="1565.0" r="3.3"/><circle cx="1204.5" cy="1562.5" r="3.3"/><circle cx="1217.7" cy="1560.5" r="3.3"/><circle cx="1230.9" cy="1558.9" r="3.3"/><circle cx="1244.1" cy="1557.7" r="3.3"/><circle cx="1257.3" cy="1556.8" r="3.3"/><circle cx="1270.5" cy="1556.1" r="3.3"/><circle cx="1283.7" cy="1555.6" r="3.3"/><circle cx="1296.9" cy="1555.2" r="3.3"/></g>
<path d="M980.1 1597.9L993.3 1597.9L1006.5 1597.9L1019.7 1597.7L1032.9 1596.9L1046.1 1595.3L1059.3 1593.1L1072.5 1590.7L1085.7 1587.5L1098.9 1583.5L1112.1 1578.6L1125.3 1573.0L1138.5 1566.7L1151.7 1560.0L1164.9 1553.4L1178.1 1547.1L1191.3 1541.4L1204.5 1536.6L1217.7 1532.6L1230.9 1529.4L1244.1 1526.9L1257.3 1525.0L1270.5 1523.6L1283.7 1522.6L1296.9 1521.8" stroke="#FF9B8A" stroke-width="1.5" fill="none"/>
<path d="M1191.3 1538.3V1544.6M1217.7 1528.6V1536.6M1244.1 1522.6V1531.2M1270.5 1519.6V1527.6M1296.9 1518.6V1525.0" stroke="#FF9B8A" stroke-width="1.3" fill="none"/>
<g fill="#FF9B8A"><circle cx="980.1" cy="1597.9" r="3.3"/><circle cx="993.3" cy="1597.9" r="3.3"/><circle cx="1006.5" cy="1597.9" r="3.3"/><circle cx="1019.7" cy="1597.7" r="3.3"/><circle cx="1032.9" cy="1596.9" r="3.3"/><circle cx="1046.1" cy="1595.3" r="3.3"/><circle cx="1059.3" cy="1593.1" r="3.3"/><circle cx="1072.5" cy="1590.7" r="3.3"/><circle cx="1085.7" cy="1587.5" r="3.3"/><circle cx="1098.9" cy="1583.5" r="3.3"/><circle cx="1112.1" cy="1578.6" r="3.3"/><circle cx="1125.3" cy="1573.0" r="3.3"/><circle cx="1138.5" cy="1566.7" r="3.3"/><circle cx="1151.7" cy="1560.0" r="3.3"/><circle cx="1164.9" cy="1553.4" r="3.3"/><circle cx="1178.1" cy="1547.1" r="3.3"/><circle cx="1191.3" cy="1541.4" r="3.3"/><circle cx="1204.5" cy="1536.6" r="3.3"/><circle cx="1217.7" cy="1532.6" r="3.3"/><circle cx="1230.9" cy="1529.4" r="3.3"/><circle cx="1244.1" cy="1526.9" r="3.3"/><circle cx="1257.3" cy="1525.0" r="3.3"/><circle cx="1270.5" cy="1523.6" r="3.3"/><circle cx="1283.7" cy="1522.6" r="3.3"/><circle cx="1296.9" cy="1521.8" r="3.3"/></g>
<path d="M980.1 1597.9L993.3 1597.9L1006.5 1597.9L1019.7 1597.6L1032.9 1596.3L1046.1 1594.0L1059.3 1591.0L1072.5 1587.8L1085.7 1583.9L1098.9 1579.1L1112.1 1573.4L1125.3 1566.7L1138.5 1559.1L1151.7 1550.7L1164.9 1541.7L1178.1 1532.4L1191.3 1523.1L1204.5 1514.1L1217.7 1505.7L1230.9 1498.1L1244.1 1491.4L1257.3 1485.7L1270.5 1480.9L1283.7 1476.9L1296.9 1473.7" stroke="#FF816B" stroke-width="1.5" fill="none"/>
<path d="M1283.7 1474.0V1479.9" stroke="#FF816B" stroke-width="1.3" fill="none"/>
<g fill="#FF816B"><circle cx="980.1" cy="1597.9" r="3.3"/><circle cx="993.3" cy="1597.9" r="3.3"/><circle cx="1006.5" cy="1597.9" r="3.3"/><circle cx="1019.7" cy="1597.6" r="3.3"/><circle cx="1032.9" cy="1596.3" r="3.3"/><circle cx="1046.1" cy="1594.0" r="3.3"/><circle cx="1059.3" cy="1591.0" r="3.3"/><circle cx="1072.5" cy="1587.8" r="3.3"/><circle cx="1085.7" cy="1583.9" r="3.3"/><circle cx="1098.9" cy="1579.1" r="3.3"/><circle cx="1112.1" cy="1573.4" r="3.3"/><circle cx="1125.3" cy="1566.7" r="3.3"/><circle cx="1138.5" cy="1559.1" r="3.3"/><circle cx="1151.7" cy="1550.7" r="3.3"/><circle cx="1164.9" cy="1541.7" r="3.3"/><circle cx="1178.1" cy="1532.4" r="3.3"/><circle cx="1191.3" cy="1523.1" r="3.3"/><circle cx="1204.5" cy="1514.1" r="3.3"/><circle cx="1217.7" cy="1505.7" r="3.3"/><circle cx="1230.9" cy="1498.1" r="3.3"/><circle cx="1244.1" cy="1491.4" r="3.3"/><circle cx="1257.3" cy="1485.7" r="3.3"/><circle cx="1270.5" cy="1480.9" r="3.3"/><circle cx="1283.7" cy="1476.9" r="3.3"/><circle cx="1296.9" cy="1473.7" r="3.3"/></g>
<path d="M980.1 1597.9L993.3 1597.9L1006.5 1597.9L1019.7 1597.5L1032.9 1595.6L1046.1 1592.4L1059.3 1588.3L1072.5 1584.1L1085.7 1578.9L1098.9 1572.8L1112.1 1565.7L1125.3 1557.6L1138.5 1548.5L1151.7 1538.7L1164.9 1528.3L1178.1 1517.6L1191.3 1507.1L1204.5 1497.0L1217.7 1487.5L1230.9 1478.9L1244.1 1471.2L1257.3 1464.6L1270.5 1459.0L1283.7 1454.3L1296.9 1450.5" stroke="#FF6347" stroke-width="1.5" fill="none"/>
<path d="M1138.5 1546.0V1551.0M1164.9 1525.1V1531.4M1191.3 1503.8V1510.4M1204.5 1493.9V1500.0M1217.7 1484.6V1490.3M1230.9 1474.1V1483.6M1257.3 1458.3V1471.0M1283.7 1447.1V1461.6" stroke="#FF6347" stroke-width="1.3" fill="none"/>
<g fill="#FF6347"><circle cx="980.1" cy="1597.9" r="3.3"/><circle cx="993.3" cy="1597.9" r="3.3"/><circle cx="1006.5" cy="1597.9" r="3.3"/><circle cx="1019.7" cy="1597.5" r="3.3"/><circle cx="1032.9" cy="1595.6" r="3.3"/><circle cx="1046.1" cy="1592.4" r="3.3"/><circle cx="1059.3" cy="1588.3" r="3.3"/><circle cx="1072.5" cy="1584.1" r="3.3"/><circle cx="1085.7" cy="1578.9" r="3.3"/><circle cx="1098.9" cy="1572.8" r="3.3"/><circle cx="1112.1" cy="1565.7" r="3.3"/><circle cx="1125.3" cy="1557.6" r="3.3"/><circle cx="1138.5" cy="1548.5" r="3.3"/><circle cx="1151.7" cy="1538.7" r="3.3"/><circle cx="1164.9" cy="1528.3" r="3.3"/><circle cx="1178.1" cy="1517.6" r="3.3"/><circle cx="1191.3" cy="1507.1" r="3.3"/><circle cx="1204.5" cy="1497.0" r="3.3"/><circle cx="1217.7" cy="1487.5" r="3.3"/><circle cx="1230.9" cy="1478.9" r="3.3"/><circle cx="1244.1" cy="1471.2" r="3.3"/><circle cx="1257.3" cy="1464.6" r="3.3"/><circle cx="1270.5" cy="1459.0" r="3.3"/><circle cx="1283.7" cy="1454.3" r="3.3"/><circle cx="1296.9" cy="1450.5" r="3.3"/></g>
<path d="M980.1 1597.9L993.3 1597.9L1006.5 1597.9L1019.7 1597.5L1032.9 1595.4L1046.1 1591.9L1059.3 1587.7L1072.5 1583.2L1085.7 1577.8L1098.9 1571.5L1112.1 1564.0L1125.3 1555.5L1138.5 1545.9L1151.7 1535.3L1164.9 1523.9L1178.1 1512.0L1191.3 1499.8L1204.5 1487.7L1217.7 1476.0L1230.9 1465.0L1244.1 1454.8L1257.3 1445.8L1270.5 1437.8L1283.7 1430.9L1296.9 1425.0" stroke="#FF4424" stroke-width="1.5" fill="none"/>
<path d="M1112.1 1561.2V1566.9M1138.5 1542.4V1549.4M1151.7 1532.0V1538.6M1164.9 1520.4V1527.5M1178.1 1505.9V1518.1M1191.3 1496.7V1502.8M1204.5 1478.3V1497.0M1230.9 1452.8V1477.1M1244.1 1452.2V1457.5M1257.3 1432.4V1459.1M1270.5 1433.5V1442.0M1283.7 1418.2V1443.6M1296.9 1417.9V1432.2" stroke="#FF4424" stroke-width="1.3" fill="none"/>
<g fill="#FF4424"><circle cx="980.1" cy="1597.9" r="3.3"/><circle cx="993.3" cy="1597.9" r="3.3"/><circle cx="1006.5" cy="1597.9" r="3.3"/><circle cx="1019.7" cy="1597.5" r="3.3"/><circle cx="1032.9" cy="1595.4" r="3.3"/><circle cx="1046.1" cy="1591.9" r="3.3"/><circle cx="1059.3" cy="1587.7" r="3.3"/><circle cx="1072.5" cy="1583.2" r="3.3"/><circle cx="1085.7" cy="1577.8" r="3.3"/><circle cx="1098.9" cy="1571.5" r="3.3"/><circle cx="1112.1" cy="1564.0" r="3.3"/><circle cx="1125.3" cy="1555.5" r="3.3"/><circle cx="1138.5" cy="1545.9" r="3.3"/><circle cx="1151.7" cy="1535.3" r="3.3"/><circle cx="1164.9" cy="1523.9" r="3.3"/><circle cx="1178.1" cy="1512.0" r="3.3"/><circle cx="1191.3" cy="1499.8" r="3.3"/><circle cx="1204.5" cy="1487.7" r="3.3"/><circle cx="1217.7" cy="1476.0" r="3.3"/><circle cx="1230.9" cy="1465.0" r="3.3"/><circle cx="1244.1" cy="1454.8" r="3.3"/><circle cx="1257.3" cy="1445.8" r="3.3"/><circle cx="1270.5" cy="1437.8" r="3.3"/><circle cx="1283.7" cy="1430.9" r="3.3"/><circle cx="1296.9" cy="1425.0" r="3.3"/></g>
<path d="M980.1 1597.9L993.3 1597.9L1006.5 1597.9L1019.7 1597.5L1032.9 1595.3L1046.1 1591.8L1059.3 1587.4L1072.5 1582.8L1085.7 1577.3L1098.9 1570.9L1112.1 1563.3L1125.3 1554.7L1138.5 1545.1L1151.7 1534.5L1164.9 1523.2L1178.1 1511.5L1191.3 1499.6L1204.5 1487.8L1217.7 1476.5L1230.9 1465.9L1244.1 1456.3L1257.3 1447.7L1270.5 1440.2L1283.7 1433.7L1296.9 1428.2" stroke="#FF2600" stroke-width="1.5" fill="none"/>
<path d="M1178.1 1508.0V1515.0M1204.5 1483.5V1492.1M1230.9 1461.4V1470.5M1244.1 1453.7V1458.9M1257.3 1443.7V1451.7M1270.5 1436.0V1444.3M1283.7 1430.7V1436.7M1296.9 1422.5V1434.0" stroke="#FF2600" stroke-width="1.3" fill="none"/>
<g fill="#FF2600"><circle cx="980.1" cy="1597.9" r="3.3"/><circle cx="993.3" cy="1597.9" r="3.3"/><circle cx="1006.5" cy="1597.9" r="3.3"/><circle cx="1019.7" cy="1597.5" r="3.3"/><circle cx="1032.9" cy="1595.3" r="3.3"/><circle cx="1046.1" cy="1591.8" r="3.3"/><circle cx="1059.3" cy="1587.4" r="3.3"/><circle cx="1072.5" cy="1582.8" r="3.3"/><circle cx="1085.7" cy="1577.3" r="3.3"/><circle cx="1098.9" cy="1570.9" r="3.3"/><circle cx="1112.1" cy="1563.3" r="3.3"/><circle cx="1125.3" cy="1554.7" r="3.3"/><circle cx="1138.5" cy="1545.1" r="3.3"/><circle cx="1151.7" cy="1534.5" r="3.3"/><circle cx="1164.9" cy="1523.2" r="3.3"/><circle cx="1178.1" cy="1511.5" r="3.3"/><circle cx="1191.3" cy="1499.6" r="3.3"/><circle cx="1204.5" cy="1487.8" r="3.3"/><circle cx="1217.7" cy="1476.5" r="3.3"/><circle cx="1230.9" cy="1465.9" r="3.3"/><circle cx="1244.1" cy="1456.3" r="3.3"/><circle cx="1257.3" cy="1447.7" r="3.3"/><circle cx="1270.5" cy="1440.2" r="3.3"/><circle cx="1283.7" cy="1433.7" r="3.3"/><circle cx="1296.9" cy="1428.2" r="3.3"/></g>
<path d="M980.1 1598.3L993.3 1598.3L1006.5 1598.3L1019.7 1598.3L1032.9 1598.2L1046.1 1598.2L1059.3 1598.2L1072.5 1598.1L1085.7 1598.1L1098.9 1598.0L1112.1 1597.9L1125.3 1597.9L1138.5 1597.8L1151.7 1597.8L1164.9 1597.7L1178.1 1597.7L1191.3 1597.7L1204.5 1597.6L1217.7 1597.6L1230.9 1597.6L1244.1 1597.6L1257.3 1597.6L1270.5 1597.6L1283.7 1597.6L1296.9 1597.6" stroke="#E6E6E6" stroke-width="1.5" fill="none"/>
<g fill="#E6E6E6"><circle cx="980.1" cy="1598.3" r="3.3"/><circle cx="993.3" cy="1598.3" r="3.3"/><circle cx="1006.5" cy="1598.3" r="3.3"/><circle cx="1019.7" cy="1598.3" r="3.3"/><circle cx="1032.9" cy="1598.2" r="3.3"/><circle cx="1046.1" cy="1598.2" r="3.3"/><circle cx="1059.3" cy="1598.2" r="3.3"/><circle cx="1072.5" cy="1598.1" r="3.3"/><circle cx="1085.7" cy="1598.1" r="3.3"/><circle cx="1098.9" cy="1598.0" r="3.3"/><circle cx="1112.1" cy="1597.9" r="3.3"/><circle cx="1125.3" cy="1597.9" r="3.3"/><circle cx="1138.5" cy="1597.8" r="3.3"/><circle cx="1151.7" cy="1597.8" r="3.3"/><circle cx="1164.9" cy="1597.7" r="3.3"/><circle cx="1178.1" cy="1597.7" r="3.3"/><circle cx="1191.3" cy="1597.7" r="3.3"/><circle cx="1204.5" cy="1597.6" r="3.3"/><circle cx="1217.7" cy="1597.6" r="3.3"/><circle cx="1230.9" cy="1597.6" r="3.3"/><circle cx="1244.1" cy="1597.6" r="3.3"/><circle cx="1257.3" cy="1597.6" r="3.3"/><circle cx="1270.5" cy="1597.6" r="3.3"/><circle cx="1283.7" cy="1597.6" r="3.3"/><circle cx="1296.9" cy="1597.6" r="3.3"/></g>
<path d="M1010.8 1558.8h5.2V1583.3L1020.1 1580.8L1013.4 1595.8L1006.7 1580.8L1010.8 1583.3Z" fill="#FC0024"/>
</g>
<g>
<text x="1538.7" y="1371.3" font-size="31.4" text-anchor="middle">mC-D83A BAK + BID</text>
<text x="1539.0" y="1403.8" font-size="31.4" text-anchor="middle">+ T/C</text>
<path d="M1380.2 1386.8V1600.9" stroke="#000" stroke-width="2.4" fill="none"/>
<path d="M1379.0 1599.7H1698.2" stroke="#000" stroke-width="2.4" fill="none"/>
<path d="M1371.5 1599.7H1380.2M1371.5 1546.8H1380.2M1371.5 1493.8H1380.2M1371.5 1440.9H1380.2M1371.5 1388.0H1380.2" stroke="#000" stroke-width="2.4" fill="none"/>
<path d="M1380.2 1599.7v9.7M1393.4 1599.7v5.6M1406.6 1599.7v5.6M1419.8 1599.7v5.6M1433.0 1599.7v5.6M1446.2 1599.7v5.6M1459.4 1599.7v5.6M1472.6 1599.7v5.6M1485.8 1599.7v5.6M1499.0 1599.7v5.6M1512.2 1599.7v9.7M1525.4 1599.7v5.6M1538.6 1599.7v5.6M1551.8 1599.7v5.6M1565.0 1599.7v5.6M1578.2 1599.7v5.6M1591.4 1599.7v5.6M1604.6 1599.7v5.6M1617.8 1599.7v5.6M1631.0 1599.7v5.6M1644.2 1599.7v9.7M1657.4 1599.7v5.6M1670.6 1599.7v5.6M1683.8 1599.7v5.6M1697.0 1599.7v5.6" stroke="#000" stroke-width="2.4" fill="none"/>
<path d="M1380.2 1599.7H1697.0" stroke="#000" stroke-width="3.4" stroke-dasharray="9 5" fill="none"/>
<text x="1367.5" y="1607.3" font-size="27.3" text-anchor="end">0</text>
<text x="1367.5" y="1554.4" font-size="27.3" text-anchor="end">50</text>
<text x="1367.5" y="1501.4" font-size="27.3" text-anchor="end">100</text>
<text x="1367.5" y="1448.5" font-size="27.3" text-anchor="end">150</text>
<text x="1367.5" y="1395.6" font-size="27.3" text-anchor="end">200</text>
<text x="1380.6" y="1632.7" font-size="27.3" text-anchor="middle">0</text>
<text x="1512.6" y="1632.7" font-size="27.3" text-anchor="middle">20</text>
<text x="1644.6" y="1632.7" font-size="27.3" text-anchor="middle">40</text>
<text x="1539.0" y="1662.2" font-size="31.4" text-anchor="middle">Time (hr)</text>
<path d="M1429.0 1414.2H1452.7" stroke="#E6E6E6" stroke-width="1.6"/>
<circle cx="1440.8" cy="1414.2" r="3.2" fill="#E6E6E6"/>
<text x="1463.4" y="1421.8" font-size="21.7">0</text>
<path d="M1429.0 1431.7H1452.7" stroke="#C8D2FF" stroke-width="1.6"/>
<circle cx="1440.8" cy="1431.7" r="3.2" fill="#C8D2FF"/>
<text x="1463.4" y="1439.3" font-size="21.7">6.25</text>
<path d="M1429.0 1449.2H1452.7" stroke="#AABAFF" stroke-width="1.6"/>
<circle cx="1440.8" cy="1449.2" r="3.2" fill="#AABAFF"/>
<text x="1463.4" y="1456.8" font-size="21.7">12.5</text>
<path d="M1429.0 1466.7H1452.7" stroke="#8CA1FF" stroke-width="1.6"/>
<circle cx="1440.8" cy="1466.7" r="3.2" fill="#8CA1FF"/>
<text x="1463.4" y="1474.3" font-size="21.7">25</text>
<path d="M1429.0 1484.2H1452.7" stroke="#6D89FF" stroke-width="1.6"/>
<circle cx="1440.8" cy="1484.2" r="3.2" fill="#6D89FF"/>
<text x="1463.4" y="1491.8" font-size="21.7">50</text>
<path d="M1429.0 1501.7H1452.7" stroke="#4A6CFF" stroke-width="1.6"/>
<circle cx="1440.8" cy="1501.7" r="3.2" fill="#4A6CFF"/>
<text x="1463.4" y="1509.2" font-size="21.7">100</text>
<path d="M1429.0 1519.1H1452.7" stroke="#2750FF" stroke-width="1.6"/>
<circle cx="1440.8" cy="1519.1" r="3.2" fill="#2750FF"/>
<text x="1463.4" y="1526.7" font-size="21.7">500</text>
<path d="M1429.0 1536.6H1452.7" stroke="#0433FF" stroke-width="1.6"/>
<circle cx="1440.8" cy="1536.6" r="3.2" fill="#0433FF"/>
<text x="1463.4" y="1544.2" font-size="21.7">1000</text>
<path d="M1380.2 1597.9L1393.4 1597.9L1406.6 1597.9L1419.8 1597.9L1433.0 1597.9L1446.2 1597.8L1459.4 1597.7L1472.6 1597.6L1485.8 1597.5L1499.0 1597.3L1512.2 1597.1L1525.4 1596.9L1538.6 1596.7L1551.8 1596.5L1565.0 1596.3L1578.2 1596.1L1591.4 1596.0L1604.6 1595.8L1617.8 1595.7L1631.0 1595.6L1644.2 1595.6L1657.4 1595.5L1670.6 1595.5L1683.8 1595.5L1697.0 1595.5" stroke="#C8D2FF" stroke-width="1.5" fill="none"/>
<g fill="#C8D2FF"><circle cx="1380.2" cy="1597.9" r="3.3"/><circle cx="1393.4" cy="1597.9" r="3.3"/><circle cx="1406.6" cy="1597.9" r="3.3"/><circle cx="1419.8" cy="1597.9" r="3.3"/><circle cx="1433.0" cy="1597.9" r="3.3"/><circle cx="1446.2" cy="1597.8" r="3.3"/><circle cx="1459.4" cy="1597.7" r="3.3"/><circle cx="1472.6" cy="1597.6" r="3.3"/><circle cx="1485.8" cy="1597.5" r="3.3"/><circle cx="1499.0" cy="1597.3" r="3.3"/><circle cx="1512.2" cy="1597.1" r="3.3"/><circle cx="1525.4" cy="1596.9" r="3.3"/><circle cx="1538.6" cy="1596.7" r="3.3"/><circle cx="1551.8" cy="1596.5" r="3.3"/><circle cx="1565.0" cy="1596.3" r="3.3"/><circle cx="1578.2" cy="1596.1" r="3.3"/><circle cx="1591.4" cy="1596.0" r="3.3"/><circle cx="1604.6" cy="1595.8" r="3.3"/><circle cx="1617.8" cy="1595.7" r="3.3"/><circle cx="1631.0" cy="1595.6" r="3.3"/><circle cx="1644.2" cy="1595.6" r="3.3"/><circle cx="1657.4" cy="1595.5" r="3.3"/><circle cx="1670.6" cy="1595.5" r="3.3"/><circle cx="1683.8" cy="1595.5" r="3.3"/><circle cx="1697.0" cy="1595.5" r="3.3"/></g>
<path d="M1380.2 1597.9L1393.4 1597.9L1406.6 1597.9L1419.8 1597.9L1433.0 1597.8L1446.2 1597.6L1459.4 1597.4L1472.6 1597.2L1485.8 1596.8L1499.0 1596.4L1512.2 1595.9L1525.4 1595.4L1538.6 1594.7L1551.8 1594.1L1565.0 1593.4L1578.2 1592.7L1591.4 1592.2L1604.6 1591.7L1617.8 1591.3L1631.0 1590.9L1644.2 1590.7L1657.4 1590.5L1670.6 1590.4L1683.8 1590.3L1697.0 1590.2" stroke="#AABAFF" stroke-width="1.5" fill="none"/>
<g fill="#AABAFF"><circle cx="1380.2" cy="1597.9" r="3.3"/><circle cx="1393.4" cy="1597.9" r="3.3"/><circle cx="1406.6" cy="1597.9" r="3.3"/><circle cx="1419.8" cy="1597.9" r="3.3"/><circle cx="1433.0" cy="1597.8" r="3.3"/><circle cx="1446.2" cy="1597.6" r="3.3"/><circle cx="1459.4" cy="1597.4" r="3.3"/><circle cx="1472.6" cy="1597.2" r="3.3"/><circle cx="1485.8" cy="1596.8" r="3.3"/><circle cx="1499.0" cy="1596.4" r="3.3"/><circle cx="1512.2" cy="1595.9" r="3.3"/><circle cx="1525.4" cy="1595.4" r="3.3"/><circle cx="1538.6" cy="1594.7" r="3.3"/><circle cx="1551.8" cy="1594.1" r="3.3"/><circle cx="1565.0" cy="1593.4" r="3.3"/><circle cx="1578.2" cy="1592.7" r="3.3"/><circle cx="1591.4" cy="1592.2" r="3.3"/><circle cx="1604.6" cy="1591.7" r="3.3"/><circle cx="1617.8" cy="1591.3" r="3.3"/><circle cx="1631.0" cy="1590.9" r="3.3"/><circle cx="1644.2" cy="1590.7" r="3.3"/><circle cx="1657.4" cy="1590.5" r="3.3"/><circle cx="1670.6" cy="1590.4" r="3.3"/><circle cx="1683.8" cy="1590.3" r="3.3"/><circle cx="1697.0" cy="1590.2" r="3.3"/></g>
<path d="M1380.2 1597.9L1393.4 1597.9L1406.6 1597.9L1419.8 1597.9L1433.0 1597.7L1446.2 1597.3L1459.4 1596.9L1472.6 1596.4L1485.8 1595.8L1499.0 1595.0L1512.2 1594.0L1525.4 1592.8L1538.6 1591.5L1551.8 1590.1L1565.0 1588.6L1578.2 1587.1L1591.4 1585.6L1604.6 1584.3L1617.8 1583.2L1631.0 1582.2L1644.2 1581.4L1657.4 1580.8L1670.6 1580.3L1683.8 1579.9L1697.0 1579.6" stroke="#8CA1FF" stroke-width="1.5" fill="none"/>
<g fill="#8CA1FF"><circle cx="1380.2" cy="1597.9" r="3.3"/><circle cx="1393.4" cy="1597.9" r="3.3"/><circle cx="1406.6" cy="1597.9" r="3.3"/><circle cx="1419.8" cy="1597.9" r="3.3"/><circle cx="1433.0" cy="1597.7" r="3.3"/><circle cx="1446.2" cy="1597.3" r="3.3"/><circle cx="1459.4" cy="1596.9" r="3.3"/><circle cx="1472.6" cy="1596.4" r="3.3"/><circle cx="1485.8" cy="1595.8" r="3.3"/><circle cx="1499.0" cy="1595.0" r="3.3"/><circle cx="1512.2" cy="1594.0" r="3.3"/><circle cx="1525.4" cy="1592.8" r="3.3"/><circle cx="1538.6" cy="1591.5" r="3.3"/><circle cx="1551.8" cy="1590.1" r="3.3"/><circle cx="1565.0" cy="1588.6" r="3.3"/><circle cx="1578.2" cy="1587.1" r="3.3"/><circle cx="1591.4" cy="1585.6" r="3.3"/><circle cx="1604.6" cy="1584.3" r="3.3"/><circle cx="1617.8" cy="1583.2" r="3.3"/><circle cx="1631.0" cy="1582.2" r="3.3"/><circle cx="1644.2" cy="1581.4" r="3.3"/><circle cx="1657.4" cy="1580.8" r="3.3"/><circle cx="1670.6" cy="1580.3" r="3.3"/><circle cx="1683.8" cy="1579.9" r="3.3"/><circle cx="1697.0" cy="1579.6" r="3.3"/></g>
<path d="M1380.2 1597.9L1393.4 1597.9L1406.6 1597.9L1419.8 1597.8L1433.0 1597.3L1446.2 1596.5L1459.4 1595.4L1472.6 1594.3L1485.8 1592.9L1499.0 1591.3L1512.2 1589.4L1525.4 1587.2L1538.6 1584.8L1551.8 1582.1L1565.0 1579.3L1578.2 1576.4L1591.4 1573.5L1604.6 1570.6L1617.8 1568.0L1631.0 1565.5L1644.2 1563.3L1657.4 1561.5L1670.6 1559.8L1683.8 1558.5L1697.0 1557.4" stroke="#6D89FF" stroke-width="1.5" fill="none"/>
<g fill="#6D89FF"><circle cx="1380.2" cy="1597.9" r="3.3"/><circle cx="1393.4" cy="1597.9" r="3.3"/><circle cx="1406.6" cy="1597.9" r="3.3"/><circle cx="1419.8" cy="1597.8" r="3.3"/><circle cx="1433.0" cy="1597.3" r="3.3"/><circle cx="1446.2" cy="1596.5" r="3.3"/><circle cx="1459.4" cy="1595.4" r="3.3"/><circle cx="1472.6" cy="1594.3" r="3.3"/><circle cx="1485.8" cy="1592.9" r="3.3"/><circle cx="1499.0" cy="1591.3" r="3.3"/><circle cx="1512.2" cy="1589.4" r="3.3"/><circle cx="1525.4" cy="1587.2" r="3.3"/><circle cx="1538.6" cy="1584.8" r="3.3"/><circle cx="1551.8" cy="1582.1" r="3.3"/><circle cx="1565.0" cy="1579.3" r="3.3"/><circle cx="1578.2" cy="1576.4" r="3.3"/><circle cx="1591.4" cy="1573.5" r="3.3"/><circle cx="1604.6" cy="1570.6" r="3.3"/><circle cx="1617.8" cy="1568.0" r="3.3"/><circle cx="1631.0" cy="1565.5" r="3.3"/><circle cx="1644.2" cy="1563.3" r="3.3"/><circle cx="1657.4" cy="1561.5" r="3.3"/><circle cx="1670.6" cy="1559.8" r="3.3"/><circle cx="1683.8" cy="1558.5" r="3.3"/><circle cx="1697.0" cy="1557.4" r="3.3"/></g>
<path d="M1380.2 1597.9L1393.4 1597.9L1406.6 1597.9L1419.8 1597.8L1433.0 1597.2L1446.2 1596.2L1459.4 1595.0L1472.6 1593.7L1485.8 1592.2L1499.0 1590.4L1512.2 1588.3L1525.4 1585.8L1538.6 1583.0L1551.8 1580.0L1565.0 1576.6L1578.2 1573.1L1591.4 1569.5L1604.6 1565.9L1617.8 1562.4L1631.0 1559.0L1644.2 1555.9L1657.4 1553.2L1670.6 1550.7L1683.8 1548.6L1697.0 1546.8" stroke="#4A6CFF" stroke-width="1.5" fill="none"/>
<path d="M1591.4 1566.9V1572.1M1631.0 1555.2V1562.9M1657.4 1547.9V1558.4M1683.8 1542.5V1554.7" stroke="#4A6CFF" stroke-width="1.3" fill="none"/>
<g fill="#4A6CFF"><circle cx="1380.2" cy="1597.9" r="3.3"/><circle cx="1393.4" cy="1597.9" r="3.3"/><circle cx="1406.6" cy="1597.9" r="3.3"/><circle cx="1419.8" cy="1597.8" r="3.3"/><circle cx="1433.0" cy="1597.2" r="3.3"/><circle cx="1446.2" cy="1596.2" r="3.3"/><circle cx="1459.4" cy="1595.0" r="3.3"/><circle cx="1472.6" cy="1593.7" r="3.3"/><circle cx="1485.8" cy="1592.2" r="3.3"/><circle cx="1499.0" cy="1590.4" r="3.3"/><circle cx="1512.2" cy="1588.3" r="3.3"/><circle cx="1525.4" cy="1585.8" r="3.3"/><circle cx="1538.6" cy="1583.0" r="3.3"/><circle cx="1551.8" cy="1580.0" r="3.3"/><circle cx="1565.0" cy="1576.6" r="3.3"/><circle cx="1578.2" cy="1573.1" r="3.3"/><circle cx="1591.4" cy="1569.5" r="3.3"/><circle cx="1604.6" cy="1565.9" r="3.3"/><circle cx="1617.8" cy="1562.4" r="3.3"/><circle cx="1631.0" cy="1559.0" r="3.3"/><circle cx="1644.2" cy="1555.9" r="3.3"/><circle cx="1657.4" cy="1553.2" r="3.3"/><circle cx="1670.6" cy="1550.7" r="3.3"/><circle cx="1683.8" cy="1548.6" r="3.3"/><circle cx="1697.0" cy="1546.8" r="3.3"/></g>
<path d="M1380.2 1597.9L1393.4 1597.9L1406.6 1597.9L1419.8 1597.7L1433.0 1597.0L1446.2 1595.8L1459.4 1594.3L1472.6 1592.7L1485.8 1590.8L1499.0 1588.6L1512.2 1586.0L1525.4 1583.0L1538.6 1579.5L1551.8 1575.7L1565.0 1571.5L1578.2 1567.0L1591.4 1562.2L1604.6 1557.4L1617.8 1552.5L1631.0 1547.8L1644.2 1543.3L1657.4 1539.1L1670.6 1535.2L1683.8 1531.8L1697.0 1528.8" stroke="#2750FF" stroke-width="1.5" fill="none"/>
<g fill="#2750FF"><circle cx="1380.2" cy="1597.9" r="3.3"/><circle cx="1393.4" cy="1597.9" r="3.3"/><circle cx="1406.6" cy="1597.9" r="3.3"/><circle cx="1419.8" cy="1597.7" r="3.3"/><circle cx="1433.0" cy="1597.0" r="3.3"/><circle cx="1446.2" cy="1595.8" r="3.3"/><circle cx="1459.4" cy="1594.3" r="3.3"/><circle cx="1472.6" cy="1592.7" r="3.3"/><circle cx="1485.8" cy="1590.8" r="3.3"/><circle cx="1499.0" cy="1588.6" r="3.3"/><circle cx="1512.2" cy="1586.0" r="3.3"/><circle cx="1525.4" cy="1583.0" r="3.3"/><circle cx="1538.6" cy="1579.5" r="3.3"/><circle cx="1551.8" cy="1575.7" r="3.3"/><circle cx="1565.0" cy="1571.5" r="3.3"/><circle cx="1578.2" cy="1567.0" r="3.3"/><circle cx="1591.4" cy="1562.2" r="3.3"/><circle cx="1604.6" cy="1557.4" r="3.3"/><circle cx="1617.8" cy="1552.5" r="3.3"/><circle cx="1631.0" cy="1547.8" r="3.3"/><circle cx="1644.2" cy="1543.3" r="3.3"/><circle cx="1657.4" cy="1539.1" r="3.3"/><circle cx="1670.6" cy="1535.2" r="3.3"/><circle cx="1683.8" cy="1531.8" r="3.3"/><circle cx="1697.0" cy="1528.8" r="3.3"/></g>
<path d="M1380.2 1597.9L1393.4 1597.9L1406.6 1597.9L1419.8 1597.7L1433.0 1597.0L1446.2 1595.6L1459.4 1594.1L1472.6 1592.4L1485.8 1590.5L1499.0 1588.1L1512.2 1585.5L1525.4 1582.4L1538.6 1578.9L1551.8 1575.1L1565.0 1570.9L1578.2 1566.5L1591.4 1561.9L1604.6 1557.2L1617.8 1552.6L1631.0 1548.2L1644.2 1544.0L1657.4 1540.1L1670.6 1536.7L1683.8 1533.6L1697.0 1530.9" stroke="#0433FF" stroke-width="1.5" fill="none"/>
<path d="M1578.2 1563.1V1569.8M1604.6 1553.1V1561.3M1631.0 1543.8V1552.5M1657.4 1536.2V1544.0M1670.6 1532.6V1540.7M1683.8 1530.6V1536.6M1697.0 1525.1V1536.7" stroke="#0433FF" stroke-width="1.3" fill="none"/>
<g fill="#0433FF"><circle cx="1380.2" cy="1597.9" r="3.3"/><circle cx="1393.4" cy="1597.9" r="3.3"/><circle cx="1406.6" cy="1597.9" r="3.3"/><circle cx="1419.8" cy="1597.7" r="3.3"/><circle cx="1433.0" cy="1597.0" r="3.3"/><circle cx="1446.2" cy="1595.6" r="3.3"/><circle cx="1459.4" cy="1594.1" r="3.3"/><circle cx="1472.6" cy="1592.4" r="3.3"/><circle cx="1485.8" cy="1590.5" r="3.3"/><circle cx="1499.0" cy="1588.1" r="3.3"/><circle cx="1512.2" cy="1585.5" r="3.3"/><circle cx="1525.4" cy="1582.4" r="3.3"/><circle cx="1538.6" cy="1578.9" r="3.3"/><circle cx="1551.8" cy="1575.1" r="3.3"/><circle cx="1565.0" cy="1570.9" r="3.3"/><circle cx="1578.2" cy="1566.5" r="3.3"/><circle cx="1591.4" cy="1561.9" r="3.3"/><circle cx="1604.6" cy="1557.2" r="3.3"/><circle cx="1617.8" cy="1552.6" r="3.3"/><circle cx="1631.0" cy="1548.2" r="3.3"/><circle cx="1644.2" cy="1544.0" r="3.3"/><circle cx="1657.4" cy="1540.1" r="3.3"/><circle cx="1670.6" cy="1536.7" r="3.3"/><circle cx="1683.8" cy="1533.6" r="3.3"/><circle cx="1697.0" cy="1530.9" r="3.3"/></g>
<path d="M1380.2 1598.6L1393.4 1598.6L1406.6 1598.6L1419.8 1598.6L1433.0 1598.6L1446.2 1598.6L1459.4 1598.6L1472.6 1598.6L1485.8 1598.6L1499.0 1598.6L1512.2 1598.6L1525.4 1598.6L1538.6 1598.6L1551.8 1598.6L1565.0 1598.6L1578.2 1598.6L1591.4 1598.6L1604.6 1598.6L1617.8 1598.6L1631.0 1598.6L1644.2 1598.6L1657.4 1598.6L1670.6 1598.6L1683.8 1598.6L1697.0 1598.6" stroke="#E6E6E6" stroke-width="1.5" fill="none"/>
<g fill="#E6E6E6"><circle cx="1380.2" cy="1598.6" r="3.3"/><circle cx="1393.4" cy="1598.6" r="3.3"/><circle cx="1406.6" cy="1598.6" r="3.3"/><circle cx="1419.8" cy="1598.6" r="3.3"/><circle cx="1433.0" cy="1598.6" r="3.3"/><circle cx="1446.2" cy="1598.6" r="3.3"/><circle cx="1459.4" cy="1598.6" r="3.3"/><circle cx="1472.6" cy="1598.6" r="3.3"/><circle cx="1485.8" cy="1598.6" r="3.3"/><circle cx="1499.0" cy="1598.6" r="3.3"/><circle cx="1512.2" cy="1598.6" r="3.3"/><circle cx="1525.4" cy="1598.6" r="3.3"/><circle cx="1538.6" cy="1598.6" r="3.3"/><circle cx="1551.8" cy="1598.6" r="3.3"/><circle cx="1565.0" cy="1598.6" r="3.3"/><circle cx="1578.2" cy="1598.6" r="3.3"/><circle cx="1591.4" cy="1598.6" r="3.3"/><circle cx="1604.6" cy="1598.6" r="3.3"/><circle cx="1617.8" cy="1598.6" r="3.3"/><circle cx="1631.0" cy="1598.6" r="3.3"/><circle cx="1644.2" cy="1598.6" r="3.3"/><circle cx="1657.4" cy="1598.6" r="3.3"/><circle cx="1670.6" cy="1598.6" r="3.3"/><circle cx="1683.8" cy="1598.6" r="3.3"/><circle cx="1697.0" cy="1598.6" r="3.3"/></g>
<path d="M1410.3 1558.8h5.2V1583.3L1419.6 1580.8L1412.9 1595.8L1406.2 1580.8L1410.3 1583.3Z" fill="#FC0024"/>
</g>
<g>
<text x="338.2" y="1716.5" font-size="31.4" text-anchor="middle">mC-V74A BAK + BID</text>
<text x="338.2" y="1748.1" font-size="31.4" text-anchor="middle">+ qVD</text>
<path d="M180.2 1734.5V1948.0" stroke="#000" stroke-width="2.4" fill="none"/>
<path d="M179.0 1946.8H498.2" stroke="#000" stroke-width="2.4" fill="none"/>
<path d="M171.5 1946.8H180.2M171.5 1894.0H180.2M171.5 1841.2H180.2M171.5 1788.5H180.2M171.5 1735.7H180.2" stroke="#000" stroke-width="2.4" fill="none"/>
<path d="M180.2 1946.8v9.7M193.4 1946.8v5.6M206.6 1946.8v5.6M219.8 1946.8v5.6M233.0 1946.8v5.6M246.2 1946.8v5.6M259.4 1946.8v5.6M272.6 1946.8v5.6M285.8 1946.8v5.6M299.0 1946.8v5.6M312.2 1946.8v9.7M325.4 1946.8v5.6M338.6 1946.8v5.6M351.8 1946.8v5.6M365.0 1946.8v5.6M378.2 1946.8v5.6M391.4 1946.8v5.6M404.6 1946.8v5.6M417.8 1946.8v5.6M431.0 1946.8v5.6M444.2 1946.8v9.7M457.4 1946.8v5.6M470.6 1946.8v5.6M483.8 1946.8v5.6M497.0 1946.8v5.6" stroke="#000" stroke-width="2.4" fill="none"/>
<text x="167.5" y="1954.4" font-size="27.3" text-anchor="end">0</text>
<text x="167.5" y="1901.6" font-size="27.3" text-anchor="end">50</text>
<text x="167.5" y="1848.8" font-size="27.3" text-anchor="end">100</text>
<text x="167.5" y="1796.1" font-size="27.3" text-anchor="end">150</text>
<text x="167.5" y="1743.3" font-size="27.3" text-anchor="end">200</text>
<text x="180.6" y="1979.7" font-size="27.3" text-anchor="middle">0</text>
<text x="312.6" y="1979.7" font-size="27.3" text-anchor="middle">20</text>
<text x="444.6" y="1979.7" font-size="27.3" text-anchor="middle">40</text>
<text x="338.4" y="2009.4" font-size="31.4" text-anchor="middle">Time (hr)</text>
<path d="M209.2 1764.5H232.6" stroke="#E6E6E6" stroke-width="1.6"/>
<circle cx="220.9" cy="1764.5" r="3.0" fill="#E6E6E6" stroke="#000" stroke-width="1.1"/>
<text x="243.6" y="1772.1" font-size="21.7">0</text>
<path d="M209.2 1782.1H232.6" stroke="#FFCFC7" stroke-width="1.6"/>
<circle cx="220.9" cy="1782.1" r="3.0" fill="#FFCFC7" stroke="#000" stroke-width="1.1"/>
<text x="243.6" y="1789.7" font-size="21.7">6.25</text>
<path d="M209.2 1799.8H232.6" stroke="#FFB5A8" stroke-width="1.6"/>
<circle cx="220.9" cy="1799.8" r="3.0" fill="#FFB5A8" stroke="#000" stroke-width="1.1"/>
<text x="243.6" y="1807.4" font-size="21.7">12.5</text>
<path d="M209.2 1817.4H232.6" stroke="#FF9B8A" stroke-width="1.6"/>
<circle cx="220.9" cy="1817.4" r="3.0" fill="#FF9B8A" stroke="#000" stroke-width="1.1"/>
<text x="243.6" y="1825.0" font-size="21.7">25</text>
<path d="M209.2 1835.1H232.6" stroke="#FF816B" stroke-width="1.6"/>
<circle cx="220.9" cy="1835.1" r="3.0" fill="#FF816B" stroke="#000" stroke-width="1.1"/>
<text x="243.6" y="1842.7" font-size="21.7">50</text>
<path d="M209.2 1852.7H232.6" stroke="#FF6347" stroke-width="1.6"/>
<circle cx="220.9" cy="1852.7" r="3.0" fill="#FF6347" stroke="#000" stroke-width="1.1"/>
<text x="243.6" y="1860.3" font-size="21.7">100</text>
<path d="M209.2 1870.3H232.6" stroke="#FF4424" stroke-width="1.6"/>
<circle cx="220.9" cy="1870.3" r="3.0" fill="#FF4424" stroke="#000" stroke-width="1.1"/>
<text x="243.6" y="1877.9" font-size="21.7">500</text>
<path d="M209.2 1888.0H232.6" stroke="#FF2600" stroke-width="1.6"/>
<circle cx="220.9" cy="1888.0" r="3.0" fill="#FF2600" stroke="#000" stroke-width="1.1"/>
<text x="243.6" y="1895.6" font-size="21.7">1000</text>
<path d="M180.2 1944.7L193.4 1944.7L206.6 1944.7L219.8 1944.7L233.0 1944.7L246.2 1944.7L259.4 1944.7L272.6 1944.7L285.8 1944.7L299.0 1944.7L312.2 1944.7L325.4 1944.7L338.6 1944.7L351.8 1944.7L365.0 1944.7L378.2 1944.7L391.4 1944.7L404.6 1944.7L417.8 1944.7L431.0 1944.7L444.2 1944.7L457.4 1944.7L470.6 1944.7L483.8 1944.7L497.0 1944.7" stroke="#FFCFC7" stroke-width="1.5" fill="none"/>
<g fill="#FFCFC7" stroke="#000" stroke-width="1.2"><circle cx="180.2" cy="1944.7" r="3.0"/><circle cx="193.4" cy="1944.7" r="3.0"/><circle cx="206.6" cy="1944.7" r="3.0"/><circle cx="219.8" cy="1944.7" r="3.0"/><circle cx="233.0" cy="1944.7" r="3.0"/><circle cx="246.2" cy="1944.7" r="3.0"/><circle cx="259.4" cy="1944.7" r="3.0"/><circle cx="272.6" cy="1944.7" r="3.0"/><circle cx="285.8" cy="1944.7" r="3.0"/><circle cx="299.0" cy="1944.7" r="3.0"/><circle cx="312.2" cy="1944.7" r="3.0"/><circle cx="325.4" cy="1944.7" r="3.0"/><circle cx="338.6" cy="1944.7" r="3.0"/><circle cx="351.8" cy="1944.7" r="3.0"/><circle cx="365.0" cy="1944.7" r="3.0"/><circle cx="378.2" cy="1944.7" r="3.0"/><circle cx="391.4" cy="1944.7" r="3.0"/><circle cx="404.6" cy="1944.7" r="3.0"/><circle cx="417.8" cy="1944.7" r="3.0"/><circle cx="431.0" cy="1944.7" r="3.0"/><circle cx="444.2" cy="1944.7" r="3.0"/><circle cx="457.4" cy="1944.7" r="3.0"/><circle cx="470.6" cy="1944.7" r="3.0"/><circle cx="483.8" cy="1944.7" r="3.0"/><circle cx="497.0" cy="1944.7" r="3.0"/></g>
<path d="M180.2 1944.6L193.4 1944.6L206.6 1944.6L219.8 1944.6L233.0 1944.6L246.2 1944.5L259.4 1944.5L272.6 1944.4L285.8 1944.3L299.0 1944.2L312.2 1944.2L325.4 1944.1L338.6 1944.0L351.8 1943.9L365.0 1943.8L378.2 1943.8L391.4 1943.8L404.6 1943.7L417.8 1943.7L431.0 1943.7L444.2 1943.7L457.4 1943.7L470.6 1943.6L483.8 1943.6L497.0 1943.6" stroke="#FFB5A8" stroke-width="1.5" fill="none"/>
<g fill="#FFB5A8" stroke="#000" stroke-width="1.2"><circle cx="180.2" cy="1944.6" r="3.0"/><circle cx="193.4" cy="1944.6" r="3.0"/><circle cx="206.6" cy="1944.6" r="3.0"/><circle cx="219.8" cy="1944.6" r="3.0"/><circle cx="233.0" cy="1944.6" r="3.0"/><circle cx="246.2" cy="1944.5" r="3.0"/><circle cx="259.4" cy="1944.5" r="3.0"/><circle cx="272.6" cy="1944.4" r="3.0"/><circle cx="285.8" cy="1944.3" r="3.0"/><circle cx="299.0" cy="1944.2" r="3.0"/><circle cx="312.2" cy="1944.2" r="3.0"/><circle cx="325.4" cy="1944.1" r="3.0"/><circle cx="338.6" cy="1944.0" r="3.0"/><circle cx="351.8" cy="1943.9" r="3.0"/><circle cx="365.0" cy="1943.8" r="3.0"/><circle cx="378.2" cy="1943.8" r="3.0"/><circle cx="391.4" cy="1943.8" r="3.0"/><circle cx="404.6" cy="1943.7" r="3.0"/><circle cx="417.8" cy="1943.7" r="3.0"/><circle cx="431.0" cy="1943.7" r="3.0"/><circle cx="444.2" cy="1943.7" r="3.0"/><circle cx="457.4" cy="1943.7" r="3.0"/><circle cx="470.6" cy="1943.6" r="3.0"/><circle cx="483.8" cy="1943.6" r="3.0"/><circle cx="497.0" cy="1943.6" r="3.0"/></g>
<path d="M180.2 1944.1L193.4 1944.1L206.6 1944.1L219.8 1944.0L233.0 1944.0L246.2 1943.8L259.4 1943.7L272.6 1943.5L285.8 1943.3L299.0 1943.1L312.2 1942.9L325.4 1942.7L338.6 1942.4L351.8 1942.2L365.0 1942.1L378.2 1941.9L391.4 1941.8L404.6 1941.7L417.8 1941.7L431.0 1941.6L444.2 1941.6L457.4 1941.6L470.6 1941.5L483.8 1941.5L497.0 1941.5" stroke="#FF9B8A" stroke-width="1.5" fill="none"/>
<g fill="#FF9B8A" stroke="#000" stroke-width="1.2"><circle cx="180.2" cy="1944.1" r="3.0"/><circle cx="193.4" cy="1944.1" r="3.0"/><circle cx="206.6" cy="1944.1" r="3.0"/><circle cx="219.8" cy="1944.0" r="3.0"/><circle cx="233.0" cy="1944.0" r="3.0"/><circle cx="246.2" cy="1943.8" r="3.0"/><circle cx="259.4" cy="1943.7" r="3.0"/><circle cx="272.6" cy="1943.5" r="3.0"/><circle cx="285.8" cy="1943.3" r="3.0"/><circle cx="299.0" cy="1943.1" r="3.0"/><circle cx="312.2" cy="1942.9" r="3.0"/><circle cx="325.4" cy="1942.7" r="3.0"/><circle cx="338.6" cy="1942.4" r="3.0"/><circle cx="351.8" cy="1942.2" r="3.0"/><circle cx="365.0" cy="1942.1" r="3.0"/><circle cx="378.2" cy="1941.9" r="3.0"/><circle cx="391.4" cy="1941.8" r="3.0"/><circle cx="404.6" cy="1941.7" r="3.0"/><circle cx="417.8" cy="1941.7" r="3.0"/><circle cx="431.0" cy="1941.6" r="3.0"/><circle cx="444.2" cy="1941.6" r="3.0"/><circle cx="457.4" cy="1941.6" r="3.0"/><circle cx="470.6" cy="1941.5" r="3.0"/><circle cx="483.8" cy="1941.5" r="3.0"/><circle cx="497.0" cy="1941.5" r="3.0"/></g>
<path d="M180.2 1944.1L193.4 1944.1L206.6 1944.1L219.8 1944.0L233.0 1943.9L246.2 1943.6L259.4 1943.2L272.6 1942.9L285.8 1942.4L299.0 1941.9L312.2 1941.4L325.4 1940.9L338.6 1940.4L351.8 1940.0L365.0 1939.6L378.2 1939.3L391.4 1939.0L404.6 1938.8L417.8 1938.7L431.0 1938.6L444.2 1938.5L457.4 1938.5L470.6 1938.4L483.8 1938.4L497.0 1938.4" stroke="#FF816B" stroke-width="1.5" fill="none"/>
<g fill="#FF816B" stroke="#000" stroke-width="1.2"><circle cx="180.2" cy="1944.1" r="3.0"/><circle cx="193.4" cy="1944.1" r="3.0"/><circle cx="206.6" cy="1944.1" r="3.0"/><circle cx="219.8" cy="1944.0" r="3.0"/><circle cx="233.0" cy="1943.9" r="3.0"/><circle cx="246.2" cy="1943.6" r="3.0"/><circle cx="259.4" cy="1943.2" r="3.0"/><circle cx="272.6" cy="1942.9" r="3.0"/><circle cx="285.8" cy="1942.4" r="3.0"/><circle cx="299.0" cy="1941.9" r="3.0"/><circle cx="312.2" cy="1941.4" r="3.0"/><circle cx="325.4" cy="1940.9" r="3.0"/><circle cx="338.6" cy="1940.4" r="3.0"/><circle cx="351.8" cy="1940.0" r="3.0"/><circle cx="365.0" cy="1939.6" r="3.0"/><circle cx="378.2" cy="1939.3" r="3.0"/><circle cx="391.4" cy="1939.0" r="3.0"/><circle cx="404.6" cy="1938.8" r="3.0"/><circle cx="417.8" cy="1938.7" r="3.0"/><circle cx="431.0" cy="1938.6" r="3.0"/><circle cx="444.2" cy="1938.5" r="3.0"/><circle cx="457.4" cy="1938.5" r="3.0"/><circle cx="470.6" cy="1938.4" r="3.0"/><circle cx="483.8" cy="1938.4" r="3.0"/><circle cx="497.0" cy="1938.4" r="3.0"/></g>
<path d="M180.2 1944.1L193.4 1944.1L206.6 1944.1L219.8 1944.0L233.0 1943.8L246.2 1943.4L259.4 1942.9L272.6 1942.4L285.8 1941.8L299.0 1941.1L312.2 1940.4L325.4 1939.7L338.6 1939.1L351.8 1938.5L365.0 1937.9L378.2 1937.5L391.4 1937.2L404.6 1936.9L417.8 1936.7L431.0 1936.6L444.2 1936.5L457.4 1936.4L470.6 1936.3L483.8 1936.3L497.0 1936.2" stroke="#FF6347" stroke-width="1.5" fill="none"/>
<g fill="#FF6347" stroke="#000" stroke-width="1.2"><circle cx="180.2" cy="1944.1" r="3.0"/><circle cx="193.4" cy="1944.1" r="3.0"/><circle cx="206.6" cy="1944.1" r="3.0"/><circle cx="219.8" cy="1944.0" r="3.0"/><circle cx="233.0" cy="1943.8" r="3.0"/><circle cx="246.2" cy="1943.4" r="3.0"/><circle cx="259.4" cy="1942.9" r="3.0"/><circle cx="272.6" cy="1942.4" r="3.0"/><circle cx="285.8" cy="1941.8" r="3.0"/><circle cx="299.0" cy="1941.1" r="3.0"/><circle cx="312.2" cy="1940.4" r="3.0"/><circle cx="325.4" cy="1939.7" r="3.0"/><circle cx="338.6" cy="1939.1" r="3.0"/><circle cx="351.8" cy="1938.5" r="3.0"/><circle cx="365.0" cy="1937.9" r="3.0"/><circle cx="378.2" cy="1937.5" r="3.0"/><circle cx="391.4" cy="1937.2" r="3.0"/><circle cx="404.6" cy="1936.9" r="3.0"/><circle cx="417.8" cy="1936.7" r="3.0"/><circle cx="431.0" cy="1936.6" r="3.0"/><circle cx="444.2" cy="1936.5" r="3.0"/><circle cx="457.4" cy="1936.4" r="3.0"/><circle cx="470.6" cy="1936.3" r="3.0"/><circle cx="483.8" cy="1936.3" r="3.0"/><circle cx="497.0" cy="1936.2" r="3.0"/></g>
<path d="M180.2 1944.1L193.4 1944.1L206.6 1944.1L219.8 1944.0L233.0 1943.7L246.2 1943.2L259.4 1942.6L272.6 1942.0L285.8 1941.2L299.0 1940.4L312.2 1939.5L325.4 1938.6L338.6 1937.7L351.8 1936.9L365.0 1936.3L378.2 1935.8L391.4 1935.3L404.6 1935.0L417.8 1934.7L431.0 1934.5L444.2 1934.4L457.4 1934.3L470.6 1934.2L483.8 1934.2L497.0 1934.1" stroke="#FF4424" stroke-width="1.5" fill="none"/>
<g fill="#FF4424" stroke="#000" stroke-width="1.2"><circle cx="180.2" cy="1944.1" r="3.0"/><circle cx="193.4" cy="1944.1" r="3.0"/><circle cx="206.6" cy="1944.1" r="3.0"/><circle cx="219.8" cy="1944.0" r="3.0"/><circle cx="233.0" cy="1943.7" r="3.0"/><circle cx="246.2" cy="1943.2" r="3.0"/><circle cx="259.4" cy="1942.6" r="3.0"/><circle cx="272.6" cy="1942.0" r="3.0"/><circle cx="285.8" cy="1941.2" r="3.0"/><circle cx="299.0" cy="1940.4" r="3.0"/><circle cx="312.2" cy="1939.5" r="3.0"/><circle cx="325.4" cy="1938.6" r="3.0"/><circle cx="338.6" cy="1937.7" r="3.0"/><circle cx="351.8" cy="1936.9" r="3.0"/><circle cx="365.0" cy="1936.3" r="3.0"/><circle cx="378.2" cy="1935.8" r="3.0"/><circle cx="391.4" cy="1935.3" r="3.0"/><circle cx="404.6" cy="1935.0" r="3.0"/><circle cx="417.8" cy="1934.7" r="3.0"/><circle cx="431.0" cy="1934.5" r="3.0"/><circle cx="444.2" cy="1934.4" r="3.0"/><circle cx="457.4" cy="1934.3" r="3.0"/><circle cx="470.6" cy="1934.2" r="3.0"/><circle cx="483.8" cy="1934.2" r="3.0"/><circle cx="497.0" cy="1934.1" r="3.0"/></g>
<path d="M180.2 1944.1L193.4 1944.1L206.6 1944.1L219.8 1944.0L233.0 1943.6L246.2 1942.9L259.4 1942.1L272.6 1941.2L285.8 1940.3L299.0 1939.3L312.2 1938.3L325.4 1937.3L338.6 1936.3L351.8 1935.4L365.0 1934.5L378.2 1933.8L391.4 1933.2L404.6 1932.8L417.8 1932.4L431.0 1932.1L444.2 1931.8L457.4 1931.6L470.6 1931.5L483.8 1931.4L497.0 1931.3" stroke="#FF2600" stroke-width="1.5" fill="none"/>
<g fill="#FF2600" stroke="#000" stroke-width="1.2"><circle cx="180.2" cy="1944.1" r="3.0"/><circle cx="193.4" cy="1944.1" r="3.0"/><circle cx="206.6" cy="1944.1" r="3.0"/><circle cx="219.8" cy="1944.0" r="3.0"/><circle cx="233.0" cy="1943.6" r="3.0"/><circle cx="246.2" cy="1942.9" r="3.0"/><circle cx="259.4" cy="1942.1" r="3.0"/><circle cx="272.6" cy="1941.2" r="3.0"/><circle cx="285.8" cy="1940.3" r="3.0"/><circle cx="299.0" cy="1939.3" r="3.0"/><circle cx="312.2" cy="1938.3" r="3.0"/><circle cx="325.4" cy="1937.3" r="3.0"/><circle cx="338.6" cy="1936.3" r="3.0"/><circle cx="351.8" cy="1935.4" r="3.0"/><circle cx="365.0" cy="1934.5" r="3.0"/><circle cx="378.2" cy="1933.8" r="3.0"/><circle cx="391.4" cy="1933.2" r="3.0"/><circle cx="404.6" cy="1932.8" r="3.0"/><circle cx="417.8" cy="1932.4" r="3.0"/><circle cx="431.0" cy="1932.1" r="3.0"/><circle cx="444.2" cy="1931.8" r="3.0"/><circle cx="457.4" cy="1931.6" r="3.0"/><circle cx="470.6" cy="1931.5" r="3.0"/><circle cx="483.8" cy="1931.4" r="3.0"/><circle cx="497.0" cy="1931.3" r="3.0"/></g>
<path d="M180.2 1946.0L193.4 1946.0L206.6 1946.0L219.8 1946.0L233.0 1946.0L246.2 1946.0L259.4 1946.0L272.6 1946.0L285.8 1946.0L299.0 1946.0L312.2 1946.0L325.4 1946.0L338.6 1946.0L351.8 1946.0L365.0 1946.0L378.2 1946.0L391.4 1946.0L404.6 1946.0L417.8 1946.0L431.0 1946.0L444.2 1946.0L457.4 1946.0L470.6 1946.0L483.8 1946.0L497.0 1946.0" stroke="#E6E6E6" stroke-width="1.5" fill="none"/>
<g fill="#E6E6E6" stroke="#000" stroke-width="1.2"><circle cx="180.2" cy="1946.0" r="3.0"/><circle cx="193.4" cy="1946.0" r="3.0"/><circle cx="206.6" cy="1946.0" r="3.0"/><circle cx="219.8" cy="1946.0" r="3.0"/><circle cx="233.0" cy="1946.0" r="3.0"/><circle cx="246.2" cy="1946.0" r="3.0"/><circle cx="259.4" cy="1946.0" r="3.0"/><circle cx="272.6" cy="1946.0" r="3.0"/><circle cx="285.8" cy="1946.0" r="3.0"/><circle cx="299.0" cy="1946.0" r="3.0"/><circle cx="312.2" cy="1946.0" r="3.0"/><circle cx="325.4" cy="1946.0" r="3.0"/><circle cx="338.6" cy="1946.0" r="3.0"/><circle cx="351.8" cy="1946.0" r="3.0"/><circle cx="365.0" cy="1946.0" r="3.0"/><circle cx="378.2" cy="1946.0" r="3.0"/><circle cx="391.4" cy="1946.0" r="3.0"/><circle cx="404.6" cy="1946.0" r="3.0"/><circle cx="417.8" cy="1946.0" r="3.0"/><circle cx="431.0" cy="1946.0" r="3.0"/><circle cx="444.2" cy="1946.0" r="3.0"/><circle cx="457.4" cy="1946.0" r="3.0"/><circle cx="470.6" cy="1946.0" r="3.0"/><circle cx="483.8" cy="1946.0" r="3.0"/><circle cx="497.0" cy="1946.0" r="3.0"/></g>
<path d="M210.3 1903.5h5.2V1927.7L219.6 1925.2L212.9 1940.2L206.2 1925.2L210.3 1927.7Z" fill="#000"/>
</g>
<g>
<text x="738.6" y="1716.5" font-size="31.4" text-anchor="middle">mC-D83A BAK +BID</text>
<text x="739.0" y="1748.1" font-size="31.4" text-anchor="middle">+ qVD</text>
<path d="M580.1 1734.5V1948.0" stroke="#000" stroke-width="2.4" fill="none"/>
<path d="M578.9 1946.8H898.1" stroke="#000" stroke-width="2.4" fill="none"/>
<path d="M571.4 1946.8H580.1M571.4 1894.0H580.1M571.4 1841.2H580.1M571.4 1788.5H580.1M571.4 1735.7H580.1" stroke="#000" stroke-width="2.4" fill="none"/>
<path d="M580.1 1946.8v9.7M593.3 1946.8v5.6M606.5 1946.8v5.6M619.7 1946.8v5.6M632.9 1946.8v5.6M646.1 1946.8v5.6M659.3 1946.8v5.6M672.5 1946.8v5.6M685.7 1946.8v5.6M698.9 1946.8v5.6M712.1 1946.8v9.7M725.3 1946.8v5.6M738.5 1946.8v5.6M751.7 1946.8v5.6M764.9 1946.8v5.6M778.1 1946.8v5.6M791.3 1946.8v5.6M804.5 1946.8v5.6M817.7 1946.8v5.6M830.9 1946.8v5.6M844.1 1946.8v9.7M857.3 1946.8v5.6M870.5 1946.8v5.6M883.7 1946.8v5.6M896.9 1946.8v5.6" stroke="#000" stroke-width="2.4" fill="none"/>
<text x="567.4" y="1954.4" font-size="27.3" text-anchor="end">0</text>
<text x="567.4" y="1901.6" font-size="27.3" text-anchor="end">50</text>
<text x="567.4" y="1848.8" font-size="27.3" text-anchor="end">100</text>
<text x="567.4" y="1796.1" font-size="27.3" text-anchor="end">150</text>
<text x="567.4" y="1743.3" font-size="27.3" text-anchor="end">200</text>
<text x="580.5" y="1979.7" font-size="27.3" text-anchor="middle">0</text>
<text x="712.5" y="1979.7" font-size="27.3" text-anchor="middle">20</text>
<text x="844.5" y="1979.7" font-size="27.3" text-anchor="middle">40</text>
<text x="739.2" y="2009.4" font-size="31.4" text-anchor="middle">Time (hr)</text>
<path d="M610.3 1761.4H634.0" stroke="#E6E6E6" stroke-width="1.6"/>
<circle cx="622.1" cy="1761.4" r="3.0" fill="#E6E6E6" stroke="#000" stroke-width="1.1"/>
<text x="645.0" y="1769.0" font-size="21.7">0</text>
<path d="M610.3 1778.8H634.0" stroke="#C8D2FF" stroke-width="1.6"/>
<circle cx="622.1" cy="1778.8" r="3.0" fill="#C8D2FF" stroke="#000" stroke-width="1.1"/>
<text x="645.0" y="1786.4" font-size="21.7">6.25</text>
<path d="M610.3 1796.3H634.0" stroke="#AABAFF" stroke-width="1.6"/>
<circle cx="622.1" cy="1796.3" r="3.0" fill="#AABAFF" stroke="#000" stroke-width="1.1"/>
<text x="645.0" y="1803.9" font-size="21.7">12.5</text>
<path d="M610.3 1813.7H634.0" stroke="#8CA1FF" stroke-width="1.6"/>
<circle cx="622.1" cy="1813.7" r="3.0" fill="#8CA1FF" stroke="#000" stroke-width="1.1"/>
<text x="645.0" y="1821.3" font-size="21.7">25</text>
<path d="M610.3 1831.2H634.0" stroke="#6D89FF" stroke-width="1.6"/>
<circle cx="622.1" cy="1831.2" r="3.0" fill="#6D89FF" stroke="#000" stroke-width="1.1"/>
<text x="645.0" y="1838.8" font-size="21.7">50</text>
<path d="M610.3 1848.6H634.0" stroke="#4A6CFF" stroke-width="1.6"/>
<circle cx="622.1" cy="1848.6" r="3.0" fill="#4A6CFF" stroke="#000" stroke-width="1.1"/>
<text x="645.0" y="1856.2" font-size="21.7">100</text>
<path d="M610.3 1866.0H634.0" stroke="#2750FF" stroke-width="1.6"/>
<circle cx="622.1" cy="1866.0" r="3.0" fill="#2750FF" stroke="#000" stroke-width="1.1"/>
<text x="645.0" y="1873.6" font-size="21.7">500</text>
<path d="M610.3 1883.5H634.0" stroke="#0433FF" stroke-width="1.6"/>
<circle cx="622.1" cy="1883.5" r="3.0" fill="#0433FF" stroke="#000" stroke-width="1.1"/>
<text x="645.0" y="1891.1" font-size="21.7">1000</text>
<path d="M580.1 1946.3L593.3 1946.3L606.5 1946.3L619.7 1946.3L632.9 1946.3L646.1 1946.3L659.3 1946.3L672.5 1946.3L685.7 1946.3L698.9 1946.3L712.1 1946.3L725.3 1946.3L738.5 1946.3L751.7 1946.3L764.9 1946.3L778.1 1946.3L791.3 1946.3L804.5 1946.3L817.7 1946.3L830.9 1946.3L844.1 1946.3L857.3 1946.3L870.5 1946.3L883.7 1946.3L896.9 1946.3" stroke="#C8D2FF" stroke-width="1.5" fill="none"/>
<g fill="#C8D2FF" stroke="#000" stroke-width="1.2"><circle cx="580.1" cy="1946.3" r="3.0"/><circle cx="593.3" cy="1946.3" r="3.0"/><circle cx="606.5" cy="1946.3" r="3.0"/><circle cx="619.7" cy="1946.3" r="3.0"/><circle cx="632.9" cy="1946.3" r="3.0"/><circle cx="646.1" cy="1946.3" r="3.0"/><circle cx="659.3" cy="1946.3" r="3.0"/><circle cx="672.5" cy="1946.3" r="3.0"/><circle cx="685.7" cy="1946.3" r="3.0"/><circle cx="698.9" cy="1946.3" r="3.0"/><circle cx="712.1" cy="1946.3" r="3.0"/><circle cx="725.3" cy="1946.3" r="3.0"/><circle cx="738.5" cy="1946.3" r="3.0"/><circle cx="751.7" cy="1946.3" r="3.0"/><circle cx="764.9" cy="1946.3" r="3.0"/><circle cx="778.1" cy="1946.3" r="3.0"/><circle cx="791.3" cy="1946.3" r="3.0"/><circle cx="804.5" cy="1946.3" r="3.0"/><circle cx="817.7" cy="1946.3" r="3.0"/><circle cx="830.9" cy="1946.3" r="3.0"/><circle cx="844.1" cy="1946.3" r="3.0"/><circle cx="857.3" cy="1946.3" r="3.0"/><circle cx="870.5" cy="1946.3" r="3.0"/><circle cx="883.7" cy="1946.3" r="3.0"/><circle cx="896.9" cy="1946.3" r="3.0"/></g>
<path d="M580.1 1946.3L593.3 1946.3L606.5 1946.3L619.7 1946.3L632.9 1946.3L646.1 1946.3L659.3 1946.3L672.5 1946.3L685.7 1946.3L698.9 1946.3L712.1 1946.3L725.3 1946.3L738.5 1946.3L751.7 1946.3L764.9 1946.3L778.1 1946.3L791.3 1946.3L804.5 1946.3L817.7 1946.3L830.9 1946.3L844.1 1946.3L857.3 1946.3L870.5 1946.3L883.7 1946.3L896.9 1946.3" stroke="#AABAFF" stroke-width="1.5" fill="none"/>
<g fill="#AABAFF" stroke="#000" stroke-width="1.2"><circle cx="580.1" cy="1946.3" r="3.0"/><circle cx="593.3" cy="1946.3" r="3.0"/><circle cx="606.5" cy="1946.3" r="3.0"/><circle cx="619.7" cy="1946.3" r="3.0"/><circle cx="632.9" cy="1946.3" r="3.0"/><circle cx="646.1" cy="1946.3" r="3.0"/><circle cx="659.3" cy="1946.3" r="3.0"/><circle cx="672.5" cy="1946.3" r="3.0"/><circle cx="685.7" cy="1946.3" r="3.0"/><circle cx="698.9" cy="1946.3" r="3.0"/><circle cx="712.1" cy="1946.3" r="3.0"/><circle cx="725.3" cy="1946.3" r="3.0"/><circle cx="738.5" cy="1946.3" r="3.0"/><circle cx="751.7" cy="1946.3" r="3.0"/><circle cx="764.9" cy="1946.3" r="3.0"/><circle cx="778.1" cy="1946.3" r="3.0"/><circle cx="791.3" cy="1946.3" r="3.0"/><circle cx="804.5" cy="1946.3" r="3.0"/><circle cx="817.7" cy="1946.3" r="3.0"/><circle cx="830.9" cy="1946.3" r="3.0"/><circle cx="844.1" cy="1946.3" r="3.0"/><circle cx="857.3" cy="1946.3" r="3.0"/><circle cx="870.5" cy="1946.3" r="3.0"/><circle cx="883.7" cy="1946.3" r="3.0"/><circle cx="896.9" cy="1946.3" r="3.0"/></g>
<path d="M580.1 1945.7L593.3 1945.7L606.5 1945.7L619.7 1945.7L632.9 1945.7L646.1 1945.7L659.3 1945.7L672.5 1945.7L685.7 1945.7L698.9 1945.7L712.1 1945.7L725.3 1945.7L738.5 1945.7L751.7 1945.7L764.9 1945.7L778.1 1945.7L791.3 1945.7L804.5 1945.7L817.7 1945.7L830.9 1945.7L844.1 1945.7L857.3 1945.7L870.5 1945.7L883.7 1945.7L896.9 1945.7" stroke="#8CA1FF" stroke-width="1.5" fill="none"/>
<g fill="#8CA1FF" stroke="#000" stroke-width="1.2"><circle cx="580.1" cy="1945.7" r="3.0"/><circle cx="593.3" cy="1945.7" r="3.0"/><circle cx="606.5" cy="1945.7" r="3.0"/><circle cx="619.7" cy="1945.7" r="3.0"/><circle cx="632.9" cy="1945.7" r="3.0"/><circle cx="646.1" cy="1945.7" r="3.0"/><circle cx="659.3" cy="1945.7" r="3.0"/><circle cx="672.5" cy="1945.7" r="3.0"/><circle cx="685.7" cy="1945.7" r="3.0"/><circle cx="698.9" cy="1945.7" r="3.0"/><circle cx="712.1" cy="1945.7" r="3.0"/><circle cx="725.3" cy="1945.7" r="3.0"/><circle cx="738.5" cy="1945.7" r="3.0"/><circle cx="751.7" cy="1945.7" r="3.0"/><circle cx="764.9" cy="1945.7" r="3.0"/><circle cx="778.1" cy="1945.7" r="3.0"/><circle cx="791.3" cy="1945.7" r="3.0"/><circle cx="804.5" cy="1945.7" r="3.0"/><circle cx="817.7" cy="1945.7" r="3.0"/><circle cx="830.9" cy="1945.7" r="3.0"/><circle cx="844.1" cy="1945.7" r="3.0"/><circle cx="857.3" cy="1945.7" r="3.0"/><circle cx="870.5" cy="1945.7" r="3.0"/><circle cx="883.7" cy="1945.7" r="3.0"/><circle cx="896.9" cy="1945.7" r="3.0"/></g>
<path d="M580.1 1945.7L593.3 1945.7L606.5 1945.7L619.7 1945.7L632.9 1945.7L646.1 1945.7L659.3 1945.7L672.5 1945.7L685.7 1945.7L698.9 1945.7L712.1 1945.7L725.3 1945.7L738.5 1945.7L751.7 1945.7L764.9 1945.7L778.1 1945.7L791.3 1945.7L804.5 1945.7L817.7 1945.7L830.9 1945.7L844.1 1945.7L857.3 1945.7L870.5 1945.7L883.7 1945.7L896.9 1945.7" stroke="#6D89FF" stroke-width="1.5" fill="none"/>
<g fill="#6D89FF" stroke="#000" stroke-width="1.2"><circle cx="580.1" cy="1945.7" r="3.0"/><circle cx="593.3" cy="1945.7" r="3.0"/><circle cx="606.5" cy="1945.7" r="3.0"/><circle cx="619.7" cy="1945.7" r="3.0"/><circle cx="632.9" cy="1945.7" r="3.0"/><circle cx="646.1" cy="1945.7" r="3.0"/><circle cx="659.3" cy="1945.7" r="3.0"/><circle cx="672.5" cy="1945.7" r="3.0"/><circle cx="685.7" cy="1945.7" r="3.0"/><circle cx="698.9" cy="1945.7" r="3.0"/><circle cx="712.1" cy="1945.7" r="3.0"/><circle cx="725.3" cy="1945.7" r="3.0"/><circle cx="738.5" cy="1945.7" r="3.0"/><circle cx="751.7" cy="1945.7" r="3.0"/><circle cx="764.9" cy="1945.7" r="3.0"/><circle cx="778.1" cy="1945.7" r="3.0"/><circle cx="791.3" cy="1945.7" r="3.0"/><circle cx="804.5" cy="1945.7" r="3.0"/><circle cx="817.7" cy="1945.7" r="3.0"/><circle cx="830.9" cy="1945.7" r="3.0"/><circle cx="844.1" cy="1945.7" r="3.0"/><circle cx="857.3" cy="1945.7" r="3.0"/><circle cx="870.5" cy="1945.7" r="3.0"/><circle cx="883.7" cy="1945.7" r="3.0"/><circle cx="896.9" cy="1945.7" r="3.0"/></g>
<path d="M580.1 1945.2L593.3 1945.2L606.5 1945.2L619.7 1945.2L632.9 1945.2L646.1 1945.2L659.3 1945.2L672.5 1945.2L685.7 1945.2L698.9 1945.2L712.1 1945.2L725.3 1945.2L738.5 1945.2L751.7 1945.2L764.9 1945.2L778.1 1945.2L791.3 1945.2L804.5 1945.2L817.7 1945.2L830.9 1945.2L844.1 1945.2L857.3 1945.2L870.5 1945.2L883.7 1945.2L896.9 1945.2" stroke="#4A6CFF" stroke-width="1.5" fill="none"/>
<g fill="#4A6CFF" stroke="#000" stroke-width="1.2"><circle cx="580.1" cy="1945.2" r="3.0"/><circle cx="593.3" cy="1945.2" r="3.0"/><circle cx="606.5" cy="1945.2" r="3.0"/><circle cx="619.7" cy="1945.2" r="3.0"/><circle cx="632.9" cy="1945.2" r="3.0"/><circle cx="646.1" cy="1945.2" r="3.0"/><circle cx="659.3" cy="1945.2" r="3.0"/><circle cx="672.5" cy="1945.2" r="3.0"/><circle cx="685.7" cy="1945.2" r="3.0"/><circle cx="698.9" cy="1945.2" r="3.0"/><circle cx="712.1" cy="1945.2" r="3.0"/><circle cx="725.3" cy="1945.2" r="3.0"/><circle cx="738.5" cy="1945.2" r="3.0"/><circle cx="751.7" cy="1945.2" r="3.0"/><circle cx="764.9" cy="1945.2" r="3.0"/><circle cx="778.1" cy="1945.2" r="3.0"/><circle cx="791.3" cy="1945.2" r="3.0"/><circle cx="804.5" cy="1945.2" r="3.0"/><circle cx="817.7" cy="1945.2" r="3.0"/><circle cx="830.9" cy="1945.2" r="3.0"/><circle cx="844.1" cy="1945.2" r="3.0"/><circle cx="857.3" cy="1945.2" r="3.0"/><circle cx="870.5" cy="1945.2" r="3.0"/><circle cx="883.7" cy="1945.2" r="3.0"/><circle cx="896.9" cy="1945.2" r="3.0"/></g>
<path d="M580.1 1944.7L593.3 1944.7L606.5 1944.7L619.7 1944.7L632.9 1944.7L646.1 1944.7L659.3 1944.7L672.5 1944.7L685.7 1944.7L698.9 1944.7L712.1 1944.7L725.3 1944.7L738.5 1944.7L751.7 1944.7L764.9 1944.7L778.1 1944.7L791.3 1944.7L804.5 1944.7L817.7 1944.7L830.9 1944.7L844.1 1944.7L857.3 1944.7L870.5 1944.7L883.7 1944.7L896.9 1944.7" stroke="#2750FF" stroke-width="1.5" fill="none"/>
<g fill="#2750FF" stroke="#000" stroke-width="1.2"><circle cx="580.1" cy="1944.7" r="3.0"/><circle cx="593.3" cy="1944.7" r="3.0"/><circle cx="606.5" cy="1944.7" r="3.0"/><circle cx="619.7" cy="1944.7" r="3.0"/><circle cx="632.9" cy="1944.7" r="3.0"/><circle cx="646.1" cy="1944.7" r="3.0"/><circle cx="659.3" cy="1944.7" r="3.0"/><circle cx="672.5" cy="1944.7" r="3.0"/><circle cx="685.7" cy="1944.7" r="3.0"/><circle cx="698.9" cy="1944.7" r="3.0"/><circle cx="712.1" cy="1944.7" r="3.0"/><circle cx="725.3" cy="1944.7" r="3.0"/><circle cx="738.5" cy="1944.7" r="3.0"/><circle cx="751.7" cy="1944.7" r="3.0"/><circle cx="764.9" cy="1944.7" r="3.0"/><circle cx="778.1" cy="1944.7" r="3.0"/><circle cx="791.3" cy="1944.7" r="3.0"/><circle cx="804.5" cy="1944.7" r="3.0"/><circle cx="817.7" cy="1944.7" r="3.0"/><circle cx="830.9" cy="1944.7" r="3.0"/><circle cx="844.1" cy="1944.7" r="3.0"/><circle cx="857.3" cy="1944.7" r="3.0"/><circle cx="870.5" cy="1944.7" r="3.0"/><circle cx="883.7" cy="1944.7" r="3.0"/><circle cx="896.9" cy="1944.7" r="3.0"/></g>
<path d="M580.1 1944.6L593.3 1944.6L606.5 1944.6L619.7 1944.6L632.9 1944.6L646.1 1944.6L659.3 1944.6L672.5 1944.6L685.7 1944.5L698.9 1944.5L712.1 1944.5L725.3 1944.5L738.5 1944.4L751.7 1944.4L764.9 1944.4L778.1 1944.3L791.3 1944.3L804.5 1944.2L817.7 1944.2L830.9 1944.2L844.1 1944.1L857.3 1944.1L870.5 1944.1L883.7 1944.1L896.9 1944.1" stroke="#0433FF" stroke-width="1.5" fill="none"/>
<g fill="#0433FF" stroke="#000" stroke-width="1.2"><circle cx="580.1" cy="1944.6" r="3.0"/><circle cx="593.3" cy="1944.6" r="3.0"/><circle cx="606.5" cy="1944.6" r="3.0"/><circle cx="619.7" cy="1944.6" r="3.0"/><circle cx="632.9" cy="1944.6" r="3.0"/><circle cx="646.1" cy="1944.6" r="3.0"/><circle cx="659.3" cy="1944.6" r="3.0"/><circle cx="672.5" cy="1944.6" r="3.0"/><circle cx="685.7" cy="1944.5" r="3.0"/><circle cx="698.9" cy="1944.5" r="3.0"/><circle cx="712.1" cy="1944.5" r="3.0"/><circle cx="725.3" cy="1944.5" r="3.0"/><circle cx="738.5" cy="1944.4" r="3.0"/><circle cx="751.7" cy="1944.4" r="3.0"/><circle cx="764.9" cy="1944.4" r="3.0"/><circle cx="778.1" cy="1944.3" r="3.0"/><circle cx="791.3" cy="1944.3" r="3.0"/><circle cx="804.5" cy="1944.2" r="3.0"/><circle cx="817.7" cy="1944.2" r="3.0"/><circle cx="830.9" cy="1944.2" r="3.0"/><circle cx="844.1" cy="1944.1" r="3.0"/><circle cx="857.3" cy="1944.1" r="3.0"/><circle cx="870.5" cy="1944.1" r="3.0"/><circle cx="883.7" cy="1944.1" r="3.0"/><circle cx="896.9" cy="1944.1" r="3.0"/></g>
<path d="M580.1 1946.5L593.3 1946.5L606.5 1946.5L619.7 1946.5L632.9 1946.5L646.1 1946.5L659.3 1946.5L672.5 1946.5L685.7 1946.5L698.9 1946.5L712.1 1946.5L725.3 1946.5L738.5 1946.5L751.7 1946.5L764.9 1946.5L778.1 1946.5L791.3 1946.5L804.5 1946.5L817.7 1946.5L830.9 1946.5L844.1 1946.5L857.3 1946.5L870.5 1946.5L883.7 1946.5L896.9 1946.5" stroke="#E6E6E6" stroke-width="1.5" fill="none"/>
<g fill="#E6E6E6" stroke="#000" stroke-width="1.2"><circle cx="580.1" cy="1946.5" r="3.0"/><circle cx="593.3" cy="1946.5" r="3.0"/><circle cx="606.5" cy="1946.5" r="3.0"/><circle cx="619.7" cy="1946.5" r="3.0"/><circle cx="632.9" cy="1946.5" r="3.0"/><circle cx="646.1" cy="1946.5" r="3.0"/><circle cx="659.3" cy="1946.5" r="3.0"/><circle cx="672.5" cy="1946.5" r="3.0"/><circle cx="685.7" cy="1946.5" r="3.0"/><circle cx="698.9" cy="1946.5" r="3.0"/><circle cx="712.1" cy="1946.5" r="3.0"/><circle cx="725.3" cy="1946.5" r="3.0"/><circle cx="738.5" cy="1946.5" r="3.0"/><circle cx="751.7" cy="1946.5" r="3.0"/><circle cx="764.9" cy="1946.5" r="3.0"/><circle cx="778.1" cy="1946.5" r="3.0"/><circle cx="791.3" cy="1946.5" r="3.0"/><circle cx="804.5" cy="1946.5" r="3.0"/><circle cx="817.7" cy="1946.5" r="3.0"/><circle cx="830.9" cy="1946.5" r="3.0"/><circle cx="844.1" cy="1946.5" r="3.0"/><circle cx="857.3" cy="1946.5" r="3.0"/><circle cx="870.5" cy="1946.5" r="3.0"/><circle cx="883.7" cy="1946.5" r="3.0"/><circle cx="896.9" cy="1946.5" r="3.0"/></g>
<path d="M610.0 1903.5h5.2V1927.7L619.3 1925.2L612.6 1940.2L605.9 1925.2L610.0 1927.7Z" fill="#000"/>
</g>
<g>
<text x="1138.8" y="1717.9" font-size="31.4" text-anchor="middle">mC-V74A BAK + BID</text>
<text x="1138.8" y="1749.8" font-size="31.4" text-anchor="middle">+ T/C + qVD</text>
<path d="M980.1 1734.5V1948.0" stroke="#000" stroke-width="2.4" fill="none"/>
<path d="M978.9 1946.8H1298.1" stroke="#000" stroke-width="2.4" fill="none"/>
<path d="M971.4 1946.8H980.1M971.4 1894.0H980.1M971.4 1841.2H980.1M971.4 1788.5H980.1M971.4 1735.7H980.1" stroke="#000" stroke-width="2.4" fill="none"/>
<path d="M980.1 1946.8v9.7M993.3 1946.8v5.6M1006.5 1946.8v5.6M1019.7 1946.8v5.6M1032.9 1946.8v5.6M1046.1 1946.8v5.6M1059.3 1946.8v5.6M1072.5 1946.8v5.6M1085.7 1946.8v5.6M1098.9 1946.8v5.6M1112.1 1946.8v9.7M1125.3 1946.8v5.6M1138.5 1946.8v5.6M1151.7 1946.8v5.6M1164.9 1946.8v5.6M1178.1 1946.8v5.6M1191.3 1946.8v5.6M1204.5 1946.8v5.6M1217.7 1946.8v5.6M1230.9 1946.8v5.6M1244.1 1946.8v9.7M1257.3 1946.8v5.6M1270.5 1946.8v5.6M1283.7 1946.8v5.6M1296.9 1946.8v5.6" stroke="#000" stroke-width="2.4" fill="none"/>
<text x="967.4" y="1954.4" font-size="27.3" text-anchor="end">0</text>
<text x="967.4" y="1901.6" font-size="27.3" text-anchor="end">50</text>
<text x="967.4" y="1848.8" font-size="27.3" text-anchor="end">100</text>
<text x="967.4" y="1796.1" font-size="27.3" text-anchor="end">150</text>
<text x="967.4" y="1743.3" font-size="27.3" text-anchor="end">200</text>
<text x="980.5" y="1979.7" font-size="27.3" text-anchor="middle">0</text>
<text x="1112.5" y="1979.7" font-size="27.3" text-anchor="middle">20</text>
<text x="1244.5" y="1979.7" font-size="27.3" text-anchor="middle">40</text>
<text x="1139.0" y="2010.0" font-size="31.4" text-anchor="middle">Time (hr)</text>
<path d="M1015.9 1764.2H1039.3" stroke="#E6E6E6" stroke-width="1.6"/>
<circle cx="1027.6" cy="1764.2" r="3.0" fill="#E6E6E6" stroke="#000" stroke-width="1.1"/>
<text x="1050.0" y="1771.8" font-size="21.7">0</text>
<path d="M1015.9 1781.8H1039.3" stroke="#FFCFC7" stroke-width="1.6"/>
<circle cx="1027.6" cy="1781.8" r="3.0" fill="#FFCFC7" stroke="#000" stroke-width="1.1"/>
<text x="1050.0" y="1789.4" font-size="21.7">6.25</text>
<path d="M1015.9 1799.5H1039.3" stroke="#FFB5A8" stroke-width="1.6"/>
<circle cx="1027.6" cy="1799.5" r="3.0" fill="#FFB5A8" stroke="#000" stroke-width="1.1"/>
<text x="1050.0" y="1807.1" font-size="21.7">12.5</text>
<path d="M1015.9 1817.1H1039.3" stroke="#FF9B8A" stroke-width="1.6"/>
<circle cx="1027.6" cy="1817.1" r="3.0" fill="#FF9B8A" stroke="#000" stroke-width="1.1"/>
<text x="1050.0" y="1824.7" font-size="21.7">25</text>
<path d="M1015.9 1834.8H1039.3" stroke="#FF816B" stroke-width="1.6"/>
<circle cx="1027.6" cy="1834.8" r="3.0" fill="#FF816B" stroke="#000" stroke-width="1.1"/>
<text x="1050.0" y="1842.4" font-size="21.7">50</text>
<path d="M1015.9 1852.4H1039.3" stroke="#FF6347" stroke-width="1.6"/>
<circle cx="1027.6" cy="1852.4" r="3.0" fill="#FF6347" stroke="#000" stroke-width="1.1"/>
<text x="1050.0" y="1860.0" font-size="21.7">100</text>
<path d="M1015.9 1870.0H1039.3" stroke="#FF4424" stroke-width="1.6"/>
<circle cx="1027.6" cy="1870.0" r="3.0" fill="#FF4424" stroke="#000" stroke-width="1.1"/>
<text x="1050.0" y="1877.6" font-size="21.7">500</text>
<path d="M1015.9 1887.7H1039.3" stroke="#FF2600" stroke-width="1.6"/>
<circle cx="1027.6" cy="1887.7" r="3.0" fill="#FF2600" stroke="#000" stroke-width="1.1"/>
<text x="1050.0" y="1895.3" font-size="21.7">1000</text>
<path d="M980.1 1944.7L993.3 1944.7L1006.5 1944.7L1019.7 1944.7L1032.9 1944.7L1046.1 1944.7L1059.3 1944.7L1072.5 1944.7L1085.7 1944.7L1098.9 1944.7L1112.1 1944.7L1125.3 1944.7L1138.5 1944.7L1151.7 1944.7L1164.9 1944.7L1178.1 1944.7L1191.3 1944.7L1204.5 1944.7L1217.7 1944.7L1230.9 1944.7L1244.1 1944.7L1257.3 1944.7L1270.5 1944.7L1283.7 1944.7L1296.9 1944.7" stroke="#FFCFC7" stroke-width="1.5" fill="none"/>
<g fill="#FFCFC7" stroke="#000" stroke-width="1.2"><circle cx="980.1" cy="1944.7" r="3.0"/><circle cx="993.3" cy="1944.7" r="3.0"/><circle cx="1006.5" cy="1944.7" r="3.0"/><circle cx="1019.7" cy="1944.7" r="3.0"/><circle cx="1032.9" cy="1944.7" r="3.0"/><circle cx="1046.1" cy="1944.7" r="3.0"/><circle cx="1059.3" cy="1944.7" r="3.0"/><circle cx="1072.5" cy="1944.7" r="3.0"/><circle cx="1085.7" cy="1944.7" r="3.0"/><circle cx="1098.9" cy="1944.7" r="3.0"/><circle cx="1112.1" cy="1944.7" r="3.0"/><circle cx="1125.3" cy="1944.7" r="3.0"/><circle cx="1138.5" cy="1944.7" r="3.0"/><circle cx="1151.7" cy="1944.7" r="3.0"/><circle cx="1164.9" cy="1944.7" r="3.0"/><circle cx="1178.1" cy="1944.7" r="3.0"/><circle cx="1191.3" cy="1944.7" r="3.0"/><circle cx="1204.5" cy="1944.7" r="3.0"/><circle cx="1217.7" cy="1944.7" r="3.0"/><circle cx="1230.9" cy="1944.7" r="3.0"/><circle cx="1244.1" cy="1944.7" r="3.0"/><circle cx="1257.3" cy="1944.7" r="3.0"/><circle cx="1270.5" cy="1944.7" r="3.0"/><circle cx="1283.7" cy="1944.7" r="3.0"/><circle cx="1296.9" cy="1944.7" r="3.0"/></g>
<path d="M980.1 1944.3L993.3 1944.3L1006.5 1944.3L1019.7 1944.3L1032.9 1944.2L1046.1 1944.2L1059.3 1944.1L1072.5 1944.1L1085.7 1944.0L1098.9 1943.9L1112.1 1943.8L1125.3 1943.8L1138.5 1943.7L1151.7 1943.6L1164.9 1943.5L1178.1 1943.4L1191.3 1943.2L1204.5 1943.1L1217.7 1943.0L1230.9 1942.9L1244.1 1942.9L1257.3 1942.8L1270.5 1942.7L1283.7 1942.6L1296.9 1942.6" stroke="#FFB5A8" stroke-width="1.5" fill="none"/>
<g fill="#FFB5A8" stroke="#000" stroke-width="1.2"><circle cx="980.1" cy="1944.3" r="3.0"/><circle cx="993.3" cy="1944.3" r="3.0"/><circle cx="1006.5" cy="1944.3" r="3.0"/><circle cx="1019.7" cy="1944.3" r="3.0"/><circle cx="1032.9" cy="1944.2" r="3.0"/><circle cx="1046.1" cy="1944.2" r="3.0"/><circle cx="1059.3" cy="1944.1" r="3.0"/><circle cx="1072.5" cy="1944.1" r="3.0"/><circle cx="1085.7" cy="1944.0" r="3.0"/><circle cx="1098.9" cy="1943.9" r="3.0"/><circle cx="1112.1" cy="1943.8" r="3.0"/><circle cx="1125.3" cy="1943.8" r="3.0"/><circle cx="1138.5" cy="1943.7" r="3.0"/><circle cx="1151.7" cy="1943.6" r="3.0"/><circle cx="1164.9" cy="1943.5" r="3.0"/><circle cx="1178.1" cy="1943.4" r="3.0"/><circle cx="1191.3" cy="1943.2" r="3.0"/><circle cx="1204.5" cy="1943.1" r="3.0"/><circle cx="1217.7" cy="1943.0" r="3.0"/><circle cx="1230.9" cy="1942.9" r="3.0"/><circle cx="1244.1" cy="1942.9" r="3.0"/><circle cx="1257.3" cy="1942.8" r="3.0"/><circle cx="1270.5" cy="1942.7" r="3.0"/><circle cx="1283.7" cy="1942.6" r="3.0"/><circle cx="1296.9" cy="1942.6" r="3.0"/></g>
<path d="M980.1 1944.1L993.3 1944.1L1006.5 1944.1L1019.7 1944.0L1032.9 1944.0L1046.1 1943.9L1059.3 1943.8L1072.5 1943.6L1085.7 1943.5L1098.9 1943.3L1112.1 1943.2L1125.3 1943.0L1138.5 1942.8L1151.7 1942.6L1164.9 1942.3L1178.1 1942.1L1191.3 1941.9L1204.5 1941.7L1217.7 1941.4L1230.9 1941.2L1244.1 1941.1L1257.3 1940.9L1270.5 1940.7L1283.7 1940.6L1296.9 1940.5" stroke="#FF9B8A" stroke-width="1.5" fill="none"/>
<g fill="#FF9B8A" stroke="#000" stroke-width="1.2"><circle cx="980.1" cy="1944.1" r="3.0"/><circle cx="993.3" cy="1944.1" r="3.0"/><circle cx="1006.5" cy="1944.1" r="3.0"/><circle cx="1019.7" cy="1944.0" r="3.0"/><circle cx="1032.9" cy="1944.0" r="3.0"/><circle cx="1046.1" cy="1943.9" r="3.0"/><circle cx="1059.3" cy="1943.8" r="3.0"/><circle cx="1072.5" cy="1943.6" r="3.0"/><circle cx="1085.7" cy="1943.5" r="3.0"/><circle cx="1098.9" cy="1943.3" r="3.0"/><circle cx="1112.1" cy="1943.2" r="3.0"/><circle cx="1125.3" cy="1943.0" r="3.0"/><circle cx="1138.5" cy="1942.8" r="3.0"/><circle cx="1151.7" cy="1942.6" r="3.0"/><circle cx="1164.9" cy="1942.3" r="3.0"/><circle cx="1178.1" cy="1942.1" r="3.0"/><circle cx="1191.3" cy="1941.9" r="3.0"/><circle cx="1204.5" cy="1941.7" r="3.0"/><circle cx="1217.7" cy="1941.4" r="3.0"/><circle cx="1230.9" cy="1941.2" r="3.0"/><circle cx="1244.1" cy="1941.1" r="3.0"/><circle cx="1257.3" cy="1940.9" r="3.0"/><circle cx="1270.5" cy="1940.7" r="3.0"/><circle cx="1283.7" cy="1940.6" r="3.0"/><circle cx="1296.9" cy="1940.5" r="3.0"/></g>
<path d="M980.1 1944.1L993.3 1944.1L1006.5 1944.1L1019.7 1944.0L1032.9 1943.8L1046.1 1943.5L1059.3 1943.1L1072.5 1942.7L1085.7 1942.3L1098.9 1941.8L1112.1 1941.2L1125.3 1940.6L1138.5 1939.9L1151.7 1939.1L1164.9 1938.3L1178.1 1937.5L1191.3 1936.6L1204.5 1935.8L1217.7 1934.9L1230.9 1934.1L1244.1 1933.4L1257.3 1932.7L1270.5 1932.0L1283.7 1931.5L1296.9 1931.0" stroke="#FF816B" stroke-width="1.5" fill="none"/>
<g fill="#FF816B" stroke="#000" stroke-width="1.2"><circle cx="980.1" cy="1944.1" r="3.0"/><circle cx="993.3" cy="1944.1" r="3.0"/><circle cx="1006.5" cy="1944.1" r="3.0"/><circle cx="1019.7" cy="1944.0" r="3.0"/><circle cx="1032.9" cy="1943.8" r="3.0"/><circle cx="1046.1" cy="1943.5" r="3.0"/><circle cx="1059.3" cy="1943.1" r="3.0"/><circle cx="1072.5" cy="1942.7" r="3.0"/><circle cx="1085.7" cy="1942.3" r="3.0"/><circle cx="1098.9" cy="1941.8" r="3.0"/><circle cx="1112.1" cy="1941.2" r="3.0"/><circle cx="1125.3" cy="1940.6" r="3.0"/><circle cx="1138.5" cy="1939.9" r="3.0"/><circle cx="1151.7" cy="1939.1" r="3.0"/><circle cx="1164.9" cy="1938.3" r="3.0"/><circle cx="1178.1" cy="1937.5" r="3.0"/><circle cx="1191.3" cy="1936.6" r="3.0"/><circle cx="1204.5" cy="1935.8" r="3.0"/><circle cx="1217.7" cy="1934.9" r="3.0"/><circle cx="1230.9" cy="1934.1" r="3.0"/><circle cx="1244.1" cy="1933.4" r="3.0"/><circle cx="1257.3" cy="1932.7" r="3.0"/><circle cx="1270.5" cy="1932.0" r="3.0"/><circle cx="1283.7" cy="1931.5" r="3.0"/><circle cx="1296.9" cy="1931.0" r="3.0"/></g>
<path d="M980.1 1944.1L993.3 1944.1L1006.5 1944.1L1019.7 1944.0L1032.9 1943.7L1046.1 1943.2L1059.3 1942.6L1072.5 1942.0L1085.7 1941.4L1098.9 1940.6L1112.1 1939.7L1125.3 1938.7L1138.5 1937.6L1151.7 1936.4L1164.9 1935.2L1178.1 1933.8L1191.3 1932.5L1204.5 1931.1L1217.7 1929.7L1230.9 1928.4L1244.1 1927.1L1257.3 1925.9L1270.5 1924.8L1283.7 1923.8L1296.9 1922.9" stroke="#FF6347" stroke-width="1.5" fill="none"/>
<g fill="#FF6347" stroke="#000" stroke-width="1.2"><circle cx="980.1" cy="1944.1" r="3.0"/><circle cx="993.3" cy="1944.1" r="3.0"/><circle cx="1006.5" cy="1944.1" r="3.0"/><circle cx="1019.7" cy="1944.0" r="3.0"/><circle cx="1032.9" cy="1943.7" r="3.0"/><circle cx="1046.1" cy="1943.2" r="3.0"/><circle cx="1059.3" cy="1942.6" r="3.0"/><circle cx="1072.5" cy="1942.0" r="3.0"/><circle cx="1085.7" cy="1941.4" r="3.0"/><circle cx="1098.9" cy="1940.6" r="3.0"/><circle cx="1112.1" cy="1939.7" r="3.0"/><circle cx="1125.3" cy="1938.7" r="3.0"/><circle cx="1138.5" cy="1937.6" r="3.0"/><circle cx="1151.7" cy="1936.4" r="3.0"/><circle cx="1164.9" cy="1935.2" r="3.0"/><circle cx="1178.1" cy="1933.8" r="3.0"/><circle cx="1191.3" cy="1932.5" r="3.0"/><circle cx="1204.5" cy="1931.1" r="3.0"/><circle cx="1217.7" cy="1929.7" r="3.0"/><circle cx="1230.9" cy="1928.4" r="3.0"/><circle cx="1244.1" cy="1927.1" r="3.0"/><circle cx="1257.3" cy="1925.9" r="3.0"/><circle cx="1270.5" cy="1924.8" r="3.0"/><circle cx="1283.7" cy="1923.8" r="3.0"/><circle cx="1296.9" cy="1922.9" r="3.0"/></g>
<path d="M980.1 1944.1L993.3 1944.1L1006.5 1944.1L1019.7 1944.0L1032.9 1943.5L1046.1 1942.8L1059.3 1941.9L1072.5 1941.0L1085.7 1940.0L1098.9 1938.8L1112.1 1937.4L1125.3 1935.9L1138.5 1934.2L1151.7 1932.3L1164.9 1930.3L1178.1 1928.1L1191.3 1925.9L1204.5 1923.6L1217.7 1921.4L1230.9 1919.1L1244.1 1917.0L1257.3 1915.0L1270.5 1913.1L1283.7 1911.4L1296.9 1909.9" stroke="#FF4424" stroke-width="1.5" fill="none"/>
<g fill="#FF4424" stroke="#000" stroke-width="1.2"><circle cx="980.1" cy="1944.1" r="3.0"/><circle cx="993.3" cy="1944.1" r="3.0"/><circle cx="1006.5" cy="1944.1" r="3.0"/><circle cx="1019.7" cy="1944.0" r="3.0"/><circle cx="1032.9" cy="1943.5" r="3.0"/><circle cx="1046.1" cy="1942.8" r="3.0"/><circle cx="1059.3" cy="1941.9" r="3.0"/><circle cx="1072.5" cy="1941.0" r="3.0"/><circle cx="1085.7" cy="1940.0" r="3.0"/><circle cx="1098.9" cy="1938.8" r="3.0"/><circle cx="1112.1" cy="1937.4" r="3.0"/><circle cx="1125.3" cy="1935.9" r="3.0"/><circle cx="1138.5" cy="1934.2" r="3.0"/><circle cx="1151.7" cy="1932.3" r="3.0"/><circle cx="1164.9" cy="1930.3" r="3.0"/><circle cx="1178.1" cy="1928.1" r="3.0"/><circle cx="1191.3" cy="1925.9" r="3.0"/><circle cx="1204.5" cy="1923.6" r="3.0"/><circle cx="1217.7" cy="1921.4" r="3.0"/><circle cx="1230.9" cy="1919.1" r="3.0"/><circle cx="1244.1" cy="1917.0" r="3.0"/><circle cx="1257.3" cy="1915.0" r="3.0"/><circle cx="1270.5" cy="1913.1" r="3.0"/><circle cx="1283.7" cy="1911.4" r="3.0"/><circle cx="1296.9" cy="1909.9" r="3.0"/></g>
<path d="M980.1 1944.1L993.3 1944.1L1006.5 1944.1L1019.7 1943.9L1032.9 1943.4L1046.1 1942.6L1059.3 1941.6L1072.5 1940.6L1085.7 1939.5L1098.9 1938.2L1112.1 1936.7L1125.3 1934.9L1138.5 1933.0L1151.7 1931.0L1164.9 1928.7L1178.1 1926.3L1191.3 1923.8L1204.5 1921.3L1217.7 1918.8L1230.9 1916.3L1244.1 1913.9L1257.3 1911.7L1270.5 1909.6L1283.7 1907.7L1296.9 1906.0" stroke="#FF2600" stroke-width="1.5" fill="none"/>
<g fill="#FF2600" stroke="#000" stroke-width="1.2"><circle cx="980.1" cy="1944.1" r="3.0"/><circle cx="993.3" cy="1944.1" r="3.0"/><circle cx="1006.5" cy="1944.1" r="3.0"/><circle cx="1019.7" cy="1943.9" r="3.0"/><circle cx="1032.9" cy="1943.4" r="3.0"/><circle cx="1046.1" cy="1942.6" r="3.0"/><circle cx="1059.3" cy="1941.6" r="3.0"/><circle cx="1072.5" cy="1940.6" r="3.0"/><circle cx="1085.7" cy="1939.5" r="3.0"/><circle cx="1098.9" cy="1938.2" r="3.0"/><circle cx="1112.1" cy="1936.7" r="3.0"/><circle cx="1125.3" cy="1934.9" r="3.0"/><circle cx="1138.5" cy="1933.0" r="3.0"/><circle cx="1151.7" cy="1931.0" r="3.0"/><circle cx="1164.9" cy="1928.7" r="3.0"/><circle cx="1178.1" cy="1926.3" r="3.0"/><circle cx="1191.3" cy="1923.8" r="3.0"/><circle cx="1204.5" cy="1921.3" r="3.0"/><circle cx="1217.7" cy="1918.8" r="3.0"/><circle cx="1230.9" cy="1916.3" r="3.0"/><circle cx="1244.1" cy="1913.9" r="3.0"/><circle cx="1257.3" cy="1911.7" r="3.0"/><circle cx="1270.5" cy="1909.6" r="3.0"/><circle cx="1283.7" cy="1907.7" r="3.0"/><circle cx="1296.9" cy="1906.0" r="3.0"/></g>
<path d="M980.1 1945.7L993.3 1945.7L1006.5 1945.7L1019.7 1945.7L1032.9 1945.7L1046.1 1945.7L1059.3 1945.7L1072.5 1945.7L1085.7 1945.7L1098.9 1945.7L1112.1 1945.7L1125.3 1945.7L1138.5 1945.7L1151.7 1945.7L1164.9 1945.7L1178.1 1945.7L1191.3 1945.7L1204.5 1945.7L1217.7 1945.7L1230.9 1945.7L1244.1 1945.7L1257.3 1945.7L1270.5 1945.7L1283.7 1945.7L1296.9 1945.7" stroke="#E6E6E6" stroke-width="1.5" fill="none"/>
<g fill="#E6E6E6" stroke="#000" stroke-width="1.2"><circle cx="980.1" cy="1945.7" r="3.0"/><circle cx="993.3" cy="1945.7" r="3.0"/><circle cx="1006.5" cy="1945.7" r="3.0"/><circle cx="1019.7" cy="1945.7" r="3.0"/><circle cx="1032.9" cy="1945.7" r="3.0"/><circle cx="1046.1" cy="1945.7" r="3.0"/><circle cx="1059.3" cy="1945.7" r="3.0"/><circle cx="1072.5" cy="1945.7" r="3.0"/><circle cx="1085.7" cy="1945.7" r="3.0"/><circle cx="1098.9" cy="1945.7" r="3.0"/><circle cx="1112.1" cy="1945.7" r="3.0"/><circle cx="1125.3" cy="1945.7" r="3.0"/><circle cx="1138.5" cy="1945.7" r="3.0"/><circle cx="1151.7" cy="1945.7" r="3.0"/><circle cx="1164.9" cy="1945.7" r="3.0"/><circle cx="1178.1" cy="1945.7" r="3.0"/><circle cx="1191.3" cy="1945.7" r="3.0"/><circle cx="1204.5" cy="1945.7" r="3.0"/><circle cx="1217.7" cy="1945.7" r="3.0"/><circle cx="1230.9" cy="1945.7" r="3.0"/><circle cx="1244.1" cy="1945.7" r="3.0"/><circle cx="1257.3" cy="1945.7" r="3.0"/><circle cx="1270.5" cy="1945.7" r="3.0"/><circle cx="1283.7" cy="1945.7" r="3.0"/><circle cx="1296.9" cy="1945.7" r="3.0"/></g>
<path d="M1010.8 1903.5h5.2V1927.7L1020.1 1925.2L1013.4 1940.2L1006.7 1925.2L1010.8 1927.7Z" fill="#FC0024"/>
</g>
<g>
<text x="1538.7" y="1717.9" font-size="31.4" text-anchor="middle">mC-D83A BAK + BID</text>
<text x="1538.7" y="1749.8" font-size="31.4" text-anchor="middle">+ T/C + qVD</text>
<path d="M1380.2 1734.5V1948.0" stroke="#000" stroke-width="2.4" fill="none"/>
<path d="M1379.0 1946.8H1698.2" stroke="#000" stroke-width="2.4" fill="none"/>
<path d="M1371.5 1946.8H1380.2M1371.5 1894.0H1380.2M1371.5 1841.2H1380.2M1371.5 1788.5H1380.2M1371.5 1735.7H1380.2" stroke="#000" stroke-width="2.4" fill="none"/>
<path d="M1380.2 1946.8v9.7M1393.4 1946.8v5.6M1406.6 1946.8v5.6M1419.8 1946.8v5.6M1433.0 1946.8v5.6M1446.2 1946.8v5.6M1459.4 1946.8v5.6M1472.6 1946.8v5.6M1485.8 1946.8v5.6M1499.0 1946.8v5.6M1512.2 1946.8v9.7M1525.4 1946.8v5.6M1538.6 1946.8v5.6M1551.8 1946.8v5.6M1565.0 1946.8v5.6M1578.2 1946.8v5.6M1591.4 1946.8v5.6M1604.6 1946.8v5.6M1617.8 1946.8v5.6M1631.0 1946.8v5.6M1644.2 1946.8v9.7M1657.4 1946.8v5.6M1670.6 1946.8v5.6M1683.8 1946.8v5.6M1697.0 1946.8v5.6" stroke="#000" stroke-width="2.4" fill="none"/>
<text x="1367.5" y="1954.4" font-size="27.3" text-anchor="end">0</text>
<text x="1367.5" y="1901.6" font-size="27.3" text-anchor="end">50</text>
<text x="1367.5" y="1848.8" font-size="27.3" text-anchor="end">100</text>
<text x="1367.5" y="1796.1" font-size="27.3" text-anchor="end">150</text>
<text x="1367.5" y="1743.3" font-size="27.3" text-anchor="end">200</text>
<text x="1380.6" y="1979.7" font-size="27.3" text-anchor="middle">0</text>
<text x="1512.6" y="1979.7" font-size="27.3" text-anchor="middle">20</text>
<text x="1644.6" y="1979.7" font-size="27.3" text-anchor="middle">40</text>
<text x="1539.0" y="2010.5" font-size="31.4" text-anchor="middle">Time (hr)</text>
<path d="M1429.0 1761.5H1452.7" stroke="#E6E6E6" stroke-width="1.6"/>
<circle cx="1440.8" cy="1761.5" r="3.0" fill="#E6E6E6" stroke="#000" stroke-width="1.1"/>
<text x="1463.4" y="1769.1" font-size="21.7">0</text>
<path d="M1429.0 1778.9H1452.7" stroke="#C8D2FF" stroke-width="1.6"/>
<circle cx="1440.8" cy="1778.9" r="3.0" fill="#C8D2FF" stroke="#000" stroke-width="1.1"/>
<text x="1463.4" y="1786.5" font-size="21.7">6.25</text>
<path d="M1429.0 1796.3H1452.7" stroke="#AABAFF" stroke-width="1.6"/>
<circle cx="1440.8" cy="1796.3" r="3.0" fill="#AABAFF" stroke="#000" stroke-width="1.1"/>
<text x="1463.4" y="1803.9" font-size="21.7">12.5</text>
<path d="M1429.0 1813.7H1452.7" stroke="#8CA1FF" stroke-width="1.6"/>
<circle cx="1440.8" cy="1813.7" r="3.0" fill="#8CA1FF" stroke="#000" stroke-width="1.1"/>
<text x="1463.4" y="1821.3" font-size="21.7">25</text>
<path d="M1429.0 1831.1H1452.7" stroke="#6D89FF" stroke-width="1.6"/>
<circle cx="1440.8" cy="1831.1" r="3.0" fill="#6D89FF" stroke="#000" stroke-width="1.1"/>
<text x="1463.4" y="1838.7" font-size="21.7">50</text>
<path d="M1429.0 1848.5H1452.7" stroke="#4A6CFF" stroke-width="1.6"/>
<circle cx="1440.8" cy="1848.5" r="3.0" fill="#4A6CFF" stroke="#000" stroke-width="1.1"/>
<text x="1463.4" y="1856.1" font-size="21.7">100</text>
<path d="M1429.0 1866.0H1452.7" stroke="#2750FF" stroke-width="1.6"/>
<circle cx="1440.8" cy="1866.0" r="3.0" fill="#2750FF" stroke="#000" stroke-width="1.1"/>
<text x="1463.4" y="1873.6" font-size="21.7">500</text>
<path d="M1429.0 1883.4H1452.7" stroke="#0433FF" stroke-width="1.6"/>
<circle cx="1440.8" cy="1883.4" r="3.0" fill="#0433FF" stroke="#000" stroke-width="1.1"/>
<text x="1463.4" y="1891.0" font-size="21.7">1000</text>
<path d="M1380.2 1945.7L1393.4 1945.7L1406.6 1945.7L1419.8 1945.7L1433.0 1945.7L1446.2 1945.7L1459.4 1945.7L1472.6 1945.7L1485.8 1945.7L1499.0 1945.7L1512.2 1945.7L1525.4 1945.7L1538.6 1945.7L1551.8 1945.7L1565.0 1945.7L1578.2 1945.7L1591.4 1945.7L1604.6 1945.7L1617.8 1945.7L1631.0 1945.7L1644.2 1945.7L1657.4 1945.7L1670.6 1945.7L1683.8 1945.7L1697.0 1945.7" stroke="#C8D2FF" stroke-width="1.5" fill="none"/>
<g fill="#C8D2FF" stroke="#000" stroke-width="1.2"><circle cx="1380.2" cy="1945.7" r="3.0"/><circle cx="1393.4" cy="1945.7" r="3.0"/><circle cx="1406.6" cy="1945.7" r="3.0"/><circle cx="1419.8" cy="1945.7" r="3.0"/><circle cx="1433.0" cy="1945.7" r="3.0"/><circle cx="1446.2" cy="1945.7" r="3.0"/><circle cx="1459.4" cy="1945.7" r="3.0"/><circle cx="1472.6" cy="1945.7" r="3.0"/><circle cx="1485.8" cy="1945.7" r="3.0"/><circle cx="1499.0" cy="1945.7" r="3.0"/><circle cx="1512.2" cy="1945.7" r="3.0"/><circle cx="1525.4" cy="1945.7" r="3.0"/><circle cx="1538.6" cy="1945.7" r="3.0"/><circle cx="1551.8" cy="1945.7" r="3.0"/><circle cx="1565.0" cy="1945.7" r="3.0"/><circle cx="1578.2" cy="1945.7" r="3.0"/><circle cx="1591.4" cy="1945.7" r="3.0"/><circle cx="1604.6" cy="1945.7" r="3.0"/><circle cx="1617.8" cy="1945.7" r="3.0"/><circle cx="1631.0" cy="1945.7" r="3.0"/><circle cx="1644.2" cy="1945.7" r="3.0"/><circle cx="1657.4" cy="1945.7" r="3.0"/><circle cx="1670.6" cy="1945.7" r="3.0"/><circle cx="1683.8" cy="1945.7" r="3.0"/><circle cx="1697.0" cy="1945.7" r="3.0"/></g>
<path d="M1380.2 1945.7L1393.4 1945.7L1406.6 1945.7L1419.8 1945.7L1433.0 1945.7L1446.2 1945.7L1459.4 1945.7L1472.6 1945.7L1485.8 1945.7L1499.0 1945.7L1512.2 1945.7L1525.4 1945.7L1538.6 1945.7L1551.8 1945.7L1565.0 1945.7L1578.2 1945.7L1591.4 1945.7L1604.6 1945.7L1617.8 1945.7L1631.0 1945.7L1644.2 1945.7L1657.4 1945.7L1670.6 1945.7L1683.8 1945.7L1697.0 1945.7" stroke="#AABAFF" stroke-width="1.5" fill="none"/>
<g fill="#AABAFF" stroke="#000" stroke-width="1.2"><circle cx="1380.2" cy="1945.7" r="3.0"/><circle cx="1393.4" cy="1945.7" r="3.0"/><circle cx="1406.6" cy="1945.7" r="3.0"/><circle cx="1419.8" cy="1945.7" r="3.0"/><circle cx="1433.0" cy="1945.7" r="3.0"/><circle cx="1446.2" cy="1945.7" r="3.0"/><circle cx="1459.4" cy="1945.7" r="3.0"/><circle cx="1472.6" cy="1945.7" r="3.0"/><circle cx="1485.8" cy="1945.7" r="3.0"/><circle cx="1499.0" cy="1945.7" r="3.0"/><circle cx="1512.2" cy="1945.7" r="3.0"/><circle cx="1525.4" cy="1945.7" r="3.0"/><circle cx="1538.6" cy="1945.7" r="3.0"/><circle cx="1551.8" cy="1945.7" r="3.0"/><circle cx="1565.0" cy="1945.7" r="3.0"/><circle cx="1578.2" cy="1945.7" r="3.0"/><circle cx="1591.4" cy="1945.7" r="3.0"/><circle cx="1604.6" cy="1945.7" r="3.0"/><circle cx="1617.8" cy="1945.7" r="3.0"/><circle cx="1631.0" cy="1945.7" r="3.0"/><circle cx="1644.2" cy="1945.7" r="3.0"/><circle cx="1657.4" cy="1945.7" r="3.0"/><circle cx="1670.6" cy="1945.7" r="3.0"/><circle cx="1683.8" cy="1945.7" r="3.0"/><circle cx="1697.0" cy="1945.7" r="3.0"/></g>
<path d="M1380.2 1945.2L1393.4 1945.2L1406.6 1945.2L1419.8 1945.2L1433.0 1945.2L1446.2 1945.2L1459.4 1945.2L1472.6 1945.2L1485.8 1945.2L1499.0 1945.2L1512.2 1945.2L1525.4 1945.2L1538.6 1945.2L1551.8 1945.2L1565.0 1945.2L1578.2 1945.2L1591.4 1945.2L1604.6 1945.2L1617.8 1945.2L1631.0 1945.2L1644.2 1945.2L1657.4 1945.2L1670.6 1945.2L1683.8 1945.2L1697.0 1945.2" stroke="#8CA1FF" stroke-width="1.5" fill="none"/>
<g fill="#8CA1FF" stroke="#000" stroke-width="1.2"><circle cx="1380.2" cy="1945.2" r="3.0"/><circle cx="1393.4" cy="1945.2" r="3.0"/><circle cx="1406.6" cy="1945.2" r="3.0"/><circle cx="1419.8" cy="1945.2" r="3.0"/><circle cx="1433.0" cy="1945.2" r="3.0"/><circle cx="1446.2" cy="1945.2" r="3.0"/><circle cx="1459.4" cy="1945.2" r="3.0"/><circle cx="1472.6" cy="1945.2" r="3.0"/><circle cx="1485.8" cy="1945.2" r="3.0"/><circle cx="1499.0" cy="1945.2" r="3.0"/><circle cx="1512.2" cy="1945.2" r="3.0"/><circle cx="1525.4" cy="1945.2" r="3.0"/><circle cx="1538.6" cy="1945.2" r="3.0"/><circle cx="1551.8" cy="1945.2" r="3.0"/><circle cx="1565.0" cy="1945.2" r="3.0"/><circle cx="1578.2" cy="1945.2" r="3.0"/><circle cx="1591.4" cy="1945.2" r="3.0"/><circle cx="1604.6" cy="1945.2" r="3.0"/><circle cx="1617.8" cy="1945.2" r="3.0"/><circle cx="1631.0" cy="1945.2" r="3.0"/><circle cx="1644.2" cy="1945.2" r="3.0"/><circle cx="1657.4" cy="1945.2" r="3.0"/><circle cx="1670.6" cy="1945.2" r="3.0"/><circle cx="1683.8" cy="1945.2" r="3.0"/><circle cx="1697.0" cy="1945.2" r="3.0"/></g>
<path d="M1380.2 1944.7L1393.4 1944.7L1406.6 1944.7L1419.8 1944.7L1433.0 1944.7L1446.2 1944.7L1459.4 1944.7L1472.6 1944.7L1485.8 1944.7L1499.0 1944.7L1512.2 1944.7L1525.4 1944.7L1538.6 1944.7L1551.8 1944.7L1565.0 1944.7L1578.2 1944.7L1591.4 1944.7L1604.6 1944.7L1617.8 1944.7L1631.0 1944.7L1644.2 1944.7L1657.4 1944.7L1670.6 1944.7L1683.8 1944.7L1697.0 1944.7" stroke="#6D89FF" stroke-width="1.5" fill="none"/>
<g fill="#6D89FF" stroke="#000" stroke-width="1.2"><circle cx="1380.2" cy="1944.7" r="3.0"/><circle cx="1393.4" cy="1944.7" r="3.0"/><circle cx="1406.6" cy="1944.7" r="3.0"/><circle cx="1419.8" cy="1944.7" r="3.0"/><circle cx="1433.0" cy="1944.7" r="3.0"/><circle cx="1446.2" cy="1944.7" r="3.0"/><circle cx="1459.4" cy="1944.7" r="3.0"/><circle cx="1472.6" cy="1944.7" r="3.0"/><circle cx="1485.8" cy="1944.7" r="3.0"/><circle cx="1499.0" cy="1944.7" r="3.0"/><circle cx="1512.2" cy="1944.7" r="3.0"/><circle cx="1525.4" cy="1944.7" r="3.0"/><circle cx="1538.6" cy="1944.7" r="3.0"/><circle cx="1551.8" cy="1944.7" r="3.0"/><circle cx="1565.0" cy="1944.7" r="3.0"/><circle cx="1578.2" cy="1944.7" r="3.0"/><circle cx="1591.4" cy="1944.7" r="3.0"/><circle cx="1604.6" cy="1944.7" r="3.0"/><circle cx="1617.8" cy="1944.7" r="3.0"/><circle cx="1631.0" cy="1944.7" r="3.0"/><circle cx="1644.2" cy="1944.7" r="3.0"/><circle cx="1657.4" cy="1944.7" r="3.0"/><circle cx="1670.6" cy="1944.7" r="3.0"/><circle cx="1683.8" cy="1944.7" r="3.0"/><circle cx="1697.0" cy="1944.7" r="3.0"/></g>
<path d="M1380.2 1944.6L1393.4 1944.6L1406.6 1944.6L1419.8 1944.6L1433.0 1944.6L1446.2 1944.6L1459.4 1944.6L1472.6 1944.6L1485.8 1944.6L1499.0 1944.5L1512.2 1944.5L1525.4 1944.5L1538.6 1944.5L1551.8 1944.5L1565.0 1944.4L1578.2 1944.4L1591.4 1944.4L1604.6 1944.3L1617.8 1944.3L1631.0 1944.3L1644.2 1944.3L1657.4 1944.2L1670.6 1944.2L1683.8 1944.2L1697.0 1944.2" stroke="#4A6CFF" stroke-width="1.5" fill="none"/>
<g fill="#4A6CFF" stroke="#000" stroke-width="1.2"><circle cx="1380.2" cy="1944.6" r="3.0"/><circle cx="1393.4" cy="1944.6" r="3.0"/><circle cx="1406.6" cy="1944.6" r="3.0"/><circle cx="1419.8" cy="1944.6" r="3.0"/><circle cx="1433.0" cy="1944.6" r="3.0"/><circle cx="1446.2" cy="1944.6" r="3.0"/><circle cx="1459.4" cy="1944.6" r="3.0"/><circle cx="1472.6" cy="1944.6" r="3.0"/><circle cx="1485.8" cy="1944.6" r="3.0"/><circle cx="1499.0" cy="1944.5" r="3.0"/><circle cx="1512.2" cy="1944.5" r="3.0"/><circle cx="1525.4" cy="1944.5" r="3.0"/><circle cx="1538.6" cy="1944.5" r="3.0"/><circle cx="1551.8" cy="1944.5" r="3.0"/><circle cx="1565.0" cy="1944.4" r="3.0"/><circle cx="1578.2" cy="1944.4" r="3.0"/><circle cx="1591.4" cy="1944.4" r="3.0"/><circle cx="1604.6" cy="1944.3" r="3.0"/><circle cx="1617.8" cy="1944.3" r="3.0"/><circle cx="1631.0" cy="1944.3" r="3.0"/><circle cx="1644.2" cy="1944.3" r="3.0"/><circle cx="1657.4" cy="1944.2" r="3.0"/><circle cx="1670.6" cy="1944.2" r="3.0"/><circle cx="1683.8" cy="1944.2" r="3.0"/><circle cx="1697.0" cy="1944.2" r="3.0"/></g>
<path d="M1380.2 1944.6L1393.4 1944.6L1406.6 1944.6L1419.8 1944.6L1433.0 1944.6L1446.2 1944.6L1459.4 1944.6L1472.6 1944.5L1485.8 1944.5L1499.0 1944.5L1512.2 1944.4L1525.4 1944.4L1538.6 1944.3L1551.8 1944.3L1565.0 1944.2L1578.2 1944.2L1591.4 1944.1L1604.6 1944.0L1617.8 1944.0L1631.0 1943.9L1644.2 1943.8L1657.4 1943.8L1670.6 1943.7L1683.8 1943.7L1697.0 1943.6" stroke="#2750FF" stroke-width="1.5" fill="none"/>
<g fill="#2750FF" stroke="#000" stroke-width="1.2"><circle cx="1380.2" cy="1944.6" r="3.0"/><circle cx="1393.4" cy="1944.6" r="3.0"/><circle cx="1406.6" cy="1944.6" r="3.0"/><circle cx="1419.8" cy="1944.6" r="3.0"/><circle cx="1433.0" cy="1944.6" r="3.0"/><circle cx="1446.2" cy="1944.6" r="3.0"/><circle cx="1459.4" cy="1944.6" r="3.0"/><circle cx="1472.6" cy="1944.5" r="3.0"/><circle cx="1485.8" cy="1944.5" r="3.0"/><circle cx="1499.0" cy="1944.5" r="3.0"/><circle cx="1512.2" cy="1944.4" r="3.0"/><circle cx="1525.4" cy="1944.4" r="3.0"/><circle cx="1538.6" cy="1944.3" r="3.0"/><circle cx="1551.8" cy="1944.3" r="3.0"/><circle cx="1565.0" cy="1944.2" r="3.0"/><circle cx="1578.2" cy="1944.2" r="3.0"/><circle cx="1591.4" cy="1944.1" r="3.0"/><circle cx="1604.6" cy="1944.0" r="3.0"/><circle cx="1617.8" cy="1944.0" r="3.0"/><circle cx="1631.0" cy="1943.9" r="3.0"/><circle cx="1644.2" cy="1943.8" r="3.0"/><circle cx="1657.4" cy="1943.8" r="3.0"/><circle cx="1670.6" cy="1943.7" r="3.0"/><circle cx="1683.8" cy="1943.7" r="3.0"/><circle cx="1697.0" cy="1943.6" r="3.0"/></g>
<path d="M1380.2 1944.3L1393.4 1944.3L1406.6 1944.3L1419.8 1944.3L1433.0 1944.2L1446.2 1944.2L1459.4 1944.2L1472.6 1944.1L1485.8 1944.1L1499.0 1944.0L1512.2 1944.0L1525.4 1943.9L1538.6 1943.8L1551.8 1943.7L1565.0 1943.6L1578.2 1943.5L1591.4 1943.4L1604.6 1943.3L1617.8 1943.2L1631.0 1943.0L1644.2 1942.9L1657.4 1942.8L1670.6 1942.7L1683.8 1942.7L1697.0 1942.6" stroke="#0433FF" stroke-width="1.5" fill="none"/>
<g fill="#0433FF" stroke="#000" stroke-width="1.2"><circle cx="1380.2" cy="1944.3" r="3.0"/><circle cx="1393.4" cy="1944.3" r="3.0"/><circle cx="1406.6" cy="1944.3" r="3.0"/><circle cx="1419.8" cy="1944.3" r="3.0"/><circle cx="1433.0" cy="1944.2" r="3.0"/><circle cx="1446.2" cy="1944.2" r="3.0"/><circle cx="1459.4" cy="1944.2" r="3.0"/><circle cx="1472.6" cy="1944.1" r="3.0"/><circle cx="1485.8" cy="1944.1" r="3.0"/><circle cx="1499.0" cy="1944.0" r="3.0"/><circle cx="1512.2" cy="1944.0" r="3.0"/><circle cx="1525.4" cy="1943.9" r="3.0"/><circle cx="1538.6" cy="1943.8" r="3.0"/><circle cx="1551.8" cy="1943.7" r="3.0"/><circle cx="1565.0" cy="1943.6" r="3.0"/><circle cx="1578.2" cy="1943.5" r="3.0"/><circle cx="1591.4" cy="1943.4" r="3.0"/><circle cx="1604.6" cy="1943.3" r="3.0"/><circle cx="1617.8" cy="1943.2" r="3.0"/><circle cx="1631.0" cy="1943.0" r="3.0"/><circle cx="1644.2" cy="1942.9" r="3.0"/><circle cx="1657.4" cy="1942.8" r="3.0"/><circle cx="1670.6" cy="1942.7" r="3.0"/><circle cx="1683.8" cy="1942.7" r="3.0"/><circle cx="1697.0" cy="1942.6" r="3.0"/></g>
<path d="M1380.2 1946.3L1393.4 1946.3L1406.6 1946.3L1419.8 1946.3L1433.0 1946.3L1446.2 1946.3L1459.4 1946.3L1472.6 1946.3L1485.8 1946.3L1499.0 1946.3L1512.2 1946.3L1525.4 1946.3L1538.6 1946.3L1551.8 1946.3L1565.0 1946.3L1578.2 1946.3L1591.4 1946.3L1604.6 1946.3L1617.8 1946.3L1631.0 1946.3L1644.2 1946.3L1657.4 1946.3L1670.6 1946.3L1683.8 1946.3L1697.0 1946.3" stroke="#E6E6E6" stroke-width="1.5" fill="none"/>
<g fill="#E6E6E6" stroke="#000" stroke-width="1.2"><circle cx="1380.2" cy="1946.3" r="3.0"/><circle cx="1393.4" cy="1946.3" r="3.0"/><circle cx="1406.6" cy="1946.3" r="3.0"/><circle cx="1419.8" cy="1946.3" r="3.0"/><circle cx="1433.0" cy="1946.3" r="3.0"/><circle cx="1446.2" cy="1946.3" r="3.0"/><circle cx="1459.4" cy="1946.3" r="3.0"/><circle cx="1472.6" cy="1946.3" r="3.0"/><circle cx="1485.8" cy="1946.3" r="3.0"/><circle cx="1499.0" cy="1946.3" r="3.0"/><circle cx="1512.2" cy="1946.3" r="3.0"/><circle cx="1525.4" cy="1946.3" r="3.0"/><circle cx="1538.6" cy="1946.3" r="3.0"/><circle cx="1551.8" cy="1946.3" r="3.0"/><circle cx="1565.0" cy="1946.3" r="3.0"/><circle cx="1578.2" cy="1946.3" r="3.0"/><circle cx="1591.4" cy="1946.3" r="3.0"/><circle cx="1604.6" cy="1946.3" r="3.0"/><circle cx="1617.8" cy="1946.3" r="3.0"/><circle cx="1631.0" cy="1946.3" r="3.0"/><circle cx="1644.2" cy="1946.3" r="3.0"/><circle cx="1657.4" cy="1946.3" r="3.0"/><circle cx="1670.6" cy="1946.3" r="3.0"/><circle cx="1683.8" cy="1946.3" r="3.0"/><circle cx="1697.0" cy="1946.3" r="3.0"/></g>
<path d="M1410.3 1903.5h5.2V1927.7L1419.6 1925.2L1412.9 1940.2L1406.2 1925.2L1410.3 1927.7Z" fill="#FC0024"/>
</g>
<text x="1.5" y="2082.0" font-size="46" font-weight="bold">f</text>
<g>
<text x="386.2" y="2104.5" font-size="31.4" text-anchor="middle">mC-BAK + BID</text>
<text x="386.4" y="2137.6" font-size="31.4" text-anchor="middle">± qVD AUC 48 hr</text>
<path d="M227.8 2147.5V2361.0" stroke="#000" stroke-width="2.7" fill="none"/>
<path d="M226.5 2359.7H546.4" stroke="#000" stroke-width="2.7" fill="none"/>
<text x="215.8" y="2367.0" font-size="24.5" text-anchor="end">0</text>
<text x="215.8" y="2315.4" font-size="28" text-anchor="end">1000</text>
<text x="215.8" y="2262.7" font-size="28" text-anchor="end">2000</text>
<text x="215.8" y="2209.9" font-size="28" text-anchor="end">3000</text>
<text x="215.8" y="2157.2" font-size="28" text-anchor="end">4000</text>
<text x="273.9" y="2392.6" font-size="27.3" text-anchor="middle">10</text>
<text x="411.7" y="2392.6" font-size="27.3" text-anchor="middle">100</text>
<text x="549.5" y="2392.6" font-size="27.3" text-anchor="middle">1000</text>
<path d="M217.2 2359.7H227.8M217.2 2307.0H227.8M217.2 2254.2H227.8M217.2 2201.5H227.8M217.2 2148.8H227.8M269.4 2359.7v10M407.2 2359.7v10M545.0 2359.7v10M227.8 2359.7v5.5M238.8 2359.7v5.5M248.1 2359.7v5.5M256.0 2359.7v5.5M263.1 2359.7v5.5M310.9 2359.7v5.5M335.1 2359.7v5.5M352.4 2359.7v5.5M365.7 2359.7v5.5M376.6 2359.7v5.5M385.9 2359.7v5.5M393.8 2359.7v5.5M400.9 2359.7v5.5M448.7 2359.7v5.5M472.9 2359.7v5.5M490.2 2359.7v5.5M503.5 2359.7v5.5M514.4 2359.7v5.5M523.7 2359.7v5.5M531.6 2359.7v5.5M538.7 2359.7v5.5" stroke="#000" stroke-width="2.7" fill="none"/>
<text x="386.7" y="2423.3" font-size="31.4" text-anchor="middle">Dox (ng/mL)</text>
<text x="79.8" y="2249.0" font-size="31.4" text-anchor="middle" transform="rotate(-90 79.8 2249.0)">Cell death</text>
<text x="111.1" y="2249.0" font-size="31.4" text-anchor="middle" transform="rotate(-90 111.1 2249.0)">SYTOX Green</text>
<text x="143.1" y="2249.0" font-size="31.4" text-anchor="middle" transform="rotate(-90 143.1 2249.0)">counts/confluence</text>
<path d="M241.3 2357.2L282.8 2356.5L324.2 2355.9L365.7 2355.1L407.2 2354.1L503.5 2354.4L545.0 2354.4" stroke="#000" stroke-width="1.3" fill="none"/>
<g fill="#0433FF" stroke="#000" stroke-width="2.6"><circle cx="241.3" cy="2357.2" r="4.5"/><circle cx="282.8" cy="2356.5" r="4.5"/><circle cx="324.2" cy="2355.9" r="4.5"/><circle cx="365.7" cy="2355.1" r="4.5"/><circle cx="407.2" cy="2354.1" r="4.5"/><circle cx="503.5" cy="2354.4" r="4.5"/><circle cx="545.0" cy="2354.4" r="4.5"/></g>
<path d="M241.3 2356.5L282.8 2353.0L324.2 2350.2L365.7 2345.6L407.2 2341.0L503.5 2336.1L545.0 2339.7" stroke="#000" stroke-width="1.3" fill="none"/>
<g fill="#FF2600" stroke="#000" stroke-width="2.6"><circle cx="241.3" cy="2356.5" r="4.5"/><circle cx="282.8" cy="2353.0" r="4.5"/><circle cx="324.2" cy="2350.2" r="4.5"/><circle cx="365.7" cy="2345.6" r="4.5"/><circle cx="407.2" cy="2341.0" r="4.5"/><circle cx="503.5" cy="2336.1" r="4.5"/><circle cx="545.0" cy="2339.7" r="4.5"/></g>
<path d="M241.3 2353.7L282.8 2346.7L324.2 2338.9L365.7 2334.0L407.2 2330.5L503.5 2330.1L545.0 2326.6" stroke="#0433FF" stroke-width="1.3" fill="none"/>
<g fill="#0433FF"><circle cx="241.3" cy="2353.7" r="5.4"/><circle cx="282.8" cy="2346.7" r="5.4"/><circle cx="324.2" cy="2338.9" r="5.4"/><circle cx="365.7" cy="2334.0" r="5.4"/><circle cx="407.2" cy="2330.5" r="5.4"/><circle cx="503.5" cy="2330.1" r="5.4"/><circle cx="545.0" cy="2326.6" r="5.4"/></g>
<path d="M241.3 2347.7L282.8 2332.6L324.2 2319.2L365.7 2294.9L407.2 2287.2L503.5 2274.5L545.0 2275.2" stroke="#FF2600" stroke-width="1.3" fill="none"/>
<g fill="#FF2600"><circle cx="241.3" cy="2347.7" r="5.4"/><circle cx="282.8" cy="2332.6" r="5.4"/><circle cx="324.2" cy="2319.2" r="5.4"/><circle cx="365.7" cy="2294.9" r="5.4"/><circle cx="407.2" cy="2287.2" r="5.4"/><circle cx="503.5" cy="2274.5" r="5.4"/><circle cx="545.0" cy="2275.2" r="5.4"/></g>
<path d="M234.5 2154.6H257.6" stroke="#FF2600" stroke-width="1.6"/>
<circle cx="246.1" cy="2154.6" r="5.4" fill="#FF2600"/>
<text x="267.6" y="2162.2" font-size="22">V74A</text>
<path d="M234.5 2172.8H257.6" stroke="#0433FF" stroke-width="1.6"/>
<circle cx="246.1" cy="2172.8" r="5.4" fill="#0433FF"/>
<text x="267.6" y="2180.4" font-size="22">D83A</text>
<path d="M234.5 2190.9H257.6" stroke="#000" stroke-width="1.6"/>
<circle cx="246.1" cy="2190.9" r="4.5" fill="#FF2600" stroke="#000" stroke-width="2.6"/>
<text x="267.6" y="2198.5" font-size="22">V74A + qVD</text>
<path d="M234.5 2208.7H257.6" stroke="#000" stroke-width="1.6"/>
<circle cx="246.1" cy="2208.7" r="4.5" fill="#0433FF" stroke="#000" stroke-width="2.6"/>
<text x="267.6" y="2216.3" font-size="22">D83A + qVD</text>
</g>
<g>
<text x="794.8" y="2104.5" font-size="31.4" text-anchor="middle">mC-BAK + BID + T/C</text>
<text x="799.0" y="2137.6" font-size="31.4" text-anchor="middle">± qVD AUC 48 hr</text>
<path d="M636.9 2147.5V2361.0" stroke="#000" stroke-width="2.7" fill="none"/>
<path d="M635.5 2359.7H954.8" stroke="#000" stroke-width="2.7" fill="none"/>
<text x="624.9" y="2367.0" font-size="24.5" text-anchor="end">0</text>
<text x="624.9" y="2315.4" font-size="28" text-anchor="end">1000</text>
<text x="624.9" y="2262.7" font-size="28" text-anchor="end">2000</text>
<text x="624.9" y="2209.9" font-size="28" text-anchor="end">3000</text>
<text x="624.9" y="2157.2" font-size="28" text-anchor="end">4000</text>
<text x="682.3" y="2392.6" font-size="27.3" text-anchor="middle">10</text>
<text x="820.1" y="2392.6" font-size="27.3" text-anchor="middle">100</text>
<text x="957.9" y="2392.6" font-size="27.3" text-anchor="middle">1000</text>
<path d="M626.3 2359.7H636.9M626.3 2307.0H636.9M626.3 2254.2H636.9M626.3 2201.5H636.9M626.3 2148.8H636.9M677.8 2359.7v10M815.6 2359.7v10M953.4 2359.7v10M636.9 2359.7v5.5M647.2 2359.7v5.5M656.5 2359.7v5.5M664.4 2359.7v5.5M671.5 2359.7v5.5M719.3 2359.7v5.5M743.5 2359.7v5.5M760.8 2359.7v5.5M774.1 2359.7v5.5M785.0 2359.7v5.5M794.3 2359.7v5.5M802.2 2359.7v5.5M809.3 2359.7v5.5M857.1 2359.7v5.5M881.3 2359.7v5.5M898.6 2359.7v5.5M911.9 2359.7v5.5M922.8 2359.7v5.5M932.1 2359.7v5.5M940.0 2359.7v5.5M947.1 2359.7v5.5" stroke="#000" stroke-width="2.7" fill="none"/>
<text x="795.2" y="2423.3" font-size="31.4" text-anchor="middle">Dox (ng/mL)</text>
<path d="M649.7 2354.8L691.2 2353.7L732.6 2353.0L774.1 2353.0L815.6 2351.6L911.9 2350.9L953.4 2351.6" stroke="#000" stroke-width="1.3" fill="none"/>
<g fill="#0433FF" stroke="#000" stroke-width="2.6"><circle cx="649.7" cy="2354.8" r="4.5"/><circle cx="691.2" cy="2353.7" r="4.5"/><circle cx="732.6" cy="2353.0" r="4.5"/><circle cx="774.1" cy="2353.0" r="4.5"/><circle cx="815.6" cy="2351.6" r="4.5"/><circle cx="911.9" cy="2350.9" r="4.5"/><circle cx="953.4" cy="2351.6" r="4.5"/></g>
<path d="M649.7 2353.7L691.2 2350.2L732.6 2345.3L774.1 2337.2L815.6 2330.8L911.9 2323.4L953.4 2321.7" stroke="#000" stroke-width="1.3" fill="none"/>
<g fill="#FF2600" stroke="#000" stroke-width="2.6"><circle cx="649.7" cy="2353.7" r="4.5"/><circle cx="691.2" cy="2350.2" r="4.5"/><circle cx="732.6" cy="2345.3" r="4.5"/><circle cx="774.1" cy="2337.2" r="4.5"/><circle cx="815.6" cy="2330.8" r="4.5"/><circle cx="911.9" cy="2323.4" r="4.5"/><circle cx="953.4" cy="2321.7" r="4.5"/></g>
<path d="M649.7 2351.9L691.2 2345.3L732.6 2335.1L774.1 2318.2L815.6 2312.2L911.9 2297.0L953.4 2297.7" stroke="#0433FF" stroke-width="1.3" fill="none"/>
<g fill="#0433FF"><circle cx="649.7" cy="2351.9" r="5.4"/><circle cx="691.2" cy="2345.3" r="5.4"/><circle cx="732.6" cy="2335.1" r="5.4"/><circle cx="774.1" cy="2318.2" r="5.4"/><circle cx="815.6" cy="2312.2" r="5.4"/><circle cx="911.9" cy="2297.0" r="5.4"/><circle cx="953.4" cy="2297.7" r="5.4"/></g>
<path d="M649.7 2340.3L691.2 2303.0L732.6 2268.9L774.1 2229.1L815.6 2208.6L911.9 2190.3L953.4 2188.9" stroke="#FF2600" stroke-width="1.3" fill="none"/>
<path d="M815.6 2196.5V2208.6M911.9 2183.5V2190.3M953.4 2182.1V2188.9" stroke="#FF2600" stroke-width="1.5" fill="none"/>
<g fill="#FF2600"><circle cx="649.7" cy="2340.3" r="5.4"/><circle cx="691.2" cy="2303.0" r="5.4"/><circle cx="732.6" cy="2268.9" r="5.4"/><circle cx="774.1" cy="2229.1" r="5.4"/><circle cx="815.6" cy="2208.6" r="5.4"/><circle cx="911.9" cy="2190.3" r="5.4"/><circle cx="953.4" cy="2188.9" r="5.4"/></g>
<path d="M644.0 2154.6H667.1" stroke="#FF2600" stroke-width="1.6"/>
<circle cx="655.5" cy="2154.6" r="5.4" fill="#FF2600"/>
<text x="677.8" y="2162.2" font-size="22">V74A</text>
<path d="M644.0 2172.8H667.1" stroke="#0433FF" stroke-width="1.6"/>
<circle cx="655.5" cy="2172.8" r="5.4" fill="#0433FF"/>
<text x="677.8" y="2180.4" font-size="22">D83A</text>
<path d="M644.0 2190.9H667.1" stroke="#000" stroke-width="1.6"/>
<circle cx="655.5" cy="2190.9" r="4.5" fill="#FF2600" stroke="#000" stroke-width="2.6"/>
<text x="677.8" y="2198.5" font-size="22">V74A + qVD</text>
<path d="M644.0 2208.7H667.1" stroke="#000" stroke-width="1.6"/>
<circle cx="655.5" cy="2208.7" r="4.5" fill="#0433FF" stroke="#000" stroke-width="2.6"/>
<text x="677.8" y="2216.3" font-size="22">D83A + qVD</text>
</g>
<text x="1363.1" y="2106.0" font-size="27.1" text-anchor="middle">mC-BAK + BID BCL2allKO HCT116</text>
<text x="1516.1" y="2138.6" font-size="26.4" text-anchor="middle">Dox</text>
<text x="1516.1" y="2165.1" font-size="26.4" text-anchor="middle">(ng/mL)</text>
<text x="1177.3" y="2173.0" font-size="27.3" transform="rotate(-47 1177.3 2173.0)">kDa</text>
<text x="1208.3" y="2169.0" font-size="27.3" transform="rotate(-47 1208.3 2169.0)">0</text>
<text x="1242.3" y="2171.0" font-size="27.3" transform="rotate(-47 1242.3 2171.0)">6.25</text>
<text x="1273.3" y="2171.0" font-size="27.3" transform="rotate(-47 1273.3 2171.0)">12.5</text>
<text x="1304.3" y="2171.0" font-size="27.3" transform="rotate(-47 1304.3 2171.0)">25</text>
<text x="1339.3" y="2170.0" font-size="27.3" transform="rotate(-47 1339.3 2170.0)">50</text>
<text x="1369.3" y="2170.0" font-size="27.3" transform="rotate(-47 1369.3 2170.0)">100</text>
<text x="1402.3" y="2171.0" font-size="27.3" transform="rotate(-47 1402.3 2171.0)">500</text>
<text x="1434.3" y="2170.0" font-size="27.3" transform="rotate(-47 1434.3 2170.0)">1000</text>
<g clip-path="url(#bc5)">
<rect x="1166.0" y="2172.3" width="289.0" height="53.8" fill="url(#bg5)"/>
<rect x="1221.8" y="2172" width="3.2" height="54" fill="#fff" opacity="0.22" filter="url(#blur2)"/><rect x="1254.5" y="2172" width="3.2" height="54" fill="#fff" opacity="0.22" filter="url(#blur2)"/><rect x="1286.8" y="2172" width="3.2" height="54" fill="#fff" opacity="0.22" filter="url(#blur2)"/><rect x="1318.8" y="2172" width="3.2" height="54" fill="#fff" opacity="0.22" filter="url(#blur2)"/><rect x="1351.3" y="2172" width="3.2" height="54" fill="#fff" opacity="0.22" filter="url(#blur2)"/><rect x="1383.6" y="2172" width="3.2" height="54" fill="#fff" opacity="0.22" filter="url(#blur2)"/><rect x="1417.3" y="2172" width="3.2" height="54" fill="#fff" opacity="0.22" filter="url(#blur2)"/>
<g filter="url(#blur4)">
<rect x="1193.7" y="2190.0" width="27.0" height="10.0" fill="#30343c" opacity="0.27"/>
<rect x="1226.0" y="2190.0" width="27.0" height="10.0" fill="#30343c" opacity="0.334"/>
<rect x="1259.1" y="2190.0" width="27.0" height="10.0" fill="#30343c" opacity="0.33"/>
<rect x="1290.8" y="2190.0" width="27.0" height="10.0" fill="#30343c" opacity="0.354"/>
<rect x="1323.1" y="2190.0" width="27.0" height="10.0" fill="#30343c" opacity="0.374"/>
<rect x="1355.7" y="2190.0" width="27.0" height="10.0" fill="#30343c" opacity="0.4"/>
<rect x="1387.7" y="2190.0" width="27.0" height="10.0" fill="#30343c" opacity="0.42000000000000004"/>
<rect x="1423.1" y="2190.0" width="27.0" height="10.0" fill="#30343c" opacity="0.41000000000000003"/>
</g>
<g filter="url(#blur2)">
<rect x="1167.0" y="2184.0" width="22.0" height="12.0" rx="6.0" fill="#A9C3E8" opacity="0.6"/>
<rect x="1167.0" y="2212.0" width="22.0" height="12.0" rx="6.0" fill="#7FA6DF" opacity="0.7"/>
</g>
<g filter="url(#blur15)" fill="#05070C">
<path d="M1192.5 2185.7C1194.0 2186.8 1196.5 2187.7 1207.2 2188.2C1218.0 2187.7 1220.5 2186.8 1222.0 2185.7L1222.5 2190.4Q1222.0 2193.4 1218.0 2194.0L1196.5 2194.0Q1192.5 2193.4 1191.9 2190.4Z" opacity="0.92"/>
<path d="M1224.8 2185.7C1226.2 2186.8 1228.8 2187.7 1239.5 2188.2C1250.2 2187.7 1252.8 2186.8 1254.2 2185.7L1254.8 2190.4Q1254.2 2193.4 1250.2 2194.0L1228.8 2194.0Q1224.8 2193.4 1224.2 2190.4Z" opacity="0.9"/>
<path d="M1257.8 2185.7C1259.3 2186.8 1261.8 2187.7 1272.6 2188.2C1283.3 2187.7 1285.8 2186.8 1287.3 2185.7L1287.9 2190.4Q1287.3 2193.4 1283.3 2194.0L1261.8 2194.0Q1257.8 2193.4 1257.2 2190.4Z" opacity="0.9"/>
<path d="M1289.5 2185.7C1291.0 2186.8 1293.5 2187.7 1304.3 2188.2C1315.0 2187.7 1317.5 2186.8 1319.0 2185.7L1319.6 2190.4Q1319.0 2193.4 1315.0 2194.0L1293.5 2194.0Q1289.5 2193.4 1289.0 2190.4Z" opacity="0.9"/>
<path d="M1321.8 2185.7C1323.3 2186.8 1325.8 2187.7 1336.6 2188.2C1347.3 2187.7 1349.8 2186.8 1351.3 2185.7L1351.9 2190.4Q1351.3 2193.4 1347.3 2194.0L1325.8 2194.0Q1321.8 2193.4 1321.2 2190.4Z" opacity="0.88"/>
<path d="M1354.5 2185.7C1356.0 2186.8 1358.5 2187.7 1369.2 2188.2C1380.0 2187.7 1382.5 2186.8 1384.0 2185.7L1384.5 2190.4Q1384.0 2193.4 1380.0 2194.0L1358.5 2194.0Q1354.5 2193.4 1353.9 2190.4Z" opacity="0.92"/>
<path d="M1386.5 2185.7C1388.0 2186.8 1390.5 2187.7 1401.2 2188.2C1412.0 2187.7 1414.5 2186.8 1416.0 2185.7L1416.5 2190.4Q1416.0 2193.4 1412.0 2194.0L1390.5 2194.0Q1386.5 2193.4 1385.9 2190.4Z" opacity="0.9"/>
<path d="M1421.8 2185.7C1423.3 2186.8 1425.8 2187.7 1436.6 2188.2C1447.3 2187.7 1449.8 2186.8 1451.3 2185.7L1451.9 2190.4Q1451.3 2193.4 1447.3 2194.0L1425.8 2194.0Q1421.8 2193.4 1421.2 2190.4Z" opacity="0.92"/>
<path d="M1193.0 2196.3C1194.5 2197.0 1197.0 2197.8 1207.2 2198.3C1217.5 2197.8 1220.0 2197.0 1221.5 2196.3L1222.0 2200.3Q1221.5 2203.3 1217.5 2203.9L1197.0 2203.9Q1193.0 2203.3 1192.4 2200.3Z" opacity="0.1"/>
<path d="M1225.2 2196.3C1226.8 2197.0 1229.2 2197.8 1239.5 2198.3C1249.8 2197.8 1252.2 2197.0 1253.8 2196.3L1254.3 2200.3Q1253.8 2203.3 1249.8 2203.9L1229.2 2203.9Q1225.2 2203.3 1224.7 2200.3Z" opacity="0.42"/>
<path d="M1258.3 2196.3C1259.8 2197.0 1262.3 2197.8 1272.6 2198.3C1282.8 2197.8 1285.3 2197.0 1286.8 2196.3L1287.4 2200.3Q1286.8 2203.3 1282.8 2203.9L1262.3 2203.9Q1258.3 2203.3 1257.8 2200.3Z" opacity="0.4"/>
<path d="M1290.0 2196.3C1291.5 2197.0 1294.0 2197.8 1304.3 2198.3C1314.5 2197.8 1317.0 2197.0 1318.5 2196.3L1319.1 2200.3Q1318.5 2203.3 1314.5 2203.9L1294.0 2203.9Q1290.0 2203.3 1289.5 2200.3Z" opacity="0.52"/>
<path d="M1322.3 2196.3C1323.8 2197.0 1326.3 2197.8 1336.6 2198.3C1346.8 2197.8 1349.3 2197.0 1350.8 2196.3L1351.4 2200.3Q1350.8 2203.3 1346.8 2203.9L1326.3 2203.9Q1322.3 2203.3 1321.8 2200.3Z" opacity="0.62"/>
<path d="M1355.0 2196.3C1356.5 2197.0 1359.0 2197.8 1369.2 2198.3C1379.5 2197.8 1382.0 2197.0 1383.5 2196.3L1384.0 2200.3Q1383.5 2203.3 1379.5 2203.9L1359.0 2203.9Q1355.0 2203.3 1354.4 2200.3Z" opacity="0.75"/>
<path d="M1387.0 2196.3C1388.5 2197.0 1391.0 2197.8 1401.2 2198.3C1411.5 2197.8 1414.0 2197.0 1415.5 2196.3L1416.0 2200.3Q1415.5 2203.3 1411.5 2203.9L1391.0 2203.9Q1387.0 2203.3 1386.4 2200.3Z" opacity="0.85"/>
<path d="M1422.3 2196.3C1423.8 2197.0 1426.3 2197.8 1436.6 2198.3C1446.8 2197.8 1449.3 2197.0 1450.8 2196.3L1451.4 2200.3Q1450.8 2203.3 1446.8 2203.9L1426.3 2203.9Q1422.3 2203.3 1421.8 2200.3Z" opacity="0.8"/>
</g>
</g>
<text x="1165.3" y="2201.6" font-size="25">50</text>
<text x="1165.3" y="2224.7" font-size="25">37</text>
<text x="1483.9" y="2209.8" font-size="26.7">V74A</text>
<g clip-path="url(#bc6)">
<rect x="1166.0" y="2234.2" width="289.0" height="50.5" fill="url(#bg6)"/>
<rect x="1221.8" y="2234" width="3.2" height="51" fill="#fff" opacity="0.22" filter="url(#blur2)"/><rect x="1254.5" y="2234" width="3.2" height="51" fill="#fff" opacity="0.22" filter="url(#blur2)"/><rect x="1286.8" y="2234" width="3.2" height="51" fill="#fff" opacity="0.22" filter="url(#blur2)"/><rect x="1318.8" y="2234" width="3.2" height="51" fill="#fff" opacity="0.22" filter="url(#blur2)"/><rect x="1351.3" y="2234" width="3.2" height="51" fill="#fff" opacity="0.22" filter="url(#blur2)"/><rect x="1383.6" y="2234" width="3.2" height="51" fill="#fff" opacity="0.22" filter="url(#blur2)"/><rect x="1417.3" y="2234" width="3.2" height="51" fill="#fff" opacity="0.22" filter="url(#blur2)"/>
<g filter="url(#blur4)">
<rect x="1193.2" y="2251.0" width="28.0" height="14.0" fill="#30343c" opacity="0.13"/>
<rect x="1225.5" y="2251.0" width="28.0" height="14.0" fill="#30343c" opacity="0.13"/>
<rect x="1258.6" y="2251.0" width="28.0" height="14.0" fill="#30343c" opacity="0.13"/>
<rect x="1290.3" y="2251.0" width="28.0" height="14.0" fill="#30343c" opacity="0.13"/>
<rect x="1322.6" y="2251.0" width="28.0" height="14.0" fill="#30343c" opacity="0.13"/>
<rect x="1355.2" y="2251.0" width="28.0" height="14.0" fill="#30343c" opacity="0.13"/>
<rect x="1387.2" y="2251.0" width="28.0" height="14.0" fill="#30343c" opacity="0.13"/>
<rect x="1422.6" y="2251.0" width="28.0" height="14.0" fill="#30343c" opacity="0.13"/>
</g>
<g filter="url(#blur2)">
<rect x="1167.0" y="2241.0" width="22.0" height="10.0" rx="5.0" fill="#8FB2EA" opacity="0.6"/>
<rect x="1167.0" y="2266.0" width="22.0" height="12.0" rx="6.0" fill="#7FA6DF" opacity="0.7"/>
</g>
<g filter="url(#blur15)" fill="#05070C">
<path d="M1192.2 2252.4C1193.7 2253.8 1196.2 2254.9 1207.2 2255.4C1218.2 2254.9 1220.7 2253.8 1222.2 2252.4L1222.8 2259.4Q1222.2 2262.4 1218.2 2263.0L1196.2 2263.0Q1192.2 2262.4 1191.6 2259.4Z" opacity="0.97"/>
<path d="M1224.5 2252.4C1226.0 2253.8 1228.5 2254.9 1239.5 2255.4C1250.5 2254.9 1253.0 2253.8 1254.5 2252.4L1255.1 2259.4Q1254.5 2262.4 1250.5 2263.0L1228.5 2263.0Q1224.5 2262.4 1223.9 2259.4Z" opacity="0.85"/>
<path d="M1257.6 2252.4C1259.1 2253.8 1261.6 2254.9 1272.6 2255.4C1283.6 2254.9 1286.1 2253.8 1287.6 2252.4L1288.2 2259.4Q1287.6 2262.4 1283.6 2263.0L1261.6 2263.0Q1257.6 2262.4 1257.0 2259.4Z" opacity="0.8"/>
<path d="M1289.3 2252.4C1290.8 2253.8 1293.3 2254.9 1304.3 2255.4C1315.3 2254.9 1317.8 2253.8 1319.3 2252.4L1319.9 2259.4Q1319.3 2262.4 1315.3 2263.0L1293.3 2263.0Q1289.3 2262.4 1288.7 2259.4Z" opacity="0.97"/>
<path d="M1321.6 2252.4C1323.1 2253.8 1325.6 2254.9 1336.6 2255.4C1347.6 2254.9 1350.1 2253.8 1351.6 2252.4L1352.2 2259.4Q1351.6 2262.4 1347.6 2263.0L1325.6 2263.0Q1321.6 2262.4 1321.0 2259.4Z" opacity="0.95"/>
<path d="M1354.2 2252.4C1355.7 2253.8 1358.2 2254.9 1369.2 2255.4C1380.2 2254.9 1382.7 2253.8 1384.2 2252.4L1384.8 2259.4Q1384.2 2262.4 1380.2 2263.0L1358.2 2263.0Q1354.2 2262.4 1353.6 2259.4Z" opacity="0.97"/>
<path d="M1386.2 2252.4C1387.7 2253.8 1390.2 2254.9 1401.2 2255.4C1412.2 2254.9 1414.7 2253.8 1416.2 2252.4L1416.8 2259.4Q1416.2 2262.4 1412.2 2263.0L1390.2 2263.0Q1386.2 2262.4 1385.6 2259.4Z" opacity="0.97"/>
<path d="M1421.6 2252.4C1423.1 2253.8 1425.6 2254.9 1436.6 2255.4C1447.6 2254.9 1450.1 2253.8 1451.6 2252.4L1452.2 2259.4Q1451.6 2262.4 1447.6 2263.0L1425.6 2263.0Q1421.6 2262.4 1421.0 2259.4Z" opacity="0.97"/>
</g>
</g>
<text x="1165.3" y="2256.4" font-size="25">50</text>
<text x="1165.3" y="2278.5" font-size="25">37</text>
<text x="1488.2" y="2268.8" font-size="26.7">Actin</text>
<g clip-path="url(#bc7)">
<rect x="1166.0" y="2310.3" width="289.0" height="55.3" fill="url(#bg7)"/>
<rect x="1221.8" y="2310" width="3.2" height="56" fill="#fff" opacity="0.22" filter="url(#blur2)"/><rect x="1254.5" y="2310" width="3.2" height="56" fill="#fff" opacity="0.22" filter="url(#blur2)"/><rect x="1286.8" y="2310" width="3.2" height="56" fill="#fff" opacity="0.22" filter="url(#blur2)"/><rect x="1318.8" y="2310" width="3.2" height="56" fill="#fff" opacity="0.22" filter="url(#blur2)"/><rect x="1351.3" y="2310" width="3.2" height="56" fill="#fff" opacity="0.22" filter="url(#blur2)"/><rect x="1383.6" y="2310" width="3.2" height="56" fill="#fff" opacity="0.22" filter="url(#blur2)"/><rect x="1417.3" y="2310" width="3.2" height="56" fill="#fff" opacity="0.22" filter="url(#blur2)"/>
<g filter="url(#blur4)">
<rect x="1193.7" y="2327.5" width="27.0" height="11.0" fill="#30343c" opacity="0.27"/>
<rect x="1226.0" y="2327.5" width="27.0" height="11.0" fill="#30343c" opacity="0.355"/>
<rect x="1259.1" y="2327.5" width="27.0" height="11.0" fill="#30343c" opacity="0.3625"/>
<rect x="1290.8" y="2327.5" width="27.0" height="11.0" fill="#30343c" opacity="0.405"/>
<rect x="1323.1" y="2327.5" width="27.0" height="11.0" fill="#30343c" opacity="0.48"/>
<rect x="1355.7" y="2327.5" width="27.0" height="11.0" fill="#30343c" opacity="0.47"/>
<rect x="1387.7" y="2327.5" width="27.0" height="11.0" fill="#30343c" opacity="0.5"/>
<rect x="1423.1" y="2327.5" width="27.0" height="11.0" fill="#30343c" opacity="0.4925"/>
<rect x="1386.2" y="2319.0" width="30.0" height="30.0" fill="#20242c" opacity="0.5"/>
<rect x="1322.6" y="2317.0" width="28.0" height="10.0" fill="#30343c" opacity="0.2"/>
</g>
<g filter="url(#blur2)">
<rect x="1167.0" y="2324.0" width="22.0" height="12.0" rx="6.0" fill="#A9C3E8" opacity="0.6"/>
<rect x="1167.0" y="2351.5" width="22.0" height="13.0" rx="6.5" fill="#7FA6DF" opacity="0.7"/>
</g>
<g filter="url(#blur15)" fill="#05070C">
<path d="M1192.5 2324.0C1194.0 2325.1 1196.5 2326.0 1207.2 2326.5C1218.0 2326.0 1220.5 2325.1 1222.0 2324.0L1222.5 2328.5Q1222.0 2331.5 1218.0 2332.1L1196.5 2332.1Q1192.5 2331.5 1191.9 2328.5Z" opacity="0.9"/>
<path d="M1224.8 2324.0C1226.2 2325.1 1228.8 2326.0 1239.5 2326.5C1250.2 2326.0 1252.8 2325.1 1254.2 2324.0L1254.8 2328.5Q1254.2 2331.5 1250.2 2332.1L1228.8 2332.1Q1224.8 2331.5 1224.2 2328.5Z" opacity="0.92"/>
<path d="M1257.8 2324.0C1259.3 2325.1 1261.8 2326.0 1272.6 2326.5C1283.3 2326.0 1285.8 2325.1 1287.3 2324.0L1287.9 2328.5Q1287.3 2331.5 1283.3 2332.1L1261.8 2332.1Q1257.8 2331.5 1257.2 2328.5Z" opacity="0.88"/>
<path d="M1289.5 2324.0C1291.0 2325.1 1293.5 2326.0 1304.3 2326.5C1315.0 2326.0 1317.5 2325.1 1319.0 2324.0L1319.6 2328.5Q1319.0 2331.5 1315.0 2332.1L1293.5 2332.1Q1289.5 2331.5 1289.0 2328.5Z" opacity="0.92"/>
<path d="M1321.8 2324.0C1323.3 2325.1 1325.8 2326.0 1336.6 2326.5C1347.3 2326.0 1349.8 2325.1 1351.3 2324.0L1351.9 2328.5Q1351.3 2331.5 1347.3 2332.1L1325.8 2332.1Q1321.8 2331.5 1321.2 2328.5Z" opacity="0.97"/>
<path d="M1354.5 2324.0C1356.0 2325.1 1358.5 2326.0 1369.2 2326.5C1380.0 2326.0 1382.5 2325.1 1384.0 2324.0L1384.5 2328.5Q1384.0 2331.5 1380.0 2332.1L1358.5 2332.1Q1354.5 2331.5 1353.9 2328.5Z" opacity="0.9"/>
<path d="M1386.5 2324.0C1388.0 2325.1 1390.5 2326.0 1401.2 2326.5C1412.0 2326.0 1414.5 2325.1 1416.0 2324.0L1416.5 2328.5Q1416.0 2331.5 1412.0 2332.1L1390.5 2332.1Q1386.5 2331.5 1385.9 2328.5Z" opacity="1"/>
<path d="M1421.8 2324.0C1423.3 2325.1 1425.8 2326.0 1436.6 2326.5C1447.3 2326.0 1449.8 2325.1 1451.3 2324.0L1451.9 2328.5Q1451.3 2331.5 1447.3 2332.1L1425.8 2332.1Q1421.8 2331.5 1421.2 2328.5Z" opacity="0.88"/>
<path d="M1193.0 2334.1C1194.5 2334.8 1197.0 2335.6 1207.2 2336.1C1217.5 2335.6 1220.0 2334.8 1221.5 2334.1L1222.0 2338.6Q1221.5 2341.6 1217.5 2342.2L1197.0 2342.2Q1193.0 2341.6 1192.4 2338.6Z" opacity="0.08"/>
<path d="M1225.2 2334.1C1226.8 2334.8 1229.2 2335.6 1239.5 2336.1C1249.8 2335.6 1252.2 2334.8 1253.8 2334.1L1254.3 2338.6Q1253.8 2341.6 1249.8 2342.2L1229.2 2342.2Q1225.2 2341.6 1224.7 2338.6Z" opacity="0.42"/>
<path d="M1258.3 2334.1C1259.8 2334.8 1262.3 2335.6 1272.6 2336.1C1282.8 2335.6 1285.3 2334.8 1286.8 2334.1L1287.4 2338.6Q1286.8 2341.6 1282.8 2342.2L1262.3 2342.2Q1258.3 2341.6 1257.8 2338.6Z" opacity="0.45"/>
<path d="M1290.0 2334.1C1291.5 2334.8 1294.0 2335.6 1304.3 2336.1C1314.5 2335.6 1317.0 2334.8 1318.5 2334.1L1319.1 2338.6Q1318.5 2341.6 1314.5 2342.2L1294.0 2342.2Q1290.0 2341.6 1289.5 2338.6Z" opacity="0.62"/>
<path d="M1322.3 2334.1C1323.8 2334.8 1326.3 2335.6 1336.6 2336.1C1346.8 2335.6 1349.3 2334.8 1350.8 2334.1L1351.4 2338.6Q1350.8 2341.6 1346.8 2342.2L1326.3 2342.2Q1322.3 2341.6 1321.8 2338.6Z" opacity="0.92"/>
<path d="M1355.0 2334.1C1356.5 2334.8 1359.0 2335.6 1369.2 2336.1C1379.5 2335.6 1382.0 2334.8 1383.5 2334.1L1384.0 2338.6Q1383.5 2341.6 1379.5 2342.2L1359.0 2342.2Q1355.0 2341.6 1354.4 2338.6Z" opacity="0.88"/>
<path d="M1387.0 2334.1C1388.5 2334.8 1391.0 2335.6 1401.2 2336.1C1411.5 2335.6 1414.0 2334.8 1415.5 2334.1L1416.0 2338.6Q1415.5 2341.6 1411.5 2342.2L1391.0 2342.2Q1387.0 2341.6 1386.4 2338.6Z" opacity="1"/>
<path d="M1422.3 2334.1C1423.8 2334.8 1426.3 2335.6 1436.6 2336.1C1446.8 2335.6 1449.3 2334.8 1450.8 2334.1L1451.4 2338.6Q1450.8 2341.6 1446.8 2342.2L1426.3 2342.2Q1422.3 2341.6 1421.8 2338.6Z" opacity="0.97"/>
<rect x="1385.7" y="2324.5" width="31.0" height="19.0" rx="4.0" opacity="1"/>
</g>
</g>
<text x="1165.3" y="2340.2" font-size="25">50</text>
<text x="1165.3" y="2367.0" font-size="25">37</text>
<text x="1483.9" y="2346.9" font-size="26.7">D83A</text>
<g clip-path="url(#bc8)">
<rect x="1166.0" y="2374.2" width="289.0" height="52.2" fill="url(#bg8)"/>
<rect x="1221.8" y="2374" width="3.2" height="53" fill="#fff" opacity="0.22" filter="url(#blur2)"/><rect x="1254.5" y="2374" width="3.2" height="53" fill="#fff" opacity="0.22" filter="url(#blur2)"/><rect x="1286.8" y="2374" width="3.2" height="53" fill="#fff" opacity="0.22" filter="url(#blur2)"/><rect x="1318.8" y="2374" width="3.2" height="53" fill="#fff" opacity="0.22" filter="url(#blur2)"/><rect x="1351.3" y="2374" width="3.2" height="53" fill="#fff" opacity="0.22" filter="url(#blur2)"/><rect x="1383.6" y="2374" width="3.2" height="53" fill="#fff" opacity="0.22" filter="url(#blur2)"/><rect x="1417.3" y="2374" width="3.2" height="53" fill="#fff" opacity="0.22" filter="url(#blur2)"/>
<g filter="url(#blur4)">
<rect x="1193.2" y="2392.0" width="28.0" height="14.0" fill="#30343c" opacity="0.13"/>
<rect x="1225.5" y="2392.0" width="28.0" height="14.0" fill="#30343c" opacity="0.13"/>
<rect x="1258.6" y="2392.0" width="28.0" height="14.0" fill="#30343c" opacity="0.13"/>
<rect x="1290.3" y="2392.0" width="28.0" height="14.0" fill="#30343c" opacity="0.13"/>
<rect x="1322.6" y="2392.0" width="28.0" height="14.0" fill="#30343c" opacity="0.13"/>
<rect x="1355.2" y="2392.0" width="28.0" height="14.0" fill="#30343c" opacity="0.13"/>
<rect x="1387.2" y="2392.0" width="28.0" height="14.0" fill="#30343c" opacity="0.13"/>
<rect x="1422.6" y="2392.0" width="28.0" height="14.0" fill="#30343c" opacity="0.13"/>
</g>
<g filter="url(#blur2)">
<rect x="1167.0" y="2381.0" width="22.0" height="10.0" rx="5.0" fill="#8FB2EA" opacity="0.6"/>
<rect x="1167.0" y="2408.0" width="22.0" height="12.0" rx="6.0" fill="#7FA6DF" opacity="0.7"/>
</g>
<g filter="url(#blur15)" fill="#05070C">
<path d="M1192.0 2393.4C1193.5 2394.8 1196.0 2395.9 1207.2 2396.4C1218.5 2395.9 1221.0 2394.8 1222.5 2393.4L1223.0 2400.8Q1222.5 2403.8 1218.5 2404.3L1196.0 2404.3Q1192.0 2403.8 1191.4 2400.8Z" opacity="0.99"/>
<path d="M1224.2 2393.4C1225.8 2394.8 1228.2 2395.9 1239.5 2396.4C1250.8 2395.9 1253.2 2394.8 1254.8 2393.4L1255.3 2400.8Q1254.8 2403.8 1250.8 2404.3L1228.2 2404.3Q1224.2 2403.8 1223.7 2400.8Z" opacity="0.99"/>
<path d="M1257.3 2393.4C1258.8 2394.8 1261.3 2395.9 1272.6 2396.4C1283.8 2395.9 1286.3 2394.8 1287.8 2393.4L1288.4 2400.8Q1287.8 2403.8 1283.8 2404.3L1261.3 2404.3Q1257.3 2403.8 1256.8 2400.8Z" opacity="0.99"/>
<path d="M1289.0 2393.4C1290.5 2394.8 1293.0 2395.9 1304.3 2396.4C1315.5 2395.9 1318.0 2394.8 1319.5 2393.4L1320.1 2400.8Q1319.5 2403.8 1315.5 2404.3L1293.0 2404.3Q1289.0 2403.8 1288.5 2400.8Z" opacity="0.99"/>
<path d="M1321.3 2393.4C1322.8 2394.8 1325.3 2395.9 1336.6 2396.4C1347.8 2395.9 1350.3 2394.8 1351.8 2393.4L1352.4 2400.8Q1351.8 2403.8 1347.8 2404.3L1325.3 2404.3Q1321.3 2403.8 1320.8 2400.8Z" opacity="0.99"/>
<path d="M1354.0 2393.4C1355.5 2394.8 1358.0 2395.9 1369.2 2396.4C1380.5 2395.9 1383.0 2394.8 1384.5 2393.4L1385.0 2400.8Q1384.5 2403.8 1380.5 2404.3L1358.0 2404.3Q1354.0 2403.8 1353.4 2400.8Z" opacity="0.99"/>
<path d="M1386.0 2393.4C1387.5 2394.8 1390.0 2395.9 1401.2 2396.4C1412.5 2395.9 1415.0 2394.8 1416.5 2393.4L1417.0 2400.8Q1416.5 2403.8 1412.5 2404.3L1390.0 2404.3Q1386.0 2403.8 1385.4 2400.8Z" opacity="0.99"/>
<path d="M1421.3 2393.4C1422.8 2394.8 1425.3 2395.9 1436.6 2396.4C1447.8 2395.9 1450.3 2394.8 1451.8 2393.4L1452.4 2400.8Q1451.8 2403.8 1447.8 2404.3L1425.3 2404.3Q1421.3 2403.8 1420.8 2400.8Z" opacity="0.99"/>
</g>
</g>
<text x="1165.3" y="2394.9" font-size="25">50</text>
<text x="1165.3" y="2422.3" font-size="25">37</text>
<text x="1488.2" y="2406.8" font-size="26.7">Actin</text>
<text x="1455.5" y="2202.5" font-size="27">*</text>
<path d="M1456.0 2200.5L1471.0 2194.0L1466.5 2200.5L1471.0 2207.0Z" fill="#000"/>
<text x="1455.5" y="2341.0" font-size="27">*</text>
<path d="M1456.0 2339.5L1471.0 2333.0L1466.5 2339.5L1471.0 2346.0Z" fill="#000"/>
</svg>
</body></html>
